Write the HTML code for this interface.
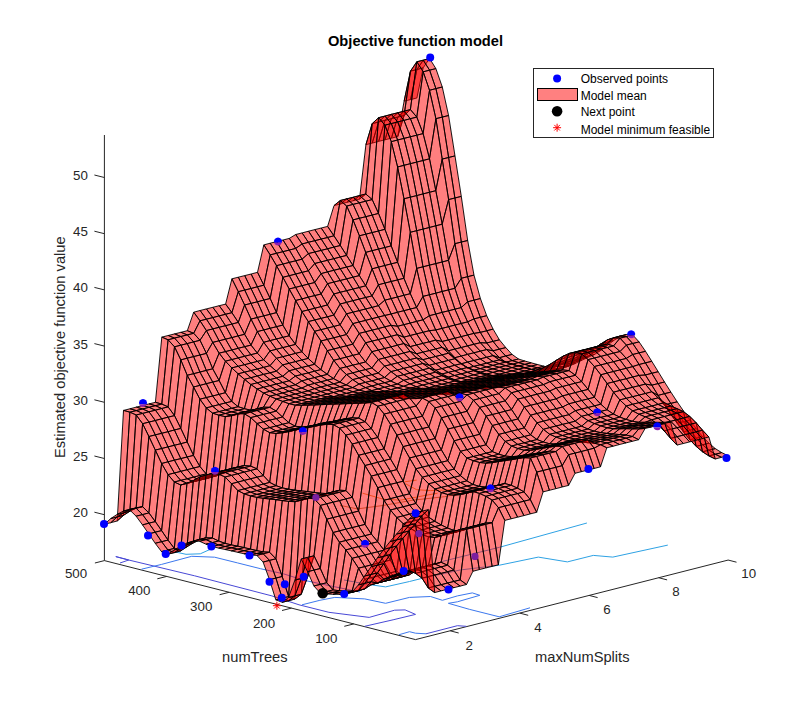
<!DOCTYPE html>
<html><head><meta charset="utf-8"><title>Objective function model</title>
<style>
html,body{margin:0;padding:0;background:#fff}
body{width:803px;height:720px;overflow:hidden}
svg{display:block;font-family:"Liberation Sans",sans-serif}
.tk text{font-size:13.33px;fill:#262626}
.lb text{font-size:14.67px;fill:#262626}
.lg text{font-size:12px;fill:#000}
</style></head><body>
<svg width="803" height="720" viewBox="0 0 803 720">
<rect width="803" height="720" fill="#fff"/>
<g id="axes"><path d="M104.4 135V560.6L415.5 639.6L728 560.1" fill="none" stroke="#262626" stroke-width="1"/><path d="M104.4 514.7l-10 -2.5M104.4 458.5l-10 -2.5M104.4 402.3l-10 -2.5M104.4 346.1l-10 -2.5M104.4 289.9l-10 -2.5M104.4 233.7l-10 -2.5M104.4 177.5l-10 -2.5M104.4 560.6l-9.5 2.4M166.8 576.4l-9.5 2.4M229.1 592.3l-9.5 2.4M291.5 608.1l-9.5 2.4M353.8 623.9l-9.5 2.4M450.2 630.8l8.5 2.2M519.7 613.1l8.5 2.2M589.1 595.4l8.5 2.2M658.6 577.7l8.5 2.2M728.0 560.0l8.5 2.2" fill="none" stroke="#262626" stroke-width="1"/></g>
<g id="floor" fill="none" stroke-width="1"><polyline points="120.0,563.0 128.7,560.0 115.8,556.6 128.7,560.0 194.6,575.8 271.9,595.9 299.0,604.8 328.9,612.3 369.2,617.4 394.6,610.2 405.1,609.9 415.5,614.4 393.1,619.8 364.7,626.3" stroke="#4848d6"/><polyline points="141.5,569.2 161.6,564.4 191.7,556.3 214.6,557.2 237.5,562.9 260.5,568.7 283.4,573.8 303.4,580.1 330.0,585.8 360.0,592.0" stroke="#3c78ee"/><polyline points="302.0,604.8 319.9,600.3 334.8,597.4 364.7,598.9 385.6,603.3 409.5,597.4 430.5,596.5 442.4,600.3 457.4,595.9 472.3,592.9 479.8,595.3 457.4,601.8 448.4,603.3 469.3,609.3 499.2,616.8 530.0,607.8" stroke="#3c78ee"/><polyline points="170.2,550.9 186.0,554.3 200.3,553.8 213.2,548.0" stroke="#2ea2e4"/><polyline points="344.0,580.0 364.7,583.9 385.6,586.9 409.5,581.5 421.5,578.5 460.0,570.0 499.4,565.2 538.3,557.1 567.4,561.9 593.3,555.4 612.8,557.1 667.8,545.1" stroke="#2ea2e4"/><polyline points="440.0,562.0 499.4,547.3 586.9,523.0" stroke="#2ea2e4"/><polyline points="399.1,634.7 409.5,631.7 415.5,633.2 426.0,633.8" stroke="#3c78ee"/><polyline points="426.0,633.8 457.4,625.7 466.3,626.3" stroke="#4848d6"/><polyline points="404.5,481.8 416.7,480.1" stroke="#e59a3c"/><polyline points="405.3,483.6 416.7,489.7 430.6,490.6 451.5,489.7" stroke="#e59a3c"/><polyline points="362.6,493.2 383.6,499.3 401.0,500.1 418.4,496.7 437.6,493.2" stroke="#e59a3c"/><polyline points="340.0,505.4 357.4,508.9 383.6,505.4 413.2,500.1 444.5,496.7 465.4,492.3" stroke="#b08a50"/></g>
<g id="surf" fill="#f00" fill-opacity=".5" stroke="#000" stroke-width=".9" stroke-linejoin="round" shape-rendering="crispEdges">
<path d="M416.9 69.5l-6.4 30.1l6.4 -1.6l6.3 -30.2z"/>
<path d="M410.5 71.1l-6.4 30.1l6.4 -1.6l6.4 -30.1z"/>
<path d="M404.1 115.5l-6.4 21.1l6.4 -35.4l6.4 -30.1z"/>
<path d="M397.7 117.1l-6.3 21.1l6.3 -1.6l6.4 -21.1z"/>
<path d="M391.3 118.7l-6.3 21.1l6.4 -1.6l6.3 -21.1z"/>
<path d="M385 120.3l-6.4 21.1l6.4 -1.6l6.3 -21.1z"/>
<path d="M378.6 122l-6.4 21.1l6.4 -1.7l6.4 -21.1z"/>
<path d="M372.2 123.6l-6.3 21.1l6.3 -1.6l6.4 -21.1z"/>
<path d="M365.8 194l-6.3 5.1l6.4 -54.4l6.3 -21.1z"/>
<path d="M359.5 195.6l-6.4 5.2l6.4 -1.7l6.3 -5.1z"/>
<path d="M353.1 197.3l-6.4 5.1l6.4 -1.6l6.4 -5.2z"/>
<path d="M346.7 198.9l-6.3 5.1l6.3 -1.6l6.4 -5.1z"/>
<path d="M340.3 200.5l-6.3 5.1l6.4 -1.6l6.3 -5.1z"/>
<path d="M333.9 235.8l-6.3 -9.4l6.4 -20.8l6.3 -5.1z"/>
<path d="M327.6 237.5l-6.4 -9.5l6.4 -1.6l6.3 9.4z"/>
<path d="M321.2 239.1l-6.4 -9.5l6.4 -1.6l6.4 9.5z"/>
<path d="M314.8 240.7l-6.3 -9.5l6.3 -1.6l6.4 9.5z"/>
<path d="M308.4 242.3l-6.3 -9.4l6.4 -1.7l6.3 9.5z"/>
<path d="M302.1 244l-6.4 -9.5l6.4 -1.6l6.3 9.4z"/>
<path d="M295.7 248.4l-6.4 -10l6.4 -3.9l6.4 9.5z"/>
<path d="M289.3 250.1l-6.3 -10.1l6.3 -1.6l6.4 10z"/>
<path d="M282.9 251.7l-6.3 -10.1l6.4 -1.6l6.3 10.1z"/>
<path d="M276.6 253.3l-6.4 -10.1l6.4 -1.6l6.3 10.1z"/>
<path d="M270.2 254.9l-6.4 -10l6.4 -1.7l6.4 10.1z"/>
<path d="M263.8 285.2l-6.3 -12.9l6.3 -27.4l6.4 10z"/>
<path d="M257.4 286.8l-6.3 -12.8l6.4 -1.7l6.3 12.9z"/>
<path d="M251 288.5l-6.3 -12.9l6.4 -1.6l6.3 12.8z"/>
<path d="M244.7 290.1l-6.4 -12.9l6.4 -1.6l6.3 12.9z"/>
<path d="M238.3 291.7l-6.4 -12.9l6.4 -1.6l6.4 12.9z"/>
<path d="M231.9 312.7l-6.3 -8.6l6.3 -25.3l6.4 12.9z"/>
<path d="M225.5 314.3l-6.3 -8.6l6.4 -1.6l6.3 8.6z"/>
<path d="M219.2 315.9l-6.4 -8.6l6.4 -1.6l6.3 8.6z"/>
<path d="M212.8 317.6l-6.4 -8.7l6.4 -1.6l6.4 8.6z"/>
<path d="M206.4 319.2l-6.3 -8.7l6.3 -1.6l6.4 8.7z"/>
<path d="M200 320.8l-6.3 -8.6l6.4 -1.7l6.3 8.7z"/>
<path d="M193.7 333.3l-6.4 -2.6l6.4 -18.5l6.3 8.6z"/>
<path d="M187.3 334.9l-6.4 -2.6l6.4 -1.6l6.4 2.6z"/>
<path d="M180.9 336.5l-6.4 -2.6l6.4 -1.6l6.4 2.6z"/>
<path d="M174.5 338.1l-6.3 -2.6l6.3 -1.6l6.4 2.6z"/>
<path d="M168.1 339.8l-6.3 -2.7l6.4 -1.6l6.3 2.6z"/>
<path d="M161.8 404.1l-6.4 -1.8l6.4 -65.2l6.3 2.7z"/>
<path d="M155.4 405.7l-6.4 -1.8l6.4 -1.6l6.4 1.8z"/>
<path d="M149 407.3l-6.3 -1.8l6.3 -1.6l6.4 1.8z"/>
<path d="M142.6 409l-6.3 -1.9l6.4 -1.6l6.3 1.8z"/>
<path d="M136.3 410.6l-6.4 -1.8l6.4 -1.7l6.3 1.9z"/>
<path d="M129.9 412.2l-6.4 -1.8l6.4 -1.6l6.4 1.8z"/>
<path d="M123.5 515.3l-6.3 5.7l6.3 -110.6l6.4 1.8z"/>
<path d="M117.1 516.9l-6.3 5.8l6.4 -1.7l6.3 -5.7z"/>
<path d="M110.7 518.6l-6.3 5.7l6.4 -1.6l6.3 -5.8z"/>
<path d="M423.2 60.2l-6.3 9.3l6.3 -1.7l6.4 -9.3z"/>
<path d="M416.8 61.8l-6.3 9.3l6.4 -1.6l6.3 -9.3z"/>
<path d="M410.4 109.6l-6.3 5.9l6.4 -44.4l6.3 -9.3z"/>
<path d="M404.1 111.2l-6.4 5.9l6.4 -1.6l6.3 -5.9z"/>
<path d="M397.7 112.8l-6.4 5.9l6.4 -1.6l6.4 -5.9z"/>
<path d="M391.3 114.4l-6.3 5.9l6.3 -1.6l6.4 -5.9z"/>
<path d="M384.9 116.1l-6.3 5.9l6.4 -1.7l6.3 -5.9z"/>
<path d="M378.6 117.7l-6.4 5.9l6.4 -1.6l6.3 -5.9z"/>
<path d="M372.2 199.6l-6.4 -5.6l6.4 -70.4l6.4 -5.9z"/>
<path d="M365.8 201.2l-6.3 -5.6l6.3 -1.6l6.4 5.6z"/>
<path d="M359.4 202.8l-6.3 -5.5l6.4 -1.7l6.3 5.6z"/>
<path d="M353.1 204.4l-6.4 -5.5l6.4 -1.6l6.3 5.5z"/>
<path d="M346.7 206.1l-6.4 -5.6l6.4 -1.6l6.4 5.5z"/>
<path d="M340.3 245.5l-6.4 -9.7l6.4 -35.3l6.4 5.6z"/>
<path d="M333.9 247.1l-6.3 -9.6l6.3 -1.7l6.4 9.7z"/>
<path d="M327.5 248.8l-6.3 -9.7l6.4 -1.6l6.3 9.6z"/>
<path d="M321.2 250.4l-6.4 -9.7l6.4 -1.6l6.3 9.7z"/>
<path d="M314.8 252l-6.4 -9.7l6.4 -1.6l6.4 9.7z"/>
<path d="M308.4 253.6l-6.3 -9.6l6.3 -1.7l6.4 9.7z"/>
<path d="M302 259.2l-6.3 -10.8l6.4 -4.4l6.3 9.6z"/>
<path d="M295.7 260.8l-6.4 -10.7l6.4 -1.7l6.3 10.8z"/>
<path d="M289.3 262.4l-6.4 -10.7l6.4 -1.6l6.4 10.7z"/>
<path d="M282.9 264.1l-6.3 -10.8l6.3 -1.6l6.4 10.7z"/>
<path d="M276.5 265.7l-6.3 -10.8l6.4 -1.6l6.3 10.8z"/>
<path d="M270.2 298.5l-6.4 -13.3l6.4 -30.3l6.3 10.8z"/>
<path d="M263.8 300.1l-6.4 -13.3l6.4 -1.6l6.4 13.3z"/>
<path d="M257.4 301.8l-6.4 -13.3l6.4 -1.7l6.4 13.3z"/>
<path d="M251 303.4l-6.3 -13.3l6.3 -1.6l6.4 13.3z"/>
<path d="M244.6 305l-6.3 -13.3l6.4 -1.6l6.3 13.3z"/>
<path d="M238.3 322.4l-6.4 -9.7l6.4 -21l6.3 13.3z"/>
<path d="M231.9 324.1l-6.4 -9.8l6.4 -1.6l6.4 9.7z"/>
<path d="M225.5 325.7l-6.3 -9.8l6.3 -1.6l6.4 9.8z"/>
<path d="M219.1 327.3l-6.3 -9.7l6.4 -1.7l6.3 9.8z"/>
<path d="M212.8 328.9l-6.4 -9.7l6.4 -1.6l6.3 9.7z"/>
<path d="M206.4 330.6l-6.4 -9.8l6.4 -1.6l6.4 9.7z"/>
<path d="M200 340.3l-6.3 -7l6.3 -12.5l6.4 9.8z"/>
<path d="M193.6 341.9l-6.3 -7l6.4 -1.6l6.3 7z"/>
<path d="M187.2 343.6l-6.3 -7.1l6.4 -1.6l6.3 7z"/>
<path d="M180.9 345.2l-6.4 -7.1l6.4 -1.6l6.3 7.1z"/>
<path d="M174.5 346.8l-6.4 -7l6.4 -1.7l6.4 7.1z"/>
<path d="M168.1 406.9l-6.3 -2.8l6.3 -64.3l6.4 7z"/>
<path d="M161.7 408.5l-6.3 -2.8l6.4 -1.6l6.3 2.8z"/>
<path d="M155.4 410.2l-6.4 -2.9l6.4 -1.6l6.3 2.8z"/>
<path d="M149 411.8l-6.4 -2.8l6.4 -1.7l6.4 2.9z"/>
<path d="M142.6 413.4l-6.3 -2.8l6.3 -1.6l6.4 2.8z"/>
<path d="M136.2 415l-6.3 -2.8l6.4 -1.6l6.3 2.8z"/>
<path d="M129.9 511.2l-6.4 4.1l6.4 -103.1l6.3 2.8z"/>
<path d="M123.5 512.8l-6.4 4.1l6.4 -1.6l6.4 -4.1z"/>
<path d="M117.1 514.4l-6.4 4.2l6.4 -1.7l6.4 -4.1z"/>
<path d="M429.6 70.2l-6.4 -10l6.4 -1.7l6.3 10.1z"/>
<path d="M423.2 71.8l-6.4 -10l6.4 -1.6l6.4 10z"/>
<path d="M416.8 117.1l-6.4 -7.5l6.4 -47.8l6.4 10z"/>
<path d="M410.4 118.7l-6.3 -7.5l6.3 -1.6l6.4 7.5z"/>
<path d="M404 120.4l-6.3 -7.6l6.4 -1.6l6.3 7.5z"/>
<path d="M397.7 122l-6.4 -7.6l6.4 -1.6l6.3 7.6z"/>
<path d="M391.3 123.6l-6.4 -7.5l6.4 -1.7l6.4 7.6z"/>
<path d="M384.9 125.2l-6.3 -7.5l6.3 -1.6l6.4 7.5z"/>
<path d="M378.5 213.4l-6.3 -13.8l6.4 -81.9l6.3 7.5z"/>
<path d="M372.2 215.1l-6.4 -13.9l6.4 -1.6l6.3 13.8z"/>
<path d="M365.8 216.7l-6.4 -13.9l6.4 -1.6l6.4 13.9z"/>
<path d="M359.4 218.3l-6.3 -13.9l6.3 -1.6l6.4 13.9z"/>
<path d="M353 219.9l-6.3 -13.8l6.4 -1.7l6.3 13.9z"/>
<path d="M346.6 255.4l-6.3 -9.9l6.4 -39.4l6.3 13.8z"/>
<path d="M340.3 257l-6.4 -9.9l6.4 -1.6l6.3 9.9z"/>
<path d="M333.9 258.7l-6.4 -9.9l6.4 -1.7l6.4 9.9z"/>
<path d="M327.5 260.3l-6.3 -9.9l6.3 -1.6l6.4 9.9z"/>
<path d="M321.1 261.9l-6.3 -9.9l6.4 -1.6l6.3 9.9z"/>
<path d="M314.8 263.5l-6.4 -9.9l6.4 -1.6l6.3 9.9z"/>
<path d="M308.4 270.8l-6.4 -11.6l6.4 -5.6l6.4 9.9z"/>
<path d="M302 272.4l-6.3 -11.6l6.3 -1.6l6.4 11.6z"/>
<path d="M295.6 274.1l-6.3 -11.7l6.4 -1.6l6.3 11.6z"/>
<path d="M289.3 275.7l-6.4 -11.6l6.4 -1.7l6.3 11.7z"/>
<path d="M282.9 277.3l-6.4 -11.6l6.4 -1.6l6.4 11.6z"/>
<path d="M276.5 312.6l-6.3 -14.1l6.3 -32.8l6.4 11.6z"/>
<path d="M270.1 314.3l-6.3 -14.2l6.4 -1.6l6.3 14.1z"/>
<path d="M263.7 315.9l-6.3 -14.1l6.4 -1.7l6.3 14.2z"/>
<path d="M257.4 317.5l-6.4 -14.1l6.4 -1.6l6.3 14.1z"/>
<path d="M251 319.1l-6.4 -14.1l6.4 -1.6l6.4 14.1z"/>
<path d="M244.6 334.3l-6.3 -11.9l6.3 -17.4l6.4 14.1z"/>
<path d="M238.2 335.9l-6.3 -11.8l6.4 -1.7l6.3 11.9z"/>
<path d="M231.9 337.6l-6.4 -11.9l6.4 -1.6l6.3 11.8z"/>
<path d="M225.5 339.2l-6.4 -11.9l6.4 -1.6l6.4 11.9z"/>
<path d="M219.1 340.8l-6.3 -11.9l6.3 -1.6l6.4 11.9z"/>
<path d="M212.7 342.4l-6.3 -11.8l6.4 -1.7l6.3 11.9z"/>
<path d="M206.4 353.4l-6.4 -13.1l6.4 -9.7l6.3 11.8z"/>
<path d="M200 355l-6.4 -13.1l6.4 -1.6l6.4 13.1z"/>
<path d="M193.6 356.6l-6.4 -13l6.4 -1.7l6.4 13.1z"/>
<path d="M187.2 358.2l-6.3 -13l6.3 -1.6l6.4 13z"/>
<path d="M180.8 359.9l-6.3 -13.1l6.4 -1.6l6.3 13z"/>
<path d="M174.5 415.6l-6.4 -8.7l6.4 -60.1l6.3 13.1z"/>
<path d="M168.1 417.2l-6.4 -8.7l6.4 -1.6l6.4 8.7z"/>
<path d="M161.7 418.8l-6.3 -8.6l6.3 -1.7l6.4 8.7z"/>
<path d="M155.3 420.5l-6.3 -8.7l6.4 -1.6l6.3 8.6z"/>
<path d="M149 422.1l-6.4 -8.7l6.4 -1.6l6.3 8.7z"/>
<path d="M142.6 423.7l-6.4 -8.7l6.4 -1.6l6.4 8.7z"/>
<path d="M136.2 507.8l-6.3 3.4l6.3 -96.2l6.4 8.7z"/>
<path d="M129.8 509.4l-6.3 3.4l6.4 -1.6l6.3 -3.4z"/>
<path d="M123.4 511l-6.3 3.4l6.4 -1.6l6.3 -3.4z"/>
<path d="M435.9 88.6l-6.3 -18.4l6.3 -1.6l6.4 18.4z"/>
<path d="M429.5 90.3l-6.3 -18.5l6.4 -1.6l6.3 18.4z"/>
<path d="M423.1 133.6l-6.3 -16.5l6.4 -45.3l6.3 18.5z"/>
<path d="M416.8 135.2l-6.4 -16.5l6.4 -1.6l6.3 16.5z"/>
<path d="M410.4 136.8l-6.4 -16.4l6.4 -1.7l6.4 16.5z"/>
<path d="M404 138.4l-6.3 -16.4l6.3 -1.6l6.4 16.4z"/>
<path d="M397.6 140l-6.3 -16.4l6.4 -1.6l6.3 16.4z"/>
<path d="M391.3 141.7l-6.4 -16.5l6.4 -1.6l6.3 16.4z"/>
<path d="M384.9 229.3l-6.4 -15.9l6.4 -88.2l6.4 16.5z"/>
<path d="M378.5 231l-6.3 -15.9l6.3 -1.7l6.4 15.9z"/>
<path d="M372.1 232.6l-6.3 -15.9l6.4 -1.6l6.3 15.9z"/>
<path d="M365.8 234.2l-6.4 -15.9l6.4 -1.6l6.3 15.9z"/>
<path d="M359.4 235.8l-6.4 -15.9l6.4 -1.6l6.4 15.9z"/>
<path d="M353 265.5l-6.4 -10.1l6.4 -35.5l6.4 15.9z"/>
<path d="M346.6 267.1l-6.3 -10.1l6.3 -1.6l6.4 10.1z"/>
<path d="M340.2 268.7l-6.3 -10l6.4 -1.7l6.3 10.1z"/>
<path d="M333.9 270.3l-6.4 -10l6.4 -1.6l6.3 10z"/>
<path d="M327.5 271.9l-6.4 -10l6.4 -1.6l6.4 10z"/>
<path d="M321.1 273.6l-6.3 -10.1l6.3 -1.6l6.4 10z"/>
<path d="M314.7 282.5l-6.3 -11.7l6.4 -7.3l6.3 10.1z"/>
<path d="M308.4 284.1l-6.4 -11.7l6.4 -1.6l6.3 11.7z"/>
<path d="M302 285.7l-6.4 -11.6l6.4 -1.7l6.4 11.7z"/>
<path d="M295.6 287.4l-6.3 -11.7l6.3 -1.6l6.4 11.6z"/>
<path d="M289.2 289l-6.3 -11.7l6.4 -1.6l6.3 11.7z"/>
<path d="M282.8 325.1l-6.3 -12.5l6.4 -35.3l6.3 11.7z"/>
<path d="M276.5 326.7l-6.4 -12.4l6.4 -1.7l6.3 12.5z"/>
<path d="M270.1 328.3l-6.4 -12.4l6.4 -1.6l6.4 12.4z"/>
<path d="M263.7 330l-6.3 -12.5l6.3 -1.6l6.4 12.4z"/>
<path d="M257.3 331.6l-6.3 -12.5l6.4 -1.6l6.3 12.5z"/>
<path d="M251 345.1l-6.4 -10.8l6.4 -15.2l6.3 12.5z"/>
<path d="M244.6 346.7l-6.4 -10.8l6.4 -1.6l6.4 10.8z"/>
<path d="M238.2 348.3l-6.3 -10.7l6.3 -1.7l6.4 10.8z"/>
<path d="M231.8 350l-6.3 -10.8l6.4 -1.6l6.3 10.7z"/>
<path d="M225.5 351.6l-6.4 -10.8l6.4 -1.6l6.3 10.8z"/>
<path d="M219.1 353.2l-6.4 -10.8l6.4 -1.6l6.4 10.8z"/>
<path d="M212.7 368.8l-6.3 -15.4l6.3 -11l6.4 10.8z"/>
<path d="M206.3 370.4l-6.3 -15.4l6.4 -1.6l6.3 15.4z"/>
<path d="M199.9 372.1l-6.3 -15.5l6.4 -1.6l6.3 15.4z"/>
<path d="M193.6 373.7l-6.4 -15.5l6.4 -1.6l6.3 15.5z"/>
<path d="M187.2 375.3l-6.4 -15.4l6.4 -1.7l6.4 15.5z"/>
<path d="M180.8 428.4l-6.3 -12.8l6.3 -55.7l6.4 15.4z"/>
<path d="M174.4 430l-6.3 -12.8l6.4 -1.6l6.3 12.8z"/>
<path d="M168.1 431.7l-6.4 -12.9l6.4 -1.6l6.3 12.8z"/>
<path d="M161.7 433.3l-6.4 -12.8l6.4 -1.7l6.4 12.9z"/>
<path d="M155.3 434.9l-6.3 -12.8l6.3 -1.6l6.4 12.8z"/>
<path d="M148.9 436.5l-6.3 -12.8l6.4 -1.6l6.3 12.8z"/>
<path d="M142.6 506.7l-6.4 1.1l6.4 -84.1l6.3 12.8z"/>
<path d="M136.2 508.3l-6.4 1.1l6.4 -1.6l6.4 -1.1z"/>
<path d="M129.8 510l-6.4 1l6.4 -1.6l6.4 -1.1z"/>
<path d="M442.3 117.1l-6.4 -28.5l6.4 -1.6l6.3 28.5z"/>
<path d="M435.9 118.7l-6.4 -28.4l6.4 -1.7l6.4 28.5z"/>
<path d="M429.5 158.8l-6.4 -25.2l6.4 -43.3l6.4 28.4z"/>
<path d="M423.1 160.5l-6.3 -25.3l6.3 -1.6l6.4 25.2z"/>
<path d="M416.7 162.1l-6.3 -25.3l6.4 -1.6l6.3 25.3z"/>
<path d="M410.4 163.7l-6.4 -25.3l6.4 -1.6l6.3 25.3z"/>
<path d="M404 165.3l-6.4 -25.3l6.4 -1.6l6.4 25.3z"/>
<path d="M397.6 167l-6.3 -25.3l6.3 -1.7l6.4 25.3z"/>
<path d="M391.2 245.9l-6.3 -16.6l6.4 -87.6l6.3 25.3z"/>
<path d="M384.9 247.5l-6.4 -16.5l6.4 -1.7l6.3 16.6z"/>
<path d="M378.5 249.1l-6.4 -16.5l6.4 -1.6l6.4 16.5z"/>
<path d="M372.1 250.7l-6.3 -16.5l6.3 -1.6l6.4 16.5z"/>
<path d="M365.7 252.4l-6.3 -16.6l6.4 -1.6l6.3 16.5z"/>
<path d="M359.3 275.6l-6.3 -10.1l6.4 -29.7l6.3 16.6z"/>
<path d="M353 277.2l-6.4 -10.1l6.4 -1.6l6.3 10.1z"/>
<path d="M346.6 278.9l-6.4 -10.2l6.4 -1.6l6.4 10.1z"/>
<path d="M340.2 280.5l-6.3 -10.2l6.3 -1.6l6.4 10.2z"/>
<path d="M333.8 282.1l-6.3 -10.2l6.4 -1.6l6.3 10.2z"/>
<path d="M327.5 283.7l-6.4 -10.1l6.4 -1.7l6.3 10.2z"/>
<path d="M321.1 294l-6.4 -11.5l6.4 -8.9l6.4 10.1z"/>
<path d="M314.7 295.6l-6.3 -11.5l6.3 -1.6l6.4 11.5z"/>
<path d="M308.3 297.2l-6.3 -11.5l6.4 -1.6l6.3 11.5z"/>
<path d="M302 298.9l-6.4 -11.5l6.4 -1.7l6.3 11.5z"/>
<path d="M295.6 300.5l-6.4 -11.5l6.4 -1.6l6.4 11.5z"/>
<path d="M289.2 335.8l-6.4 -10.7l6.4 -36.1l6.4 11.5z"/>
<path d="M282.8 337.4l-6.3 -10.7l6.3 -1.6l6.4 10.7z"/>
<path d="M276.4 339l-6.3 -10.7l6.4 -1.6l6.3 10.7z"/>
<path d="M270.1 340.6l-6.4 -10.6l6.4 -1.7l6.3 10.7z"/>
<path d="M263.7 342.3l-6.4 -10.7l6.4 -1.6l6.4 10.6z"/>
<path d="M257.3 353.1l-6.3 -8l6.3 -13.5l6.4 10.7z"/>
<path d="M250.9 354.7l-6.3 -8l6.4 -1.6l6.3 8z"/>
<path d="M244.6 356.3l-6.4 -8l6.4 -1.6l6.3 8z"/>
<path d="M238.2 357.9l-6.4 -7.9l6.4 -1.7l6.4 8z"/>
<path d="M231.8 359.6l-6.3 -8l6.3 -1.6l6.4 7.9z"/>
<path d="M225.4 361.2l-6.3 -8l6.4 -1.6l6.3 8z"/>
<path d="M219.1 380.5l-6.4 -11.7l6.4 -15.6l6.3 8z"/>
<path d="M212.7 382.1l-6.4 -11.7l6.4 -1.6l6.4 11.7z"/>
<path d="M206.3 383.7l-6.4 -11.6l6.4 -1.7l6.4 11.7z"/>
<path d="M199.9 385.4l-6.3 -11.7l6.3 -1.6l6.4 11.6z"/>
<path d="M193.5 387l-6.3 -11.7l6.4 -1.6l6.3 11.7z"/>
<path d="M187.2 442l-6.4 -13.6l6.4 -53.1l6.3 11.7z"/>
<path d="M180.8 443.7l-6.4 -13.7l6.4 -1.6l6.4 13.6z"/>
<path d="M174.4 445.3l-6.3 -13.6l6.3 -1.7l6.4 13.7z"/>
<path d="M168 446.9l-6.3 -13.6l6.4 -1.6l6.3 13.6z"/>
<path d="M161.7 448.5l-6.4 -13.6l6.4 -1.6l6.3 13.6z"/>
<path d="M155.3 450.1l-6.4 -13.6l6.4 -1.6l6.4 13.6z"/>
<path d="M148.9 512.9l-6.3 -6.2l6.3 -70.2l6.4 13.6z"/>
<path d="M142.5 514.6l-6.3 -6.3l6.4 -1.6l6.3 6.2z"/>
<path d="M136.1 516.2l-6.3 -6.2l6.4 -1.7l6.3 6.3z"/>
<path d="M448.6 157.5l-6.3 -40.4l6.3 -1.6l6.4 40.4z"/>
<path d="M442.2 159.1l-6.3 -40.4l6.4 -1.6l6.3 40.4z"/>
<path d="M435.8 190.7l-6.3 -31.9l6.4 -40.1l6.3 40.4z"/>
<path d="M429.5 192.3l-6.4 -31.8l6.4 -1.7l6.3 31.9z"/>
<path d="M423.1 193.9l-6.4 -31.8l6.4 -1.6l6.4 31.8z"/>
<path d="M416.7 195.6l-6.3 -31.9l6.3 -1.6l6.4 31.8z"/>
<path d="M410.3 197.2l-6.3 -31.9l6.4 -1.6l6.3 31.9z"/>
<path d="M404 198.8l-6.4 -31.8l6.4 -1.7l6.3 31.9z"/>
<path d="M397.6 262.3l-6.4 -16.4l6.4 -78.9l6.4 31.8z"/>
<path d="M391.2 263.9l-6.3 -16.4l6.3 -1.6l6.4 16.4z"/>
<path d="M384.8 265.5l-6.3 -16.4l6.4 -1.6l6.3 16.4z"/>
<path d="M378.5 267.2l-6.4 -16.5l6.4 -1.6l6.3 16.4z"/>
<path d="M372.1 268.8l-6.4 -16.4l6.4 -1.7l6.4 16.5z"/>
<path d="M365.7 285.8l-6.4 -10.2l6.4 -23.2l6.4 16.4z"/>
<path d="M359.3 287.5l-6.3 -10.3l6.3 -1.6l6.4 10.2z"/>
<path d="M352.9 289.1l-6.3 -10.2l6.4 -1.7l6.3 10.3z"/>
<path d="M346.6 290.7l-6.4 -10.2l6.4 -1.6l6.3 10.2z"/>
<path d="M340.2 292.3l-6.4 -10.2l6.4 -1.6l6.4 10.2z"/>
<path d="M333.8 294l-6.3 -10.3l6.3 -1.6l6.4 10.2z"/>
<path d="M327.4 305l-6.3 -11l6.4 -10.3l6.3 10.3z"/>
<path d="M321.1 306.6l-6.4 -11l6.4 -1.6l6.3 11z"/>
<path d="M314.7 308.3l-6.4 -11.1l6.4 -1.6l6.4 11z"/>
<path d="M308.3 309.9l-6.3 -11l6.3 -1.7l6.4 11.1z"/>
<path d="M301.9 311.5l-6.3 -11l6.4 -1.6l6.3 11z"/>
<path d="M295.5 344.4l-6.3 -8.6l6.4 -35.3l6.3 11z"/>
<path d="M289.2 346l-6.4 -8.6l6.4 -1.6l6.3 8.6z"/>
<path d="M282.8 347.6l-6.4 -8.6l6.4 -1.6l6.4 8.6z"/>
<path d="M276.4 349.3l-6.3 -8.7l6.3 -1.6l6.4 8.6z"/>
<path d="M270 350.9l-6.3 -8.6l6.4 -1.7l6.3 8.7z"/>
<path d="M263.7 359.8l-6.4 -6.7l6.4 -10.8l6.3 8.6z"/>
<path d="M257.3 361.4l-6.4 -6.7l6.4 -1.6l6.4 6.7z"/>
<path d="M250.9 363.1l-6.3 -6.8l6.3 -1.6l6.4 6.7z"/>
<path d="M244.5 364.7l-6.3 -6.8l6.4 -1.6l6.3 6.8z"/>
<path d="M238.2 366.3l-6.4 -6.7l6.4 -1.7l6.3 6.8z"/>
<path d="M231.8 367.9l-6.4 -6.7l6.4 -1.6l6.4 6.7z"/>
<path d="M225.4 392.7l-6.3 -12.2l6.3 -19.3l6.4 6.7z"/>
<path d="M219 394.4l-6.3 -12.3l6.4 -1.6l6.3 12.2z"/>
<path d="M212.6 396l-6.3 -12.3l6.4 -1.6l6.3 12.3z"/>
<path d="M206.3 397.6l-6.4 -12.2l6.4 -1.7l6.3 12.3z"/>
<path d="M199.9 399.2l-6.4 -12.2l6.4 -1.6l6.4 12.2z"/>
<path d="M193.5 455.4l-6.3 -13.4l6.3 -55l6.4 12.2z"/>
<path d="M187.1 457l-6.3 -13.3l6.4 -1.7l6.3 13.4z"/>
<path d="M180.8 458.6l-6.4 -13.3l6.4 -1.6l6.3 13.3z"/>
<path d="M174.4 460.2l-6.4 -13.3l6.4 -1.6l6.4 13.3z"/>
<path d="M168 461.8l-6.3 -13.3l6.3 -1.6l6.4 13.3z"/>
<path d="M161.6 463.5l-6.3 -13.4l6.4 -1.6l6.3 13.3z"/>
<path d="M155.3 521.6l-6.4 -8.7l6.4 -62.8l6.3 13.4z"/>
<path d="M148.9 523.2l-6.4 -8.6l6.4 -1.7l6.4 8.7z"/>
<path d="M142.5 524.9l-6.4 -8.7l6.4 -1.6l6.4 8.6z"/>
<path d="M454.9 198l-6.3 -40.5l6.4 -1.6l6.3 40.5z"/>
<path d="M448.6 199.6l-6.4 -40.5l6.4 -1.6l6.3 40.5z"/>
<path d="M442.2 224.2l-6.4 -33.5l6.4 -31.6l6.4 40.5z"/>
<path d="M435.8 225.8l-6.3 -33.5l6.3 -1.6l6.4 33.5z"/>
<path d="M429.4 227.5l-6.3 -33.6l6.4 -1.6l6.3 33.5z"/>
<path d="M423.1 229.1l-6.4 -33.5l6.4 -1.7l6.3 33.6z"/>
<path d="M416.7 230.7l-6.4 -33.5l6.4 -1.6l6.4 33.5z"/>
<path d="M410.3 232.3l-6.3 -33.5l6.3 -1.6l6.4 33.5z"/>
<path d="M403.9 278.3l-6.3 -16l6.4 -63.5l6.3 33.5z"/>
<path d="M397.6 279.9l-6.4 -16l6.4 -1.6l6.3 16z"/>
<path d="M391.2 281.5l-6.4 -16l6.4 -1.6l6.4 16z"/>
<path d="M384.8 283.1l-6.3 -15.9l6.3 -1.7l6.4 16z"/>
<path d="M378.4 284.8l-6.3 -16l6.4 -1.6l6.3 15.9z"/>
<path d="M372 295.9l-6.3 -10.1l6.4 -17l6.3 16z"/>
<path d="M365.7 297.5l-6.4 -10l6.4 -1.7l6.3 10.1z"/>
<path d="M359.3 299.1l-6.4 -10l6.4 -1.6l6.4 10z"/>
<path d="M352.9 300.7l-6.3 -10l6.3 -1.6l6.4 10z"/>
<path d="M346.5 302.4l-6.3 -10.1l6.4 -1.6l6.3 10z"/>
<path d="M340.2 304l-6.4 -10l6.4 -1.7l6.3 10.1z"/>
<path d="M333.8 315.1l-6.4 -10.1l6.4 -11l6.4 10z"/>
<path d="M327.4 316.8l-6.3 -10.2l6.3 -1.6l6.4 10.1z"/>
<path d="M321 318.4l-6.3 -10.1l6.4 -1.7l6.3 10.2z"/>
<path d="M314.7 320l-6.4 -10.1l6.4 -1.6l6.3 10.1z"/>
<path d="M308.3 321.6l-6.4 -10.1l6.4 -1.6l6.4 10.1z"/>
<path d="M301.9 351.8l-6.4 -7.4l6.4 -32.9l6.4 10.1z"/>
<path d="M295.5 353.4l-6.3 -7.4l6.3 -1.6l6.4 7.4z"/>
<path d="M289.1 355.1l-6.3 -7.5l6.4 -1.6l6.3 7.4z"/>
<path d="M282.8 356.7l-6.4 -7.4l6.4 -1.7l6.3 7.5z"/>
<path d="M276.4 358.3l-6.4 -7.4l6.4 -1.6l6.4 7.4z"/>
<path d="M270 365.7l-6.3 -5.9l6.3 -8.9l6.4 7.4z"/>
<path d="M263.6 367.4l-6.3 -6l6.4 -1.6l6.3 5.9z"/>
<path d="M257.3 369l-6.4 -5.9l6.4 -1.7l6.3 6z"/>
<path d="M250.9 370.6l-6.4 -5.9l6.4 -1.6l6.4 5.9z"/>
<path d="M244.5 372.2l-6.3 -5.9l6.3 -1.6l6.4 5.9z"/>
<path d="M238.1 373.8l-6.3 -5.9l6.4 -1.6l6.3 5.9z"/>
<path d="M231.7 401.4l-6.3 -8.7l6.4 -24.8l6.3 5.9z"/>
<path d="M225.4 403l-6.4 -8.6l6.4 -1.7l6.3 8.7z"/>
<path d="M219 404.6l-6.4 -8.6l6.4 -1.6l6.4 8.6z"/>
<path d="M212.6 406.3l-6.3 -8.7l6.3 -1.6l6.4 8.6z"/>
<path d="M206.2 407.9l-6.3 -8.7l6.4 -1.6l6.3 8.7z"/>
<path d="M199.9 466.5l-6.4 -11.1l6.4 -56.2l6.3 8.7z"/>
<path d="M193.5 468.1l-6.4 -11.1l6.4 -1.6l6.4 11.1z"/>
<path d="M187.1 469.7l-6.3 -11.1l6.3 -1.6l6.4 11.1z"/>
<path d="M180.7 471.4l-6.3 -11.2l6.4 -1.6l6.3 11.1z"/>
<path d="M174.4 473l-6.4 -11.2l6.4 -1.6l6.3 11.2z"/>
<path d="M168 474.6l-6.4 -11.1l6.4 -1.7l6.4 11.2z"/>
<path d="M161.6 530.6l-6.3 -9l6.3 -58.1l6.4 11.1z"/>
<path d="M155.2 532.2l-6.3 -9l6.4 -1.6l6.3 9z"/>
<path d="M148.8 533.9l-6.3 -9l6.4 -1.7l6.3 9z"/>
<path d="M461.3 242.1l-6.4 -44.1l6.4 -1.6l6.4 44.1z"/>
<path d="M454.9 243.7l-6.3 -44.1l6.3 -1.6l6.4 44.1z"/>
<path d="M448.5 260.3l-6.3 -36.1l6.4 -24.6l6.3 44.1z"/>
<path d="M442.2 262l-6.4 -36.2l6.4 -1.6l6.3 36.1z"/>
<path d="M435.8 263.6l-6.4 -36.1l6.4 -1.7l6.4 36.2z"/>
<path d="M429.4 265.2l-6.3 -36.1l6.3 -1.6l6.4 36.1z"/>
<path d="M423 266.8l-6.3 -36.1l6.4 -1.6l6.3 36.1z"/>
<path d="M416.7 268.4l-6.4 -36.1l6.4 -1.6l6.3 36.1z"/>
<path d="M410.3 293.7l-6.4 -15.4l6.4 -46l6.4 36.1z"/>
<path d="M403.9 295.3l-6.3 -15.4l6.3 -1.6l6.4 15.4z"/>
<path d="M397.5 297l-6.3 -15.5l6.4 -1.6l6.3 15.4z"/>
<path d="M391.2 298.6l-6.4 -15.5l6.4 -1.6l6.3 15.5z"/>
<path d="M384.8 300.2l-6.4 -15.4l6.4 -1.7l6.4 15.5z"/>
<path d="M378.4 305.7l-6.4 -9.8l6.4 -11.1l6.4 15.4z"/>
<path d="M372 307.4l-6.3 -9.9l6.3 -1.6l6.4 9.8z"/>
<path d="M365.6 309l-6.3 -9.9l6.4 -1.6l6.3 9.9z"/>
<path d="M359.3 310.6l-6.4 -9.9l6.4 -1.6l6.3 9.9z"/>
<path d="M352.9 312.2l-6.4 -9.8l6.4 -1.7l6.4 9.9z"/>
<path d="M346.5 313.9l-6.3 -9.9l6.3 -1.6l6.4 9.8z"/>
<path d="M340.1 324.8l-6.3 -9.7l6.4 -11.1l6.3 9.9z"/>
<path d="M333.8 326.5l-6.4 -9.7l6.4 -1.7l6.3 9.7z"/>
<path d="M327.4 328.1l-6.4 -9.7l6.4 -1.6l6.4 9.7z"/>
<path d="M321 329.7l-6.3 -9.7l6.3 -1.6l6.4 9.7z"/>
<path d="M314.6 331.3l-6.3 -9.7l6.4 -1.6l6.3 9.7z"/>
<path d="M308.2 358.4l-6.3 -6.6l6.4 -30.2l6.3 9.7z"/>
<path d="M301.9 360l-6.4 -6.6l6.4 -1.6l6.3 6.6z"/>
<path d="M295.5 361.6l-6.4 -6.5l6.4 -1.7l6.4 6.6z"/>
<path d="M289.1 363.3l-6.3 -6.6l6.3 -1.6l6.4 6.5z"/>
<path d="M282.7 364.9l-6.3 -6.6l6.4 -1.6l6.3 6.6z"/>
<path d="M276.4 371.2l-6.4 -5.5l6.4 -7.4l6.3 6.6z"/>
<path d="M270 372.8l-6.4 -5.4l6.4 -1.7l6.4 5.5z"/>
<path d="M263.6 374.4l-6.3 -5.4l6.3 -1.6l6.4 5.4z"/>
<path d="M257.2 376l-6.3 -5.4l6.4 -1.6l6.3 5.4z"/>
<path d="M250.9 377.7l-6.4 -5.5l6.4 -1.6l6.3 5.4z"/>
<path d="M244.5 379.3l-6.4 -5.5l6.4 -1.6l6.4 5.5z"/>
<path d="M238.1 406.7l-6.4 -5.3l6.4 -27.6l6.4 5.5z"/>
<path d="M231.7 408.3l-6.3 -5.3l6.3 -1.6l6.4 5.3z"/>
<path d="M225.3 410l-6.3 -5.4l6.4 -1.6l6.3 5.3z"/>
<path d="M219 411.6l-6.4 -5.3l6.4 -1.7l6.3 5.4z"/>
<path d="M212.6 413.2l-6.4 -5.3l6.4 -1.6l6.4 5.3z"/>
<path d="M206.2 473.9l-6.3 -7.4l6.3 -58.6l6.4 5.3z"/>
<path d="M199.8 475.5l-6.3 -7.4l6.4 -1.6l6.3 7.4z"/>
<path d="M193.5 477.2l-6.4 -7.5l6.4 -1.6l6.3 7.4z"/>
<path d="M187.1 478.8l-6.4 -7.4l6.4 -1.7l6.4 7.5z"/>
<path d="M180.7 480.4l-6.3 -7.4l6.3 -1.6l6.4 7.4z"/>
<path d="M174.3 482l-6.3 -7.4l6.4 -1.6l6.3 7.4z"/>
<path d="M168 540.1l-6.4 -9.5l6.4 -56l6.3 7.4z"/>
<path d="M161.6 541.7l-6.4 -9.5l6.4 -1.6l6.4 9.5z"/>
<path d="M155.2 543.3l-6.4 -9.4l6.4 -1.7l6.4 9.5z"/>
<path d="M467.6 276.7l-6.3 -34.6l6.4 -1.6l6.3 34.6z"/>
<path d="M461.3 278.3l-6.4 -34.6l6.4 -1.6l6.3 34.6z"/>
<path d="M454.9 288.3l-6.4 -28l6.4 -16.6l6.4 34.6z"/>
<path d="M448.5 289.9l-6.3 -27.9l6.3 -1.7l6.4 28z"/>
<path d="M442.1 291.5l-6.3 -27.9l6.4 -1.6l6.3 27.9z"/>
<path d="M435.8 293.2l-6.4 -28l6.4 -1.6l6.3 27.9z"/>
<path d="M429.4 294.8l-6.4 -28l6.4 -1.6l6.4 28z"/>
<path d="M423 296.4l-6.3 -28l6.3 -1.6l6.4 28z"/>
<path d="M416.6 307.5l-6.3 -13.8l6.4 -25.3l6.3 28z"/>
<path d="M410.3 309.1l-6.4 -13.8l6.4 -1.6l6.3 13.8z"/>
<path d="M403.9 310.7l-6.4 -13.7l6.4 -1.7l6.4 13.8z"/>
<path d="M397.5 312.3l-6.3 -13.7l6.3 -1.6l6.4 13.7z"/>
<path d="M391.1 314l-6.3 -13.8l6.4 -1.6l6.3 13.7z"/>
<path d="M384.7 315.5l-6.3 -9.8l6.4 -5.5l6.3 13.8z"/>
<path d="M378.4 317.1l-6.4 -9.7l6.4 -1.7l6.3 9.8z"/>
<path d="M372 318.7l-6.4 -9.7l6.4 -1.6l6.4 9.7z"/>
<path d="M365.6 320.4l-6.3 -9.8l6.3 -1.6l6.4 9.7z"/>
<path d="M359.2 322l-6.3 -9.8l6.4 -1.6l6.3 9.8z"/>
<path d="M352.9 323.6l-6.4 -9.7l6.4 -1.7l6.3 9.8z"/>
<path d="M346.5 334.5l-6.4 -9.7l6.4 -10.9l6.4 9.7z"/>
<path d="M340.1 336.2l-6.3 -9.7l6.3 -1.7l6.4 9.7z"/>
<path d="M333.7 337.8l-6.3 -9.7l6.4 -1.6l6.3 9.7z"/>
<path d="M327.4 339.4l-6.4 -9.7l6.4 -1.6l6.3 9.7z"/>
<path d="M321 341l-6.4 -9.7l6.4 -1.6l6.4 9.7z"/>
<path d="M314.6 364.3l-6.4 -5.9l6.4 -27.1l6.4 9.7z"/>
<path d="M308.2 365.9l-6.3 -5.9l6.3 -1.6l6.4 5.9z"/>
<path d="M301.8 367.5l-6.3 -5.9l6.4 -1.6l6.3 5.9z"/>
<path d="M295.5 369.1l-6.4 -5.8l6.4 -1.7l6.3 5.9z"/>
<path d="M289.1 370.8l-6.4 -5.9l6.4 -1.6l6.4 5.8z"/>
<path d="M282.7 376.3l-6.3 -5.1l6.3 -6.3l6.4 5.9z"/>
<path d="M276.3 378l-6.3 -5.2l6.4 -1.6l6.3 5.1z"/>
<path d="M270 379.6l-6.4 -5.2l6.4 -1.6l6.3 5.2z"/>
<path d="M263.6 381.2l-6.4 -5.2l6.4 -1.6l6.4 5.2z"/>
<path d="M257.2 382.8l-6.3 -5.1l6.3 -1.7l6.4 5.2z"/>
<path d="M250.8 384.5l-6.3 -5.2l6.4 -1.6l6.3 5.1z"/>
<path d="M244.4 408.7l-6.3 -2l6.4 -27.4l6.3 5.2z"/>
<path d="M238.1 410.3l-6.4 -2l6.4 -1.6l6.3 2z"/>
<path d="M231.7 411.9l-6.4 -1.9l6.4 -1.7l6.4 2z"/>
<path d="M225.3 413.5l-6.3 -1.9l6.3 -1.6l6.4 1.9z"/>
<path d="M218.9 415.2l-6.3 -2l6.4 -1.6l6.3 1.9z"/>
<path d="M212.6 476.8l-6.4 -2.9l6.4 -60.7l6.3 2z"/>
<path d="M206.2 478.5l-6.4 -3l6.4 -1.6l6.4 2.9z"/>
<path d="M199.8 480.1l-6.3 -2.9l6.3 -1.7l6.4 3z"/>
<path d="M193.4 481.7l-6.3 -2.9l6.4 -1.6l6.3 2.9z"/>
<path d="M187.1 483.3l-6.4 -2.9l6.4 -1.6l6.3 2.9z"/>
<path d="M180.7 485l-6.4 -3l6.4 -1.6l6.4 2.9z"/>
<path d="M174.3 548.4l-6.3 -8.3l6.3 -58.1l6.4 3z"/>
<path d="M167.9 550l-6.3 -8.3l6.4 -1.6l6.3 8.3z"/>
<path d="M161.5 551.6l-6.3 -8.3l6.4 -1.6l6.3 8.3z"/>
<path d="M474 300.2l-6.4 -23.5l6.4 -1.6l6.4 23.4z"/>
<path d="M467.6 301.8l-6.3 -23.5l6.3 -1.6l6.4 23.5z"/>
<path d="M461.2 307.6l-6.3 -19.3l6.4 -10l6.3 23.5z"/>
<path d="M454.9 309.2l-6.4 -19.3l6.4 -1.6l6.3 19.3z"/>
<path d="M448.5 310.8l-6.4 -19.3l6.4 -1.6l6.4 19.3z"/>
<path d="M442.1 312.4l-6.3 -19.2l6.3 -1.7l6.4 19.3z"/>
<path d="M435.7 314.1l-6.3 -19.3l6.4 -1.6l6.3 19.2z"/>
<path d="M429.4 315.7l-6.4 -19.3l6.4 -1.6l6.3 19.3z"/>
<path d="M423 319.8l-6.4 -12.3l6.4 -11.1l6.4 19.3z"/>
<path d="M416.6 321.4l-6.3 -12.3l6.3 -1.6l6.4 12.3z"/>
<path d="M410.2 323.1l-6.3 -12.4l6.4 -1.6l6.3 12.3z"/>
<path d="M403.8 324.7l-6.3 -12.4l6.4 -1.6l6.3 12.4z"/>
<path d="M397.5 326.3l-6.4 -12.3l6.4 -1.7l6.3 12.4z"/>
<path d="M391.1 325.3l-6.4 -9.8l6.4 -1.5l6.4 12.3z"/>
<path d="M384.7 326.9l-6.3 -9.8l6.3 -1.6l6.4 9.8z"/>
<path d="M378.3 328.6l-6.3 -9.9l6.4 -1.6l6.3 9.8z"/>
<path d="M372 330.2l-6.4 -9.8l6.4 -1.7l6.3 9.9z"/>
<path d="M365.6 331.8l-6.4 -9.8l6.4 -1.6l6.4 9.8z"/>
<path d="M359.2 333.4l-6.3 -9.8l6.3 -1.6l6.4 9.8z"/>
<path d="M352.8 344.2l-6.3 -9.7l6.4 -10.9l6.3 9.8z"/>
<path d="M346.5 345.8l-6.4 -9.6l6.4 -1.7l6.3 9.7z"/>
<path d="M340.1 347.4l-6.4 -9.6l6.4 -1.6l6.4 9.6z"/>
<path d="M333.7 349l-6.3 -9.6l6.3 -1.6l6.4 9.6z"/>
<path d="M327.3 350.7l-6.3 -9.7l6.4 -1.6l6.3 9.6z"/>
<path d="M320.9 369.6l-6.3 -5.3l6.4 -23.3l6.3 9.7z"/>
<path d="M314.6 371.2l-6.4 -5.3l6.4 -1.6l6.3 5.3z"/>
<path d="M308.2 372.9l-6.4 -5.4l6.4 -1.6l6.4 5.3z"/>
<path d="M301.8 374.5l-6.3 -5.4l6.3 -1.6l6.4 5.4z"/>
<path d="M295.4 376.1l-6.3 -5.3l6.4 -1.7l6.3 5.4z"/>
<path d="M289.1 380.8l-6.4 -4.5l6.4 -5.5l6.3 5.3z"/>
<path d="M282.7 382.5l-6.4 -4.5l6.4 -1.7l6.4 4.5z"/>
<path d="M276.3 384.1l-6.3 -4.5l6.3 -1.6l6.4 4.5z"/>
<path d="M269.9 385.7l-6.3 -4.5l6.4 -1.6l6.3 4.5z"/>
<path d="M263.6 387.3l-6.4 -4.5l6.4 -1.6l6.3 4.5z"/>
<path d="M257.2 389l-6.4 -4.5l6.4 -1.7l6.4 4.5z"/>
<path d="M250.8 410.2l-6.4 -1.5l6.4 -24.2l6.4 4.5z"/>
<path d="M244.4 411.8l-6.3 -1.5l6.3 -1.6l6.4 1.5z"/>
<path d="M238 413.5l-6.3 -1.6l6.4 -1.6l6.3 1.5z"/>
<path d="M231.7 415.1l-6.4 -1.6l6.4 -1.6l6.3 1.6z"/>
<path d="M225.3 416.7l-6.4 -1.5l6.4 -1.7l6.4 1.6z"/>
<path d="M218.9 475.1l-6.3 1.7l6.3 -61.6l6.4 1.5z"/>
<path d="M212.5 476.8l-6.3 1.7l6.4 -1.7l6.3 -1.7z"/>
<path d="M206.2 478.4l-6.4 1.7l6.4 -1.6l6.3 -1.7z"/>
<path d="M199.8 480l-6.4 1.7l6.4 -1.6l6.4 -1.7z"/>
<path d="M193.4 481.6l-6.3 1.7l6.3 -1.6l6.4 -1.7z"/>
<path d="M187 483.3l-6.3 1.7l6.4 -1.7l6.3 -1.7z"/>
<path d="M180.6 550.9l-6.3 -2.5l6.4 -63.4l6.3 -1.7z"/>
<path d="M174.3 552.6l-6.4 -2.6l6.4 -1.6l6.3 2.5z"/>
<path d="M167.9 554.2l-6.4 -2.6l6.4 -1.6l6.4 2.6z"/>
<path d="M480.3 317.3l-6.3 -17.1l6.4 -1.7l6.3 17.2z"/>
<path d="M474 318.9l-6.4 -17.1l6.4 -1.6l6.3 17.1z"/>
<path d="M467.6 321.9l-6.4 -14.3l6.4 -5.8l6.4 17.1z"/>
<path d="M461.2 323.5l-6.3 -14.3l6.3 -1.6l6.4 14.3z"/>
<path d="M454.8 325.1l-6.3 -14.3l6.4 -1.6l6.3 14.3z"/>
<path d="M448.5 326.7l-6.4 -14.3l6.4 -1.6l6.3 14.3z"/>
<path d="M442.1 328.4l-6.4 -14.3l6.4 -1.7l6.4 14.3z"/>
<path d="M435.7 330l-6.3 -14.3l6.3 -1.6l6.4 14.3z"/>
<path d="M429.3 330.7l-6.3 -10.9l6.4 -4.1l6.3 14.3z"/>
<path d="M423 332.3l-6.4 -10.9l6.4 -1.6l6.3 10.9z"/>
<path d="M416.6 333.9l-6.4 -10.8l6.4 -1.7l6.4 10.9z"/>
<path d="M410.2 335.5l-6.4 -10.8l6.4 -1.6l6.4 10.8z"/>
<path d="M403.8 337.2l-6.3 -10.9l6.3 -1.6l6.4 10.8z"/>
<path d="M397.4 334.7l-6.3 -9.4l6.4 1l6.3 10.9z"/>
<path d="M391.1 336.3l-6.4 -9.4l6.4 -1.6l6.3 9.4z"/>
<path d="M384.7 337.9l-6.4 -9.3l6.4 -1.7l6.4 9.4z"/>
<path d="M378.3 339.6l-6.3 -9.4l6.3 -1.6l6.4 9.3z"/>
<path d="M371.9 341.2l-6.3 -9.4l6.4 -1.6l6.3 9.4z"/>
<path d="M365.6 342.8l-6.4 -9.4l6.4 -1.6l6.3 9.4z"/>
<path d="M359.2 353.8l-6.4 -9.6l6.4 -10.8l6.4 9.4z"/>
<path d="M352.8 355.4l-6.3 -9.6l6.3 -1.6l6.4 9.6z"/>
<path d="M346.4 357.1l-6.3 -9.7l6.4 -1.6l6.3 9.6z"/>
<path d="M340.1 358.7l-6.4 -9.7l6.4 -1.6l6.3 9.7z"/>
<path d="M333.7 360.3l-6.4 -9.6l6.4 -1.7l6.4 9.7z"/>
<path d="M327.3 374.4l-6.4 -4.8l6.4 -18.9l6.4 9.6z"/>
<path d="M320.9 376l-6.3 -4.8l6.3 -1.6l6.4 4.8z"/>
<path d="M314.5 377.6l-6.3 -4.7l6.4 -1.7l6.3 4.8z"/>
<path d="M308.2 379.2l-6.4 -4.7l6.4 -1.6l6.3 4.7z"/>
<path d="M301.8 380.9l-6.4 -4.8l6.4 -1.6l6.4 4.7z"/>
<path d="M295.4 384.8l-6.3 -4l6.3 -4.7l6.4 4.8z"/>
<path d="M289 386.5l-6.3 -4l6.4 -1.7l6.3 4z"/>
<path d="M282.7 388.1l-6.4 -4l6.4 -1.6l6.3 4z"/>
<path d="M276.3 389.7l-6.4 -4l6.4 -1.6l6.4 4z"/>
<path d="M269.9 391.3l-6.3 -4l6.3 -1.6l6.4 4z"/>
<path d="M263.5 393l-6.3 -4l6.4 -1.7l6.3 4z"/>
<path d="M257.1 409.3l-6.3 .9l6.4 -21.2l6.3 4z"/>
<path d="M250.8 410.9l-6.4 .9l6.4 -1.6l6.3 -.9z"/>
<path d="M244.4 412.5l-6.4 1l6.4 -1.7l6.4 -.9z"/>
<path d="M238 414.2l-6.3 .9l6.3 -1.6l6.4 -1z"/>
<path d="M231.6 415.8l-6.3 .9l6.4 -1.6l6.3 -.9z"/>
<path d="M225.3 472.4l-6.4 2.7l6.4 -58.4l6.3 -.9z"/>
<path d="M218.9 474l-6.4 2.8l6.4 -1.7l6.4 -2.7z"/>
<path d="M212.5 475.6l-6.3 2.8l6.3 -1.6l6.4 -2.8z"/>
<path d="M206.1 477.3l-6.3 2.7l6.4 -1.6l6.3 -2.8z"/>
<path d="M199.8 478.9l-6.4 2.7l6.4 -1.6l6.3 -2.7z"/>
<path d="M193.4 480.5l-6.4 2.8l6.4 -1.7l6.4 -2.7z"/>
<path d="M187 546.7l-6.4 4.2l6.4 -67.6l6.4 -2.8z"/>
<path d="M180.6 548.3l-6.3 4.3l6.3 -1.7l6.4 -4.2z"/>
<path d="M174.2 549.9l-6.3 4.3l6.4 -1.6l6.3 -4.3z"/>
<path d="M486.7 330.8l-6.4 -13.5l6.4 -1.6l6.4 13.4z"/>
<path d="M480.3 332.4l-6.3 -13.5l6.3 -1.6l6.4 13.5z"/>
<path d="M473.9 333.4l-6.3 -11.5l6.4 -3l6.3 13.5z"/>
<path d="M467.6 335l-6.4 -11.5l6.4 -1.6l6.3 11.5z"/>
<path d="M461.2 336.6l-6.4 -11.5l6.4 -1.6l6.4 11.5z"/>
<path d="M454.8 338.3l-6.3 -11.6l6.3 -1.6l6.4 11.5z"/>
<path d="M448.4 339.9l-6.3 -11.5l6.4 -1.7l6.3 11.6z"/>
<path d="M442.1 341.5l-6.4 -11.5l6.4 -1.6l6.3 11.5z"/>
<path d="M435.7 340.1l-6.4 -9.4l6.4 -.7l6.4 11.5z"/>
<path d="M429.3 341.8l-6.3 -9.5l6.3 -1.6l6.4 9.4z"/>
<path d="M422.9 343.4l-6.3 -9.5l6.4 -1.6l6.3 9.5z"/>
<path d="M416.5 345l-6.3 -9.5l6.4 -1.6l6.3 9.5z"/>
<path d="M410.2 346.6l-6.4 -9.4l6.4 -1.7l6.3 9.5z"/>
<path d="M403.8 343.6l-6.4 -8.9l6.4 2.5l6.4 9.4z"/>
<path d="M397.4 345.2l-6.3 -8.9l6.3 -1.6l6.4 8.9z"/>
<path d="M391 346.9l-6.3 -9l6.4 -1.6l6.3 8.9z"/>
<path d="M384.7 348.5l-6.4 -8.9l6.4 -1.7l6.3 9z"/>
<path d="M378.3 350.1l-6.4 -8.9l6.4 -1.6l6.4 8.9z"/>
<path d="M371.9 351.7l-6.3 -8.9l6.3 -1.6l6.4 8.9z"/>
<path d="M365.5 362l-6.3 -8.2l6.4 -11l6.3 8.9z"/>
<path d="M359.2 363.6l-6.4 -8.2l6.4 -1.6l6.3 8.2z"/>
<path d="M352.8 365.2l-6.4 -8.1l6.4 -1.7l6.4 8.2z"/>
<path d="M346.4 366.8l-6.3 -8.1l6.3 -1.6l6.4 8.1z"/>
<path d="M340 368.4l-6.3 -8.1l6.4 -1.6l6.3 8.1z"/>
<path d="M333.6 378.6l-6.3 -4.2l6.4 -14.1l6.3 8.1z"/>
<path d="M327.3 380.2l-6.4 -4.2l6.4 -1.6l6.3 4.2z"/>
<path d="M320.9 381.8l-6.4 -4.2l6.4 -1.6l6.4 4.2z"/>
<path d="M314.5 383.4l-6.3 -4.2l6.3 -1.6l6.4 4.2z"/>
<path d="M308.1 385.1l-6.3 -4.2l6.4 -1.7l6.3 4.2z"/>
<path d="M301.8 388.1l-6.4 -3.3l6.4 -3.9l6.3 4.2z"/>
<path d="M295.4 389.7l-6.4 -3.2l6.4 -1.7l6.4 3.3z"/>
<path d="M289 391.3l-6.3 -3.2l6.3 -1.6l6.4 3.2z"/>
<path d="M282.6 393l-6.3 -3.3l6.4 -1.6l6.3 3.2z"/>
<path d="M276.3 394.6l-6.4 -3.3l6.4 -1.6l6.3 3.3z"/>
<path d="M269.9 396.2l-6.4 -3.2l6.4 -1.7l6.4 3.3z"/>
<path d="M263.5 407.2l-6.4 2.1l6.4 -16.3l6.4 3.2z"/>
<path d="M257.1 408.8l-6.3 2.1l6.3 -1.6l6.4 -2.1z"/>
<path d="M250.7 410.5l-6.3 2l6.4 -1.6l6.3 -2.1z"/>
<path d="M244.4 412.1l-6.4 2.1l6.4 -1.7l6.3 -2z"/>
<path d="M238 413.7l-6.4 2.1l6.4 -1.6l6.4 -2.1z"/>
<path d="M231.6 469l-6.3 3.4l6.3 -56.6l6.4 -2.1z"/>
<path d="M225.2 470.6l-6.3 3.4l6.4 -1.6l6.3 -3.4z"/>
<path d="M218.9 472.2l-6.4 3.4l6.4 -1.6l6.3 -3.4z"/>
<path d="M212.5 473.9l-6.4 3.4l6.4 -1.7l6.4 -3.4z"/>
<path d="M206.1 475.5l-6.3 3.4l6.3 -1.6l6.4 -3.4z"/>
<path d="M199.7 477.1l-6.3 3.4l6.4 -1.6l6.3 -3.4z"/>
<path d="M193.3 542.9l-6.3 3.8l6.4 -66.2l6.3 -3.4z"/>
<path d="M187 544.6l-6.4 3.7l6.4 -1.6l6.3 -3.8z"/>
<path d="M180.6 546.2l-6.4 3.7l6.4 -1.6l6.4 -3.7z"/>
<path d="M493 341.4l-6.3 -10.6l6.4 -1.7l6.3 10.7z"/>
<path d="M486.7 343l-6.4 -10.6l6.4 -1.6l6.3 10.6z"/>
<path d="M480.3 342.7l-6.4 -9.3l6.4 -1l6.4 10.6z"/>
<path d="M473.9 344.3l-6.3 -9.3l6.3 -1.6l6.4 9.3z"/>
<path d="M467.5 345.9l-6.3 -9.3l6.4 -1.6l6.3 9.3z"/>
<path d="M461.2 347.5l-6.4 -9.2l6.4 -1.7l6.3 9.3z"/>
<path d="M454.8 349.1l-6.4 -9.2l6.4 -1.6l6.4 9.2z"/>
<path d="M448.4 350.8l-6.3 -9.3l6.3 -1.6l6.4 9.2z"/>
<path d="M442 347.3l-6.3 -7.2l6.4 1.4l6.3 9.3z"/>
<path d="M435.7 349l-6.4 -7.2l6.4 -1.7l6.3 7.2z"/>
<path d="M429.3 350.6l-6.4 -7.2l6.4 -1.6l6.4 7.2z"/>
<path d="M422.9 352.2l-6.4 -7.2l6.4 -1.6l6.4 7.2z"/>
<path d="M416.5 353.8l-6.3 -7.2l6.3 -1.6l6.4 7.2z"/>
<path d="M410.1 351.4l-6.3 -7.8l6.4 3l6.3 7.2z"/>
<path d="M403.8 353l-6.4 -7.8l6.4 -1.6l6.3 7.8z"/>
<path d="M397.4 354.7l-6.4 -7.8l6.4 -1.7l6.4 7.8z"/>
<path d="M391 356.3l-6.3 -7.8l6.3 -1.6l6.4 7.8z"/>
<path d="M384.6 357.9l-6.3 -7.8l6.4 -1.6l6.3 7.8z"/>
<path d="M378.3 359.5l-6.4 -7.8l6.4 -1.6l6.3 7.8z"/>
<path d="M371.9 368l-6.4 -6l6.4 -10.3l6.4 7.8z"/>
<path d="M365.5 369.6l-6.3 -6l6.3 -1.6l6.4 6z"/>
<path d="M359.1 371.2l-6.3 -6l6.4 -1.6l6.3 6z"/>
<path d="M352.7 372.9l-6.3 -6.1l6.4 -1.6l6.3 6z"/>
<path d="M346.4 374.5l-6.4 -6.1l6.4 -1.6l6.3 6.1z"/>
<path d="M340 382.1l-6.4 -3.5l6.4 -10.2l6.4 6.1z"/>
<path d="M333.6 383.8l-6.3 -3.6l6.3 -1.6l6.4 3.5z"/>
<path d="M327.2 385.4l-6.3 -3.6l6.4 -1.6l6.3 3.6z"/>
<path d="M320.9 387l-6.4 -3.6l6.4 -1.6l6.3 3.6z"/>
<path d="M314.5 388.6l-6.4 -3.5l6.4 -1.7l6.4 3.6z"/>
<path d="M308.1 390.9l-6.3 -2.8l6.3 -3l6.4 3.5z"/>
<path d="M301.7 392.5l-6.3 -2.8l6.4 -1.6l6.3 2.8z"/>
<path d="M295.4 394.1l-6.4 -2.8l6.4 -1.6l6.3 2.8z"/>
<path d="M289 395.7l-6.4 -2.7l6.4 -1.7l6.4 2.8z"/>
<path d="M282.6 397.4l-6.3 -2.8l6.3 -1.6l6.4 2.7z"/>
<path d="M276.2 399l-6.3 -2.8l6.4 -1.6l6.3 2.8z"/>
<path d="M269.8 407.3l-6.3 -.1l6.4 -11l6.3 2.8z"/>
<path d="M263.5 408.9l-6.4 -.1l6.4 -1.6l6.3 .1z"/>
<path d="M257.1 410.5l-6.4 0l6.4 -1.7l6.4 .1z"/>
<path d="M250.7 412.2l-6.3 -.1l6.3 -1.6l6.4 0z"/>
<path d="M244.3 413.8l-6.3 -.1l6.4 -1.6l6.3 .1z"/>
<path d="M238 466.9l-6.4 2.1l6.4 -55.3l6.3 .1z"/>
<path d="M231.6 468.5l-6.4 2.1l6.4 -1.6l6.4 -2.1z"/>
<path d="M225.2 470.1l-6.3 2.1l6.3 -1.6l6.4 -2.1z"/>
<path d="M218.8 471.7l-6.3 2.2l6.4 -1.7l6.3 -2.1z"/>
<path d="M212.5 473.4l-6.4 2.1l6.4 -1.6l6.3 -2.2z"/>
<path d="M206.1 475l-6.4 2.1l6.4 -1.6l6.4 -2.1z"/>
<path d="M199.7 539.8l-6.4 3.1l6.4 -65.8l6.4 -2.1z"/>
<path d="M193.3 541.4l-6.3 3.2l6.3 -1.7l6.4 -3.1z"/>
<path d="M186.9 543.1l-6.3 3.1l6.4 -1.6l6.3 -3.2z"/>
<path d="M499.4 349.2l-6.4 -7.8l6.4 -1.6l6.4 7.8z"/>
<path d="M493 350.8l-6.3 -7.8l6.3 -1.6l6.4 7.8z"/>
<path d="M486.6 349.6l-6.3 -6.9l6.4 .3l6.3 7.8z"/>
<path d="M480.3 351.2l-6.4 -6.9l6.4 -1.6l6.3 6.9z"/>
<path d="M473.9 352.8l-6.4 -6.9l6.4 -1.6l6.4 6.9z"/>
<path d="M467.5 354.4l-6.3 -6.9l6.3 -1.6l6.4 6.9z"/>
<path d="M461.1 356.1l-6.3 -7l6.4 -1.6l6.3 6.9z"/>
<path d="M454.8 357.7l-6.4 -6.9l6.4 -1.7l6.3 7z"/>
<path d="M448.4 353.2l-6.4 -5.9l6.4 3.5l6.4 6.9z"/>
<path d="M442 354.9l-6.3 -5.9l6.3 -1.7l6.4 5.9z"/>
<path d="M435.6 356.5l-6.3 -5.9l6.4 -1.6l6.3 5.9z"/>
<path d="M429.2 358.1l-6.3 -5.9l6.4 -1.6l6.3 5.9z"/>
<path d="M422.9 359.7l-6.4 -5.9l6.4 -1.6l6.3 5.9z"/>
<path d="M416.5 358l-6.4 -6.6l6.4 2.4l6.4 5.9z"/>
<path d="M410.1 359.6l-6.3 -6.6l6.3 -1.6l6.4 6.6z"/>
<path d="M403.7 361.2l-6.3 -6.5l6.4 -1.7l6.3 6.6z"/>
<path d="M397.4 362.9l-6.4 -6.6l6.4 -1.6l6.3 6.5z"/>
<path d="M391 364.5l-6.4 -6.6l6.4 -1.6l6.4 6.6z"/>
<path d="M384.6 366.1l-6.3 -6.6l6.3 -1.6l6.4 6.6z"/>
<path d="M378.2 373.1l-6.3 -5.1l6.4 -8.5l6.3 6.6z"/>
<path d="M371.9 374.7l-6.4 -5.1l6.4 -1.6l6.3 5.1z"/>
<path d="M365.5 376.3l-6.4 -5.1l6.4 -1.6l6.4 5.1z"/>
<path d="M359.1 378l-6.4 -5.1l6.4 -1.7l6.4 5.1z"/>
<path d="M352.7 379.6l-6.3 -5.1l6.3 -1.6l6.4 5.1z"/>
<path d="M346.3 385l-6.3 -2.9l6.4 -7.6l6.3 5.1z"/>
<path d="M340 386.7l-6.4 -2.9l6.4 -1.7l6.3 2.9z"/>
<path d="M333.6 388.3l-6.4 -2.9l6.4 -1.6l6.4 2.9z"/>
<path d="M327.2 389.9l-6.3 -2.9l6.3 -1.6l6.4 2.9z"/>
<path d="M320.8 391.5l-6.3 -2.9l6.4 -1.6l6.3 2.9z"/>
<path d="M314.5 393.3l-6.4 -2.4l6.4 -2.3l6.3 2.9z"/>
<path d="M308.1 394.9l-6.4 -2.4l6.4 -1.6l6.4 2.4z"/>
<path d="M301.7 396.6l-6.3 -2.5l6.3 -1.6l6.4 2.4z"/>
<path d="M295.3 398.2l-6.3 -2.5l6.4 -1.6l6.3 2.5z"/>
<path d="M289 399.8l-6.4 -2.4l6.4 -1.7l6.3 2.5z"/>
<path d="M282.6 401.4l-6.4 -2.4l6.4 -1.6l6.4 2.4z"/>
<path d="M276.2 411.1l-6.4 -3.8l6.4 -8.3l6.4 2.4z"/>
<path d="M269.8 412.8l-6.3 -3.9l6.3 -1.6l6.4 3.8z"/>
<path d="M263.4 414.4l-6.3 -3.9l6.4 -1.6l6.3 3.9z"/>
<path d="M257.1 416l-6.4 -3.8l6.4 -1.7l6.3 3.9z"/>
<path d="M250.7 417.6l-6.4 -3.8l6.4 -1.6l6.4 3.8z"/>
<path d="M244.3 465.6l-6.3 1.3l6.3 -53.1l6.4 3.8z"/>
<path d="M237.9 467.2l-6.3 1.3l6.4 -1.6l6.3 -1.3z"/>
<path d="M231.6 468.9l-6.4 1.2l6.4 -1.6l6.3 -1.3z"/>
<path d="M225.2 470.5l-6.4 1.2l6.4 -1.6l6.4 -1.2z"/>
<path d="M218.8 472.1l-6.3 1.3l6.3 -1.7l6.4 -1.2z"/>
<path d="M212.4 473.7l-6.3 1.3l6.4 -1.6l6.3 -1.3z"/>
<path d="M206 537.8l-6.3 2l6.4 -64.8l6.3 -1.3z"/>
<path d="M199.7 539.4l-6.4 2l6.4 -1.6l6.3 -2z"/>
<path d="M193.3 541l-6.4 2.1l6.4 -1.7l6.4 -2z"/>
<path d="M505.7 356l-6.3 -6.8l6.4 -1.6l6.3 6.8z"/>
<path d="M499.4 357.7l-6.4 -6.9l6.4 -1.6l6.3 6.8z"/>
<path d="M493 355.6l-6.4 -6l6.4 1.2l6.4 6.9z"/>
<path d="M486.6 357.3l-6.3 -6.1l6.3 -1.6l6.4 6z"/>
<path d="M480.2 358.9l-6.3 -6.1l6.4 -1.6l6.3 6.1z"/>
<path d="M473.9 360.5l-6.4 -6.1l6.4 -1.6l6.3 6.1z"/>
<path d="M467.5 362.1l-6.4 -6l6.4 -1.7l6.4 6.1z"/>
<path d="M461.1 363.8l-6.3 -6.1l6.3 -1.6l6.4 6z"/>
<path d="M454.7 358.8l-6.3 -5.6l6.4 4.5l6.3 6.1z"/>
<path d="M448.4 360.4l-6.4 -5.5l6.4 -1.7l6.3 5.6z"/>
<path d="M442 362l-6.4 -5.5l6.4 -1.6l6.4 5.5z"/>
<path d="M435.6 363.6l-6.4 -5.5l6.4 -1.6l6.4 5.5z"/>
<path d="M429.2 365.3l-6.3 -5.6l6.3 -1.6l6.4 5.5z"/>
<path d="M422.8 363.5l-6.3 -5.5l6.4 1.7l6.3 5.6z"/>
<path d="M416.5 365.1l-6.4 -5.5l6.4 -1.6l6.3 5.5z"/>
<path d="M410.1 366.8l-6.4 -5.6l6.4 -1.6l6.4 5.5z"/>
<path d="M403.7 368.4l-6.3 -5.5l6.3 -1.7l6.4 5.6z"/>
<path d="M397.3 370l-6.3 -5.5l6.4 -1.6l6.3 5.5z"/>
<path d="M391 371.6l-6.4 -5.5l6.4 -1.6l6.3 5.5z"/>
<path d="M384.6 377.5l-6.4 -4.4l6.4 -7l6.4 5.5z"/>
<path d="M378.2 379.2l-6.3 -4.5l6.3 -1.6l6.4 4.4z"/>
<path d="M371.8 380.8l-6.3 -4.5l6.4 -1.6l6.3 4.5z"/>
<path d="M365.4 382.4l-6.3 -4.4l6.4 -1.7l6.3 4.5z"/>
<path d="M359.1 384l-6.4 -4.4l6.4 -1.6l6.3 4.4z"/>
<path d="M352.7 387.6l-6.4 -2.6l6.4 -5.4l6.4 4.4z"/>
<path d="M346.3 389.2l-6.3 -2.5l6.3 -1.7l6.4 2.6z"/>
<path d="M339.9 390.9l-6.3 -2.6l6.4 -1.6l6.3 2.5z"/>
<path d="M333.6 392.5l-6.4 -2.6l6.4 -1.6l6.3 2.6z"/>
<path d="M327.2 394.1l-6.4 -2.6l6.4 -1.6l6.4 2.6z"/>
<path d="M320.8 395.6l-6.3 -2.3l6.3 -1.8l6.4 2.6z"/>
<path d="M314.4 397.2l-6.3 -2.3l6.4 -1.6l6.3 2.3z"/>
<path d="M308.1 398.8l-6.4 -2.2l6.4 -1.7l6.3 2.3z"/>
<path d="M301.7 400.4l-6.4 -2.2l6.4 -1.6l6.4 2.2z"/>
<path d="M295.3 402.1l-6.3 -2.3l6.3 -1.6l6.4 2.2z"/>
<path d="M288.9 403.7l-6.3 -2.3l6.4 -1.6l6.3 2.3z"/>
<path d="M282.5 417l-6.3 -5.9l6.4 -9.7l6.3 2.3z"/>
<path d="M276.2 418.6l-6.4 -5.8l6.4 -1.7l6.3 5.9z"/>
<path d="M269.8 420.2l-6.4 -5.8l6.4 -1.6l6.4 5.8z"/>
<path d="M263.4 421.9l-6.3 -5.9l6.3 -1.6l6.4 5.8z"/>
<path d="M257 423.5l-6.3 -5.9l6.4 -1.6l6.3 5.9z"/>
<path d="M250.7 466.1l-6.4 -.5l6.4 -48l6.3 5.9z"/>
<path d="M244.3 467.7l-6.4 -.5l6.4 -1.6l6.4 .5z"/>
<path d="M237.9 469.3l-6.3 -.4l6.3 -1.7l6.4 .5z"/>
<path d="M231.5 470.9l-6.3 -.4l6.4 -1.6l6.3 .4z"/>
<path d="M225.2 472.5l-6.4 -.4l6.4 -1.6l6.3 .4z"/>
<path d="M218.8 474.2l-6.4 -.5l6.4 -1.6l6.4 .4z"/>
<path d="M212.4 538l-6.4 -.2l6.4 -64.1l6.4 .5z"/>
<path d="M206 539.6l-6.3 -.2l6.3 -1.6l6.4 .2z"/>
<path d="M199.6 541.3l-6.3 -.3l6.4 -1.6l6.3 .2z"/>
<path d="M512.1 360.6l-6.4 -4.6l6.4 -1.6l6.4 4.6z"/>
<path d="M505.7 362.2l-6.3 -4.5l6.3 -1.7l6.4 4.6z"/>
<path d="M499.3 359.9l-6.3 -4.3l6.4 2.1l6.3 4.5z"/>
<path d="M493 361.5l-6.4 -4.2l6.4 -1.7l6.3 4.3z"/>
<path d="M486.6 363.2l-6.4 -4.3l6.4 -1.6l6.4 4.2z"/>
<path d="M480.2 364.8l-6.3 -4.3l6.3 -1.6l6.4 4.3z"/>
<path d="M473.8 366.4l-6.3 -4.3l6.4 -1.6l6.3 4.3z"/>
<path d="M467.5 368l-6.4 -4.2l6.4 -1.7l6.3 4.3z"/>
<path d="M461.1 363.7l-6.4 -4.9l6.4 5l6.4 4.2z"/>
<path d="M454.7 365.3l-6.3 -4.9l6.3 -1.6l6.4 4.9z"/>
<path d="M448.3 367l-6.3 -5l6.4 -1.6l6.3 4.9z"/>
<path d="M441.9 368.6l-6.3 -5l6.4 -1.6l6.3 5z"/>
<path d="M435.6 370.2l-6.4 -4.9l6.4 -1.7l6.3 5z"/>
<path d="M429.2 368.2l-6.4 -4.7l6.4 1.8l6.4 4.9z"/>
<path d="M422.8 369.8l-6.3 -4.7l6.3 -1.6l6.4 4.7z"/>
<path d="M416.4 371.5l-6.3 -4.7l6.4 -1.7l6.3 4.7z"/>
<path d="M410.1 373.1l-6.4 -4.7l6.4 -1.6l6.3 4.7z"/>
<path d="M403.7 374.7l-6.4 -4.7l6.4 -1.6l6.4 4.7z"/>
<path d="M397.3 376.3l-6.3 -4.7l6.3 -1.6l6.4 4.7z"/>
<path d="M390.9 381.1l-6.3 -3.6l6.4 -5.9l6.3 4.7z"/>
<path d="M384.6 382.7l-6.4 -3.5l6.4 -1.7l6.3 3.6z"/>
<path d="M378.2 384.3l-6.4 -3.5l6.4 -1.6l6.4 3.5z"/>
<path d="M371.8 386l-6.4 -3.6l6.4 -1.6l6.4 3.5z"/>
<path d="M365.4 387.6l-6.3 -3.6l6.3 -1.6l6.4 3.6z"/>
<path d="M359 390.2l-6.3 -2.6l6.4 -3.6l6.3 3.6z"/>
<path d="M352.7 391.8l-6.4 -2.6l6.4 -1.6l6.3 2.6z"/>
<path d="M346.3 393.4l-6.4 -2.5l6.4 -1.7l6.4 2.6z"/>
<path d="M339.9 395l-6.3 -2.5l6.3 -1.6l6.4 2.5z"/>
<path d="M333.5 396.7l-6.3 -2.6l6.4 -1.6l6.3 2.5z"/>
<path d="M327.2 397l-6.4 -1.4l6.4 -1.5l6.3 2.6z"/>
<path d="M320.8 398.7l-6.4 -1.5l6.4 -1.6l6.4 1.4z"/>
<path d="M314.4 400.3l-6.3 -1.5l6.3 -1.6l6.4 1.5z"/>
<path d="M308 401.9l-6.3 -1.5l6.4 -1.6l6.3 1.5z"/>
<path d="M301.6 403.5l-6.3 -1.4l6.4 -1.7l6.3 1.5z"/>
<path d="M295.3 405.2l-6.4 -1.5l6.4 -1.6l6.3 1.4z"/>
<path d="M288.9 422.7l-6.4 -5.7l6.4 -13.3l6.4 1.5z"/>
<path d="M282.5 424.3l-6.3 -5.7l6.3 -1.6l6.4 5.7z"/>
<path d="M276.1 426l-6.3 -5.8l6.4 -1.6l6.3 5.7z"/>
<path d="M269.8 427.6l-6.4 -5.7l6.4 -1.7l6.3 5.8z"/>
<path d="M263.4 429.2l-6.4 -5.7l6.4 -1.6l6.4 5.7z"/>
<path d="M257 468.9l-6.3 -2.8l6.3 -42.6l6.4 5.7z"/>
<path d="M250.6 470.5l-6.3 -2.8l6.4 -1.6l6.3 2.8z"/>
<path d="M244.3 472.1l-6.4 -2.8l6.4 -1.6l6.3 2.8z"/>
<path d="M237.9 473.8l-6.4 -2.9l6.4 -1.6l6.4 2.8z"/>
<path d="M231.5 475.4l-6.3 -2.9l6.3 -1.6l6.4 2.9z"/>
<path d="M225.1 477l-6.3 -2.8l6.4 -1.7l6.3 2.9z"/>
<path d="M218.7 541l-6.3 -3l6.4 -63.8l6.3 2.8z"/>
<path d="M212.4 542.6l-6.4 -3l6.4 -1.6l6.3 3z"/>
<path d="M206 544.2l-6.4 -2.9l6.4 -1.7l6.4 3z"/>
<path d="M518.4 362.6l-6.3 -2l6.4 -1.6l6.3 2z"/>
<path d="M512.1 364.3l-6.4 -2.1l6.4 -1.6l6.3 2z"/>
<path d="M505.7 362.1l-6.4 -2.2l6.4 2.3l6.4 2.1z"/>
<path d="M499.3 363.7l-6.3 -2.2l6.3 -1.6l6.4 2.2z"/>
<path d="M492.9 365.4l-6.3 -2.2l6.4 -1.7l6.3 2.2z"/>
<path d="M486.6 367l-6.4 -2.2l6.4 -1.6l6.3 2.2z"/>
<path d="M480.2 368.6l-6.4 -2.2l6.4 -1.6l6.4 2.2z"/>
<path d="M473.8 370.2l-6.3 -2.2l6.3 -1.6l6.4 2.2z"/>
<path d="M467.4 367.5l-6.3 -3.8l6.4 4.3l6.3 2.2z"/>
<path d="M461.1 369.1l-6.4 -3.8l6.4 -1.6l6.3 3.8z"/>
<path d="M454.7 370.8l-6.4 -3.8l6.4 -1.7l6.4 3.8z"/>
<path d="M448.3 372.4l-6.4 -3.8l6.4 -1.6l6.4 3.8z"/>
<path d="M441.9 374l-6.3 -3.8l6.3 -1.6l6.4 3.8z"/>
<path d="M435.5 372.2l-6.3 -4l6.4 2l6.3 3.8z"/>
<path d="M429.2 373.8l-6.4 -4l6.4 -1.6l6.3 4z"/>
<path d="M422.8 375.5l-6.4 -4l6.4 -1.7l6.4 4z"/>
<path d="M416.4 377.1l-6.3 -4l6.3 -1.6l6.4 4z"/>
<path d="M410 378.7l-6.3 -4l6.4 -1.6l6.3 4z"/>
<path d="M403.7 380.3l-6.4 -4l6.4 -1.6l6.3 4z"/>
<path d="M397.3 384.1l-6.4 -3l6.4 -4.8l6.4 4z"/>
<path d="M390.9 385.7l-6.3 -3l6.3 -1.6l6.4 3z"/>
<path d="M384.5 387.3l-6.3 -3l6.4 -1.6l6.3 3z"/>
<path d="M378.1 389l-6.3 -3l6.4 -1.7l6.3 3z"/>
<path d="M371.8 390.6l-6.4 -3l6.4 -1.6l6.3 3z"/>
<path d="M365.4 391.6l-6.4 -1.4l6.4 -2.6l6.4 3z"/>
<path d="M359 393.2l-6.3 -1.4l6.3 -1.6l6.4 1.4z"/>
<path d="M352.6 394.8l-6.3 -1.4l6.4 -1.6l6.3 1.4z"/>
<path d="M346.3 396.4l-6.4 -1.4l6.4 -1.6l6.3 1.4z"/>
<path d="M339.9 398.1l-6.4 -1.4l6.4 -1.7l6.4 1.4z"/>
<path d="M333.5 397.2l-6.3 -.2l6.3 -.3l6.4 1.4z"/>
<path d="M327.1 398.8l-6.3 -.1l6.4 -1.7l6.3 .2z"/>
<path d="M320.8 400.4l-6.4 -.1l6.4 -1.6l6.3 .1z"/>
<path d="M314.4 402.1l-6.4 -.2l6.4 -1.6l6.4 .1z"/>
<path d="M308 403.7l-6.4 -.2l6.4 -1.6l6.4 .2z"/>
<path d="M301.6 405.3l-6.3 -.1l6.3 -1.7l6.4 .2z"/>
<path d="M295.2 426.2l-6.3 -3.5l6.4 -17.5l6.3 .1z"/>
<path d="M288.9 427.8l-6.4 -3.5l6.4 -1.6l6.3 3.5z"/>
<path d="M282.5 429.4l-6.4 -3.4l6.4 -1.7l6.4 3.5z"/>
<path d="M276.1 431l-6.3 -3.4l6.3 -1.6l6.4 3.4z"/>
<path d="M269.7 432.7l-6.3 -3.5l6.4 -1.6l6.3 3.4z"/>
<path d="M263.4 475.6l-6.4 -6.7l6.4 -39.7l6.3 3.5z"/>
<path d="M257 477.2l-6.4 -6.7l6.4 -1.6l6.4 6.7z"/>
<path d="M250.6 478.8l-6.3 -6.7l6.3 -1.6l6.4 6.7z"/>
<path d="M244.2 480.4l-6.3 -6.6l6.4 -1.7l6.3 6.7z"/>
<path d="M237.9 482.1l-6.4 -6.7l6.4 -1.6l6.3 6.6z"/>
<path d="M231.5 483.7l-6.4 -6.7l6.4 -1.6l6.4 6.7z"/>
<path d="M225.1 543.4l-6.4 -2.4l6.4 -64l6.4 6.7z"/>
<path d="M218.7 545l-6.3 -2.4l6.3 -1.6l6.4 2.4z"/>
<path d="M212.3 546.6l-6.3 -2.4l6.4 -1.6l6.3 2.4z"/>
<path d="M524.8 364.4l-6.4 -1.8l6.4 -1.6l6.4 1.8z"/>
<path d="M518.4 366.1l-6.3 -1.8l6.3 -1.7l6.4 1.8z"/>
<path d="M512 364.1l-6.3 -2l6.4 2.2l6.3 1.8z"/>
<path d="M505.7 365.7l-6.4 -2l6.4 -1.6l6.3 2z"/>
<path d="M499.3 367.3l-6.4 -1.9l6.4 -1.7l6.4 2z"/>
<path d="M492.9 368.9l-6.3 -1.9l6.3 -1.6l6.4 1.9z"/>
<path d="M486.5 370.6l-6.3 -2l6.4 -1.6l6.3 1.9z"/>
<path d="M480.2 372.2l-6.4 -2l6.4 -1.6l6.3 2z"/>
<path d="M473.8 370.7l-6.4 -3.2l6.4 2.7l6.4 2z"/>
<path d="M467.4 372.3l-6.3 -3.2l6.3 -1.6l6.4 3.2z"/>
<path d="M461 373.9l-6.3 -3.1l6.4 -1.7l6.3 3.2z"/>
<path d="M454.6 375.5l-6.3 -3.1l6.4 -1.6l6.3 3.1z"/>
<path d="M448.3 377.2l-6.4 -3.2l6.4 -1.6l6.3 3.1z"/>
<path d="M441.9 375.7l-6.4 -3.5l6.4 1.8l6.4 3.2z"/>
<path d="M435.5 377.4l-6.3 -3.6l6.3 -1.6l6.4 3.5z"/>
<path d="M429.1 379l-6.3 -3.5l6.4 -1.7l6.3 3.6z"/>
<path d="M422.8 380.6l-6.4 -3.5l6.4 -1.6l6.3 3.5z"/>
<path d="M416.4 382.2l-6.4 -3.5l6.4 -1.6l6.4 3.5z"/>
<path d="M410 383.9l-6.3 -3.6l6.3 -1.6l6.4 3.5z"/>
<path d="M403.6 386.3l-6.3 -2.2l6.4 -3.8l6.3 3.6z"/>
<path d="M397.3 387.9l-6.4 -2.2l6.4 -1.6l6.3 2.2z"/>
<path d="M390.9 389.6l-6.4 -2.3l6.4 -1.6l6.4 2.2z"/>
<path d="M384.5 391.2l-6.4 -2.2l6.4 -1.7l6.4 2.3z"/>
<path d="M378.1 392.8l-6.3 -2.2l6.3 -1.6l6.4 2.2z"/>
<path d="M371.7 391.6l-6.3 0l6.4 -1l6.3 2.2z"/>
<path d="M365.4 393.2l-6.4 0l6.4 -1.6l6.3 0z"/>
<path d="M359 394.9l-6.4 -.1l6.4 -1.6l6.4 0z"/>
<path d="M352.6 396.5l-6.3 -.1l6.3 -1.6l6.4 .1z"/>
<path d="M346.2 398.1l-6.3 0l6.4 -1.7l6.3 .1z"/>
<path d="M339.9 397l-6.4 .2l6.4 .9l6.3 0z"/>
<path d="M333.5 398.7l-6.4 .1l6.4 -1.6l6.4 -.2z"/>
<path d="M327.1 400.3l-6.3 .1l6.3 -1.6l6.4 -.1z"/>
<path d="M320.7 401.9l-6.3 .2l6.4 -1.7l6.3 -.1z"/>
<path d="M314.3 403.5l-6.3 .2l6.4 -1.6l6.3 -.2z"/>
<path d="M308 405.2l-6.4 .1l6.4 -1.6l6.3 -.2z"/>
<path d="M301.6 427l-6.4 -.8l6.4 -20.9l6.4 -.1z"/>
<path d="M295.2 428.6l-6.3 -.8l6.3 -1.6l6.4 .8z"/>
<path d="M288.8 430.2l-6.3 -.8l6.4 -1.6l6.3 .8z"/>
<path d="M282.5 431.8l-6.4 -.8l6.4 -1.6l6.3 .8z"/>
<path d="M276.1 433.5l-6.4 -.8l6.4 -1.7l6.4 .8z"/>
<path d="M269.7 482.4l-6.3 -6.8l6.3 -42.9l6.4 .8z"/>
<path d="M263.3 484.1l-6.3 -6.9l6.4 -1.6l6.3 6.8z"/>
<path d="M257 485.7l-6.4 -6.9l6.4 -1.6l6.3 6.9z"/>
<path d="M250.6 487.3l-6.4 -6.9l6.4 -1.6l6.4 6.9z"/>
<path d="M244.2 488.9l-6.3 -6.8l6.3 -1.7l6.4 6.9z"/>
<path d="M237.8 490.6l-6.3 -6.9l6.4 -1.6l6.3 6.8z"/>
<path d="M231.4 544.9l-6.3 -1.5l6.4 -59.7l6.3 6.9z"/>
<path d="M225.1 546.5l-6.4 -1.5l6.4 -1.6l6.3 1.5z"/>
<path d="M218.7 548.1l-6.4 -1.5l6.4 -1.6l6.4 1.5z"/>
<path d="M531.1 366.2l-6.3 -1.8l6.4 -1.6l6.3 1.7z"/>
<path d="M524.8 367.8l-6.4 -1.7l6.4 -1.7l6.3 1.8z"/>
<path d="M518.4 365.9l-6.4 -1.8l6.4 2l6.4 1.7z"/>
<path d="M512 367.6l-6.3 -1.9l6.3 -1.6l6.4 1.8z"/>
<path d="M505.6 369.2l-6.3 -1.9l6.4 -1.6l6.3 1.9z"/>
<path d="M499.3 370.8l-6.4 -1.9l6.4 -1.6l6.3 1.9z"/>
<path d="M492.9 372.4l-6.4 -1.8l6.4 -1.7l6.4 1.9z"/>
<path d="M486.5 374.1l-6.3 -1.9l6.3 -1.6l6.4 1.8z"/>
<path d="M480.1 373.3l-6.3 -2.6l6.4 1.5l6.3 1.9z"/>
<path d="M473.7 374.9l-6.3 -2.6l6.4 -1.6l6.3 2.6z"/>
<path d="M467.4 376.6l-6.4 -2.7l6.4 -1.6l6.3 2.6z"/>
<path d="M461 378.2l-6.4 -2.7l6.4 -1.6l6.4 2.7z"/>
<path d="M454.6 379.8l-6.3 -2.6l6.3 -1.7l6.4 2.7z"/>
<path d="M448.2 378.6l-6.3 -2.9l6.4 1.5l6.3 2.6z"/>
<path d="M441.9 380.3l-6.4 -2.9l6.4 -1.7l6.3 2.9z"/>
<path d="M435.5 381.9l-6.4 -2.9l6.4 -1.6l6.4 2.9z"/>
<path d="M429.1 383.5l-6.3 -2.9l6.3 -1.6l6.4 2.9z"/>
<path d="M422.7 385.1l-6.3 -2.9l6.4 -1.6l6.3 2.9z"/>
<path d="M416.4 386.8l-6.4 -2.9l6.4 -1.7l6.3 2.9z"/>
<path d="M410 388.1l-6.4 -1.8l6.4 -2.4l6.4 2.9z"/>
<path d="M403.6 389.7l-6.3 -1.8l6.3 -1.6l6.4 1.8z"/>
<path d="M397.2 391.3l-6.3 -1.7l6.4 -1.7l6.3 1.8z"/>
<path d="M390.8 393l-6.3 -1.8l6.4 -1.6l6.3 1.7z"/>
<path d="M384.5 394.6l-6.4 -1.8l6.4 -1.6l6.3 1.8z"/>
<path d="M378.1 391.5l-6.4 .1l6.4 1.2l6.4 1.8z"/>
<path d="M371.7 393.2l-6.3 0l6.3 -1.6l6.4 -.1z"/>
<path d="M365.3 394.8l-6.3 .1l6.4 -1.7l6.3 0z"/>
<path d="M359 396.4l-6.4 .1l6.4 -1.6l6.3 -.1z"/>
<path d="M352.6 398l-6.4 .1l6.4 -1.6l6.4 -.1z"/>
<path d="M346.2 396.9l-6.3 .1l6.3 1.1l6.4 -.1z"/>
<path d="M339.8 398.5l-6.3 .2l6.4 -1.7l6.3 -.1z"/>
<path d="M333.5 400.1l-6.4 .2l6.4 -1.6l6.3 -.2z"/>
<path d="M327.1 401.7l-6.4 .2l6.4 -1.6l6.4 -.2z"/>
<path d="M320.7 403.4l-6.4 .1l6.4 -1.6l6.4 -.2z"/>
<path d="M314.3 405l-6.3 .2l6.3 -1.7l6.4 -.1z"/>
<path d="M307.9 426.4l-6.3 .6l6.4 -21.8l6.3 -.2z"/>
<path d="M301.6 428.1l-6.4 .5l6.4 -1.6l6.3 -.6z"/>
<path d="M295.2 429.7l-6.4 .5l6.4 -1.6l6.4 -.5z"/>
<path d="M288.8 431.3l-6.3 .5l6.3 -1.6l6.4 -.5z"/>
<path d="M282.4 432.9l-6.3 .6l6.4 -1.7l6.3 -.5z"/>
<path d="M276.1 485.7l-6.4 -3.3l6.4 -48.9l6.3 -.6z"/>
<path d="M269.7 487.3l-6.4 -3.2l6.4 -1.7l6.4 3.3z"/>
<path d="M263.3 488.9l-6.3 -3.2l6.3 -1.6l6.4 3.2z"/>
<path d="M256.9 490.6l-6.3 -3.3l6.4 -1.6l6.3 3.2z"/>
<path d="M250.5 492.2l-6.3 -3.3l6.4 -1.6l6.3 3.3z"/>
<path d="M244.2 493.8l-6.4 -3.2l6.4 -1.7l6.3 3.3z"/>
<path d="M237.8 546.2l-6.4 -1.3l6.4 -54.3l6.4 3.2z"/>
<path d="M231.4 547.8l-6.3 -1.3l6.3 -1.6l6.4 1.3z"/>
<path d="M225 549.5l-6.3 -1.4l6.4 -1.6l6.3 1.3z"/>
<path d="M537.5 367.9l-6.4 -1.7l6.4 -1.7l6.4 1.7z"/>
<path d="M531.1 369.5l-6.3 -1.7l6.3 -1.6l6.4 1.7z"/>
<path d="M524.7 367.7l-6.3 -1.8l6.4 1.9l6.3 1.7z"/>
<path d="M518.4 369.3l-6.4 -1.7l6.4 -1.7l6.3 1.8z"/>
<path d="M512 370.9l-6.4 -1.7l6.4 -1.6l6.4 1.7z"/>
<path d="M505.6 372.6l-6.3 -1.8l6.3 -1.6l6.4 1.7z"/>
<path d="M499.2 374.2l-6.3 -1.8l6.4 -1.6l6.3 1.8z"/>
<path d="M492.9 375.8l-6.4 -1.7l6.4 -1.7l6.3 1.8z"/>
<path d="M486.5 375.2l-6.4 -1.9l6.4 .8l6.4 1.7z"/>
<path d="M480.1 376.8l-6.4 -1.9l6.4 -1.6l6.4 1.9z"/>
<path d="M473.7 378.4l-6.3 -1.8l6.3 -1.7l6.4 1.9z"/>
<path d="M467.3 380l-6.3 -1.8l6.4 -1.6l6.3 1.8z"/>
<path d="M461 381.7l-6.4 -1.9l6.4 -1.6l6.3 1.8z"/>
<path d="M454.6 381.1l-6.4 -2.5l6.4 1.2l6.4 1.9z"/>
<path d="M448.2 382.7l-6.3 -2.4l6.3 -1.7l6.4 2.5z"/>
<path d="M441.8 384.3l-6.3 -2.4l6.4 -1.6l6.3 2.4z"/>
<path d="M435.5 386l-6.4 -2.5l6.4 -1.6l6.3 2.4z"/>
<path d="M429.1 387.6l-6.4 -2.5l6.4 -1.6l6.4 2.5z"/>
<path d="M422.7 389.2l-6.3 -2.4l6.3 -1.7l6.4 2.5z"/>
<path d="M416.3 388.6l-6.3 -.5l6.4 -1.3l6.3 2.4z"/>
<path d="M410 390.2l-6.4 -.5l6.4 -1.6l6.3 .5z"/>
<path d="M403.6 391.8l-6.4 -.5l6.4 -1.6l6.4 .5z"/>
<path d="M397.2 393.5l-6.4 -.5l6.4 -1.7l6.4 .5z"/>
<path d="M390.8 395.1l-6.3 -.5l6.3 -1.6l6.4 .5z"/>
<path d="M384.4 391.6l-6.3 -.1l6.4 3.1l6.3 .5z"/>
<path d="M378.1 393.2l-6.4 0l6.4 -1.7l6.3 .1z"/>
<path d="M371.7 394.9l-6.4 -.1l6.4 -1.6l6.4 0z"/>
<path d="M365.3 396.5l-6.3 -.1l6.3 -1.6l6.4 .1z"/>
<path d="M358.9 398.1l-6.3 -.1l6.4 -1.6l6.3 .1z"/>
<path d="M352.6 396.6l-6.4 .3l6.4 1.1l6.3 .1z"/>
<path d="M346.2 398.2l-6.4 .3l6.4 -1.6l6.4 -.3z"/>
<path d="M339.8 399.8l-6.3 .3l6.3 -1.6l6.4 -.3z"/>
<path d="M333.4 401.4l-6.3 .3l6.4 -1.6l6.3 -.3z"/>
<path d="M327 403.1l-6.3 .3l6.4 -1.7l6.3 -.3z"/>
<path d="M320.7 404.7l-6.4 .3l6.4 -1.6l6.3 -.3z"/>
<path d="M314.3 425.1l-6.4 1.3l6.4 -21.4l6.4 -.3z"/>
<path d="M307.9 426.8l-6.3 1.3l6.3 -1.7l6.4 -1.3z"/>
<path d="M301.5 428.4l-6.3 1.3l6.4 -1.6l6.3 -1.3z"/>
<path d="M295.2 430l-6.4 1.3l6.4 -1.6l6.3 -1.3z"/>
<path d="M288.8 431.6l-6.4 1.3l6.4 -1.6l6.4 -1.3z"/>
<path d="M282.4 487.9l-6.3 -2.2l6.3 -52.8l6.4 -1.3z"/>
<path d="M276 489.5l-6.3 -2.2l6.4 -1.6l6.3 2.2z"/>
<path d="M269.7 491.2l-6.4 -2.3l6.4 -1.6l6.3 2.2z"/>
<path d="M263.3 492.8l-6.4 -2.2l6.4 -1.7l6.4 2.3z"/>
<path d="M256.9 494.4l-6.4 -2.2l6.4 -1.6l6.4 2.2z"/>
<path d="M250.5 496l-6.3 -2.2l6.3 -1.6l6.4 2.2z"/>
<path d="M244.1 547.6l-6.3 -1.4l6.4 -52.4l6.3 2.2z"/>
<path d="M237.8 549.2l-6.4 -1.4l6.4 -1.6l6.3 1.4z"/>
<path d="M231.4 550.9l-6.4 -1.4l6.4 -1.7l6.4 1.4z"/>
<path d="M543.8 369.5l-6.3 -1.6l6.4 -1.7l6.3 1.7z"/>
<path d="M537.5 371.1l-6.4 -1.6l6.4 -1.6l6.3 1.6z"/>
<path d="M531.1 369.4l-6.4 -1.7l6.4 1.8l6.4 1.6z"/>
<path d="M524.7 371l-6.3 -1.7l6.3 -1.6l6.4 1.7z"/>
<path d="M518.3 372.6l-6.3 -1.7l6.4 -1.6l6.3 1.7z"/>
<path d="M512 374.2l-6.4 -1.6l6.4 -1.7l6.3 1.7z"/>
<path d="M505.6 375.9l-6.4 -1.7l6.4 -1.6l6.4 1.6z"/>
<path d="M499.2 377.5l-6.3 -1.7l6.3 -1.6l6.4 1.7z"/>
<path d="M492.8 375.5l-6.3 -.3l6.4 .6l6.3 1.7z"/>
<path d="M486.4 377.2l-6.3 -.4l6.4 -1.6l6.3 .3z"/>
<path d="M480.1 378.8l-6.4 -.4l6.4 -1.6l6.3 .4z"/>
<path d="M473.7 380.4l-6.4 -.4l6.4 -1.6l6.4 .4z"/>
<path d="M467.3 382l-6.3 -.3l6.3 -1.7l6.4 .4z"/>
<path d="M460.9 382.2l-6.3 -1.1l6.4 .6l6.3 .3z"/>
<path d="M454.6 383.9l-6.4 -1.2l6.4 -1.6l6.3 1.1z"/>
<path d="M448.2 385.5l-6.4 -1.2l6.4 -1.6l6.4 1.2z"/>
<path d="M441.8 387.1l-6.3 -1.1l6.3 -1.7l6.4 1.2z"/>
<path d="M435.4 388.7l-6.3 -1.1l6.4 -1.6l6.3 1.1z"/>
<path d="M429.1 390.3l-6.4 -1.1l6.4 -1.6l6.3 1.1z"/>
<path d="M422.7 388.4l-6.4 .2l6.4 .6l6.4 1.1z"/>
<path d="M416.3 390l-6.3 .2l6.3 -1.6l6.4 -.2z"/>
<path d="M409.9 391.7l-6.3 .1l6.4 -1.6l6.3 -.2z"/>
<path d="M403.5 393.3l-6.3 .2l6.4 -1.7l6.3 -.1z"/>
<path d="M397.2 394.9l-6.4 .2l6.4 -1.6l6.3 -.2z"/>
<path d="M390.8 391.6l-6.4 0l6.4 3.5l6.4 -.2z"/>
<path d="M384.4 393.3l-6.3 -.1l6.3 -1.6l6.4 0z"/>
<path d="M378 394.9l-6.3 0l6.4 -1.7l6.3 .1z"/>
<path d="M371.7 396.5l-6.4 0l6.4 -1.6l6.3 0z"/>
<path d="M365.3 398.1l-6.4 0l6.4 -1.6l6.4 0z"/>
<path d="M358.9 396.3l-6.3 .3l6.3 1.5l6.4 0z"/>
<path d="M352.5 397.9l-6.3 .3l6.4 -1.6l6.3 -.3z"/>
<path d="M346.2 399.6l-6.4 .2l6.4 -1.6l6.3 -.3z"/>
<path d="M339.8 401.2l-6.4 .2l6.4 -1.6l6.4 -.2z"/>
<path d="M333.4 402.8l-6.4 .3l6.4 -1.7l6.4 -.2z"/>
<path d="M327 404.4l-6.3 .3l6.3 -1.6l6.4 -.3z"/>
<path d="M320.6 423.6l-6.3 1.5l6.4 -20.4l6.3 -.3z"/>
<path d="M314.3 425.2l-6.4 1.6l6.4 -1.7l6.3 -1.5z"/>
<path d="M307.9 426.8l-6.4 1.6l6.4 -1.6l6.4 -1.6z"/>
<path d="M301.5 428.4l-6.3 1.6l6.3 -1.6l6.4 -1.6z"/>
<path d="M295.1 430.1l-6.3 1.5l6.4 -1.6l6.3 -1.6z"/>
<path d="M288.8 489.2l-6.4 -1.3l6.4 -56.3l6.3 -1.5z"/>
<path d="M282.4 490.9l-6.4 -1.4l6.4 -1.6l6.4 1.3z"/>
<path d="M276 492.5l-6.3 -1.3l6.3 -1.7l6.4 1.4z"/>
<path d="M269.6 494.1l-6.3 -1.3l6.4 -1.6l6.3 1.3z"/>
<path d="M263.2 495.7l-6.3 -1.3l6.4 -1.6l6.3 1.3z"/>
<path d="M256.9 497.4l-6.4 -1.4l6.4 -1.6l6.3 1.3z"/>
<path d="M250.5 549.1l-6.4 -1.5l6.4 -51.6l6.4 1.4z"/>
<path d="M244.1 550.7l-6.3 -1.5l6.3 -1.6l6.4 1.5z"/>
<path d="M237.7 552.3l-6.3 -1.4l6.4 -1.7l6.3 1.5z"/>
<path d="M550.2 370.4l-6.4 -.9l6.4 -1.6l6.4 .8z"/>
<path d="M543.8 372l-6.3 -.9l6.3 -1.6l6.4 .9z"/>
<path d="M537.4 370.4l-6.3 -1l6.4 1.7l6.3 .9z"/>
<path d="M531.1 372l-6.4 -1l6.4 -1.6l6.3 1z"/>
<path d="M524.7 373.6l-6.4 -1l6.4 -1.6l6.4 1z"/>
<path d="M518.3 375.2l-6.3 -1l6.3 -1.6l6.4 1z"/>
<path d="M511.9 376.8l-6.3 -.9l6.4 -1.7l6.3 1z"/>
<path d="M505.6 378.5l-6.4 -1l6.4 -1.6l6.3 .9z"/>
<path d="M499.2 375.3l-6.4 .2l6.4 2l6.4 1z"/>
<path d="M492.8 377l-6.4 .2l6.4 -1.7l6.4 -.2z"/>
<path d="M486.4 378.6l-6.3 .2l6.3 -1.6l6.4 -.2z"/>
<path d="M480 380.2l-6.3 .2l6.4 -1.6l6.3 -.2z"/>
<path d="M473.7 381.8l-6.4 .2l6.4 -1.6l6.3 -.2z"/>
<path d="M467.3 382.2l-6.4 0l6.4 -.2l6.4 -.2z"/>
<path d="M460.9 383.8l-6.3 .1l6.3 -1.7l6.4 0z"/>
<path d="M454.5 385.5l-6.3 0l6.4 -1.6l6.3 -.1z"/>
<path d="M448.2 387.1l-6.4 0l6.4 -1.6l6.3 0z"/>
<path d="M441.8 388.7l-6.4 0l6.4 -1.6l6.4 0z"/>
<path d="M435.4 390.3l-6.3 0l6.3 -1.6l6.4 0z"/>
<path d="M429 388.4l-6.3 0l6.4 1.9l6.3 0z"/>
<path d="M422.6 390l-6.3 0l6.4 -1.6l6.3 0z"/>
<path d="M416.3 391.6l-6.4 .1l6.4 -1.7l6.3 0z"/>
<path d="M409.9 393.3l-6.4 0l6.4 -1.6l6.4 -.1z"/>
<path d="M403.5 394.9l-6.3 0l6.3 -1.6l6.4 0z"/>
<path d="M397.1 391.7l-6.3 -.1l6.4 3.3l6.3 0z"/>
<path d="M390.8 393.3l-6.4 0l6.4 -1.7l6.3 .1z"/>
<path d="M384.4 394.9l-6.4 0l6.4 -1.6l6.4 0z"/>
<path d="M378 396.6l-6.3 -.1l6.3 -1.6l6.4 0z"/>
<path d="M371.6 398.2l-6.3 -.1l6.4 -1.6l6.3 .1z"/>
<path d="M365.3 396.1l-6.4 .2l6.4 1.8l6.3 .1z"/>
<path d="M358.9 397.7l-6.4 .2l6.4 -1.6l6.4 -.2z"/>
<path d="M352.5 399.3l-6.3 .3l6.3 -1.7l6.4 -.2z"/>
<path d="M346.1 401l-6.3 .2l6.4 -1.6l6.3 -.3z"/>
<path d="M339.7 402.6l-6.3 .2l6.4 -1.6l6.3 -.2z"/>
<path d="M333.4 404.2l-6.4 .2l6.4 -1.6l6.3 -.2z"/>
<path d="M327 422.2l-6.4 1.4l6.4 -19.2l6.4 -.2z"/>
<path d="M320.6 423.8l-6.3 1.4l6.3 -1.6l6.4 -1.4z"/>
<path d="M314.2 425.4l-6.3 1.4l6.4 -1.6l6.3 -1.4z"/>
<path d="M307.9 427.1l-6.4 1.3l6.4 -1.6l6.3 -1.4z"/>
<path d="M301.5 428.7l-6.4 1.4l6.4 -1.7l6.4 -1.3z"/>
<path d="M295.1 490.2l-6.3 -1l6.3 -59.1l6.4 -1.4z"/>
<path d="M288.7 491.8l-6.3 -.9l6.4 -1.7l6.3 1z"/>
<path d="M282.4 493.4l-6.4 -.9l6.4 -1.6l6.3 .9z"/>
<path d="M276 495l-6.4 -.9l6.4 -1.6l6.4 .9z"/>
<path d="M269.6 496.7l-6.4 -1l6.4 -1.6l6.4 .9z"/>
<path d="M263.2 498.3l-6.3 -.9l6.3 -1.7l6.4 1z"/>
<path d="M256.8 550.6l-6.3 -1.5l6.4 -51.7l6.3 .9z"/>
<path d="M250.5 552.2l-6.4 -1.5l6.4 -1.6l6.3 1.5z"/>
<path d="M244.1 553.8l-6.4 -1.5l6.4 -1.6l6.4 1.5z"/>
<path d="M556.5 369.6l-6.3 .8l6.4 -1.7l6.3 -.7z"/>
<path d="M550.2 371.2l-6.4 .8l6.4 -1.6l6.3 -.8z"/>
<path d="M543.8 370l-6.4 .4l6.4 1.6l6.4 -.8z"/>
<path d="M537.4 371.6l-6.3 .4l6.3 -1.6l6.4 -.4z"/>
<path d="M531 373.2l-6.3 .4l6.4 -1.6l6.3 -.4z"/>
<path d="M524.7 374.8l-6.4 .4l6.4 -1.6l6.3 -.4z"/>
<path d="M518.3 376.4l-6.4 .4l6.4 -1.6l6.4 -.4z"/>
<path d="M511.9 378.1l-6.3 .4l6.3 -1.7l6.4 -.4z"/>
<path d="M505.5 375l-6.3 .3l6.4 3.2l6.3 -.4z"/>
<path d="M499.1 376.6l-6.3 .4l6.4 -1.7l6.3 -.3z"/>
<path d="M492.8 378.3l-6.4 .3l6.4 -1.6l6.3 -.4z"/>
<path d="M486.4 379.9l-6.4 .3l6.4 -1.6l6.4 -.3z"/>
<path d="M480 381.5l-6.3 .3l6.3 -1.6l6.4 -.3z"/>
<path d="M473.6 382.1l-6.3 .1l6.4 -.4l6.3 -.3z"/>
<path d="M467.3 383.7l-6.4 .1l6.4 -1.6l6.3 -.1z"/>
<path d="M460.9 385.3l-6.4 .2l6.4 -1.7l6.4 -.1z"/>
<path d="M454.5 386.9l-6.3 .2l6.3 -1.6l6.4 -.2z"/>
<path d="M448.1 388.6l-6.3 .1l6.4 -1.6l6.3 -.2z"/>
<path d="M441.8 390.2l-6.4 .1l6.4 -1.6l6.3 -.1z"/>
<path d="M435.4 388.2l-6.4 .2l6.4 1.9l6.4 -.1z"/>
<path d="M429 389.9l-6.4 .1l6.4 -1.6l6.4 -.2z"/>
<path d="M422.6 391.5l-6.3 .1l6.3 -1.6l6.4 -.1z"/>
<path d="M416.2 393.1l-6.3 .2l6.4 -1.7l6.3 -.1z"/>
<path d="M409.9 394.7l-6.4 .2l6.4 -1.6l6.3 -.2z"/>
<path d="M403.5 391.8l-6.4 -.1l6.4 3.2l6.4 -.2z"/>
<path d="M397.1 393.4l-6.3 -.1l6.3 -1.6l6.4 .1z"/>
<path d="M390.7 395l-6.3 -.1l6.4 -1.6l6.3 .1z"/>
<path d="M384.4 396.6l-6.4 0l6.4 -1.7l6.3 .1z"/>
<path d="M378 398.2l-6.4 0l6.4 -1.6l6.4 0z"/>
<path d="M371.6 395.9l-6.3 .2l6.3 2.1l6.4 0z"/>
<path d="M365.2 397.5l-6.3 .2l6.4 -1.6l6.3 -.2z"/>
<path d="M358.9 399.1l-6.4 .2l6.4 -1.6l6.3 -.2z"/>
<path d="M352.5 400.7l-6.4 .3l6.4 -1.7l6.4 -.2z"/>
<path d="M346.1 402.4l-6.4 .2l6.4 -1.6l6.4 -.3z"/>
<path d="M339.7 404l-6.3 .2l6.3 -1.6l6.4 -.2z"/>
<path d="M333.3 421.3l-6.3 .9l6.4 -18l6.3 -.2z"/>
<path d="M327 422.9l-6.4 .9l6.4 -1.6l6.3 -.9z"/>
<path d="M320.6 424.5l-6.4 .9l6.4 -1.6l6.4 -.9z"/>
<path d="M314.2 426.1l-6.3 1l6.3 -1.7l6.4 -.9z"/>
<path d="M307.8 427.7l-6.3 1l6.4 -1.6l6.3 -1z"/>
<path d="M301.5 490.9l-6.4 -.7l6.4 -61.5l6.3 -1z"/>
<path d="M295.1 492.5l-6.4 -.7l6.4 -1.6l6.4 .7z"/>
<path d="M288.7 494.1l-6.3 -.7l6.3 -1.6l6.4 .7z"/>
<path d="M282.3 495.8l-6.3 -.8l6.4 -1.6l6.3 .7z"/>
<path d="M275.9 497.4l-6.3 -.7l6.4 -1.7l6.3 .8z"/>
<path d="M269.6 499l-6.4 -.7l6.4 -1.6l6.3 .7z"/>
<path d="M263.2 551.9l-6.4 -1.3l6.4 -52.3l6.4 .7z"/>
<path d="M256.8 553.5l-6.3 -1.3l6.3 -1.6l6.4 1.3z"/>
<path d="M250.4 555.1l-6.3 -1.3l6.4 -1.6l6.3 1.3z"/>
<path d="M562.9 367.6l-6.4 2l6.4 -1.6l6.4 -2z"/>
<path d="M556.5 369.3l-6.3 1.9l6.3 -1.6l6.4 -2z"/>
<path d="M550.1 368.5l-6.3 1.5l6.4 1.2l6.3 -1.9z"/>
<path d="M543.8 370.2l-6.4 1.4l6.4 -1.6l6.3 -1.5z"/>
<path d="M537.4 371.8l-6.4 1.4l6.4 -1.6l6.4 -1.4z"/>
<path d="M531 373.4l-6.3 1.4l6.3 -1.6l6.4 -1.4z"/>
<path d="M524.6 375l-6.3 1.4l6.4 -1.6l6.3 -1.4z"/>
<path d="M518.3 376.6l-6.4 1.5l6.4 -1.7l6.3 -1.4z"/>
<path d="M511.9 374.4l-6.4 .6l6.4 3.1l6.4 -1.5z"/>
<path d="M505.5 376l-6.4 .6l6.4 -1.6l6.4 -.6z"/>
<path d="M499.1 377.6l-6.3 .7l6.3 -1.7l6.4 -.6z"/>
<path d="M492.7 379.2l-6.3 .7l6.4 -1.6l6.3 -.7z"/>
<path d="M486.4 380.9l-6.4 .6l6.4 -1.6l6.3 -.7z"/>
<path d="M480 381.8l-6.4 .3l6.4 -.6l6.4 -.6z"/>
<path d="M473.6 383.4l-6.3 .3l6.3 -1.6l6.4 -.3z"/>
<path d="M467.2 385l-6.3 .3l6.4 -1.6l6.3 -.3z"/>
<path d="M460.9 386.6l-6.4 .3l6.4 -1.6l6.3 -.3z"/>
<path d="M454.5 388.3l-6.4 .3l6.4 -1.7l6.4 -.3z"/>
<path d="M448.1 389.9l-6.3 .3l6.3 -1.6l6.4 -.3z"/>
<path d="M441.7 388.1l-6.3 .1l6.4 2l6.3 -.3z"/>
<path d="M435.3 389.7l-6.3 .2l6.4 -1.7l6.3 -.1z"/>
<path d="M429 391.3l-6.4 .2l6.4 -1.6l6.3 -.2z"/>
<path d="M422.6 393l-6.4 .1l6.4 -1.6l6.4 -.2z"/>
<path d="M416.2 394.6l-6.3 .1l6.3 -1.6l6.4 -.1z"/>
<path d="M409.8 391.8l-6.3 0l6.4 2.9l6.3 -.1z"/>
<path d="M403.5 393.4l-6.4 0l6.4 -1.6l6.3 0z"/>
<path d="M397.1 395.1l-6.4 -.1l6.4 -1.6l6.4 0z"/>
<path d="M390.7 396.7l-6.3 -.1l6.3 -1.6l6.4 .1z"/>
<path d="M384.3 398.3l-6.3 -.1l6.4 -1.6l6.3 .1z"/>
<path d="M378 395.6l-6.4 .3l6.4 2.3l6.3 .1z"/>
<path d="M371.6 397.2l-6.4 .3l6.4 -1.6l6.4 -.3z"/>
<path d="M365.2 398.9l-6.3 .2l6.3 -1.6l6.4 -.3z"/>
<path d="M358.8 400.5l-6.3 .2l6.4 -1.6l6.3 -.2z"/>
<path d="M352.4 402.1l-6.3 .3l6.4 -1.7l6.3 -.2z"/>
<path d="M346.1 403.7l-6.4 .3l6.4 -1.6l6.3 -.3z"/>
<path d="M339.7 419.9l-6.4 1.4l6.4 -17.3l6.4 -.3z"/>
<path d="M333.3 421.5l-6.3 1.4l6.3 -1.6l6.4 -1.4z"/>
<path d="M326.9 423.2l-6.3 1.3l6.4 -1.6l6.3 -1.4z"/>
<path d="M320.6 424.8l-6.4 1.3l6.4 -1.6l6.3 -1.3z"/>
<path d="M314.2 426.4l-6.4 1.3l6.4 -1.6l6.4 -1.3z"/>
<path d="M307.8 491.6l-6.3 -.7l6.3 -63.2l6.4 -1.3z"/>
<path d="M301.4 493.2l-6.3 -.7l6.4 -1.6l6.3 .7z"/>
<path d="M295.1 494.9l-6.4 -.8l6.4 -1.6l6.3 .7z"/>
<path d="M288.7 496.5l-6.4 -.7l6.4 -1.7l6.4 .8z"/>
<path d="M282.3 498.1l-6.4 -.7l6.4 -1.6l6.4 .7z"/>
<path d="M275.9 499.7l-6.3 -.7l6.3 -1.6l6.4 .7z"/>
<path d="M269.5 552.2l-6.3 -.3l6.4 -52.9l6.3 .7z"/>
<path d="M263.2 553.8l-6.4 -.3l6.4 -1.6l6.3 .3z"/>
<path d="M256.8 555.4l-6.4 -.3l6.4 -1.6l6.4 .3z"/>
<path d="M569.2 364.9l-6.3 2.7l6.4 -1.6l6.3 -2.7z"/>
<path d="M562.9 366.5l-6.4 2.8l6.4 -1.7l6.3 -2.7z"/>
<path d="M556.5 366.4l-6.4 2.1l6.4 .8l6.4 -2.8z"/>
<path d="M550.1 368.1l-6.3 2.1l6.3 -1.7l6.4 -2.1z"/>
<path d="M543.7 369.7l-6.3 2.1l6.4 -1.6l6.3 -2.1z"/>
<path d="M537.4 371.3l-6.4 2.1l6.4 -1.6l6.3 -2.1z"/>
<path d="M531 372.9l-6.4 2.1l6.4 -1.6l6.4 -2.1z"/>
<path d="M524.6 374.6l-6.3 2l6.3 -1.6l6.4 -2.1z"/>
<path d="M518.2 373.8l-6.3 .6l6.4 2.2l6.3 -2z"/>
<path d="M511.8 375.4l-6.3 .6l6.4 -1.6l6.3 -.6z"/>
<path d="M505.5 377l-6.4 .6l6.4 -1.6l6.3 -.6z"/>
<path d="M499.1 378.7l-6.4 .5l6.4 -1.6l6.4 -.6z"/>
<path d="M492.7 380.3l-6.3 .6l6.3 -1.7l6.4 -.5z"/>
<path d="M486.3 381.4l-6.3 .4l6.4 -.9l6.3 -.6z"/>
<path d="M480 383l-6.4 .4l6.4 -1.6l6.3 -.4z"/>
<path d="M473.6 384.7l-6.4 .3l6.4 -1.6l6.4 -.4z"/>
<path d="M467.2 386.3l-6.3 .3l6.3 -1.6l6.4 -.3z"/>
<path d="M460.8 387.9l-6.3 .4l6.4 -1.7l6.3 -.3z"/>
<path d="M454.5 389.5l-6.4 .4l6.4 -1.6l6.3 -.4z"/>
<path d="M448.1 388l-6.4 .1l6.4 1.8l6.4 -.4z"/>
<path d="M441.7 389.6l-6.4 .1l6.4 -1.6l6.4 -.1z"/>
<path d="M435.3 391.2l-6.3 .1l6.3 -1.6l6.4 -.1z"/>
<path d="M428.9 392.9l-6.3 .1l6.4 -1.7l6.3 -.1z"/>
<path d="M422.6 394.5l-6.4 .1l6.4 -1.6l6.3 -.1z"/>
<path d="M416.2 391.9l-6.4 -.1l6.4 2.8l6.4 -.1z"/>
<path d="M409.8 393.5l-6.3 -.1l6.3 -1.6l6.4 .1z"/>
<path d="M403.4 395.1l-6.3 0l6.4 -1.7l6.3 .1z"/>
<path d="M397.1 396.7l-6.4 0l6.4 -1.6l6.3 0z"/>
<path d="M390.7 398.4l-6.4 -.1l6.4 -1.6l6.4 0z"/>
<path d="M384.3 395.4l-6.3 .2l6.3 2.7l6.4 .1z"/>
<path d="M377.9 397l-6.3 .2l6.4 -1.6l6.3 -.2z"/>
<path d="M371.5 398.6l-6.3 .3l6.4 -1.7l6.3 -.2z"/>
<path d="M365.2 400.3l-6.4 .2l6.4 -1.6l6.3 -.3z"/>
<path d="M358.8 401.9l-6.4 .2l6.4 -1.6l6.4 -.2z"/>
<path d="M352.4 403.5l-6.3 .2l6.3 -1.6l6.4 -.2z"/>
<path d="M346 418.6l-6.3 1.3l6.4 -16.2l6.3 -.2z"/>
<path d="M339.7 420.2l-6.4 1.3l6.4 -1.6l6.3 -1.3z"/>
<path d="M333.3 421.8l-6.4 1.4l6.4 -1.7l6.4 -1.3z"/>
<path d="M326.9 423.4l-6.3 1.4l6.3 -1.6l6.4 -1.4z"/>
<path d="M320.5 425.1l-6.3 1.3l6.4 -1.6l6.3 -1.4z"/>
<path d="M314.2 492.5l-6.4 -.9l6.4 -65.2l6.3 -1.3z"/>
<path d="M307.8 494.1l-6.4 -.9l6.4 -1.6l6.4 .9z"/>
<path d="M301.4 495.7l-6.3 -.8l6.3 -1.7l6.4 .9z"/>
<path d="M295 497.3l-6.3 -.8l6.4 -1.6l6.3 .8z"/>
<path d="M288.6 499l-6.3 -.9l6.4 -1.6l6.3 .8z"/>
<path d="M282.3 500.6l-6.4 -.9l6.4 -1.6l6.3 .9z"/>
<path d="M275.9 558.8l-6.4 -6.6l6.4 -52.5l6.4 .9z"/>
<path d="M269.5 560.4l-6.3 -6.6l6.3 -1.6l6.4 6.6z"/>
<path d="M263.1 562.1l-6.3 -6.7l6.4 -1.6l6.3 6.6z"/>
<path d="M575.6 361.8l-6.4 3.1l6.4 -1.6l6.4 -3.1z"/>
<path d="M569.2 363.4l-6.3 3.1l6.3 -1.6l6.4 -3.1z"/>
<path d="M562.8 364.1l-6.3 2.3l6.4 .1l6.3 -3.1z"/>
<path d="M556.5 365.7l-6.4 2.4l6.4 -1.7l6.3 -2.3z"/>
<path d="M550.1 367.3l-6.4 2.4l6.4 -1.6l6.4 -2.4z"/>
<path d="M543.7 368.9l-6.3 2.4l6.3 -1.6l6.4 -2.4z"/>
<path d="M537.3 370.6l-6.3 2.3l6.4 -1.6l6.3 -2.4z"/>
<path d="M531 372.2l-6.4 2.4l6.4 -1.7l6.3 -2.3z"/>
<path d="M524.6 373.3l-6.4 .5l6.4 .8l6.4 -2.4z"/>
<path d="M518.2 374.9l-6.4 .5l6.4 -1.6l6.4 -.5z"/>
<path d="M511.8 376.5l-6.3 .5l6.3 -1.6l6.4 -.5z"/>
<path d="M505.4 378.1l-6.3 .6l6.4 -1.7l6.3 -.5z"/>
<path d="M499.1 379.8l-6.4 .5l6.4 -1.6l6.3 -.6z"/>
<path d="M492.7 381.1l-6.4 .3l6.4 -1.1l6.4 -.5z"/>
<path d="M486.3 382.7l-6.3 .3l6.3 -1.6l6.4 -.3z"/>
<path d="M479.9 384.4l-6.3 .3l6.4 -1.7l6.3 -.3z"/>
<path d="M473.6 386l-6.4 .3l6.4 -1.6l6.3 -.3z"/>
<path d="M467.2 387.6l-6.4 .3l6.4 -1.6l6.4 -.3z"/>
<path d="M460.8 389.2l-6.3 .3l6.3 -1.6l6.4 -.3z"/>
<path d="M454.4 387.9l-6.3 .1l6.4 1.5l6.3 -.3z"/>
<path d="M448 389.5l-6.3 .1l6.4 -1.6l6.3 -.1z"/>
<path d="M441.7 391.1l-6.4 .1l6.4 -1.6l6.3 -.1z"/>
<path d="M435.3 392.7l-6.4 .2l6.4 -1.7l6.4 -.1z"/>
<path d="M428.9 394.4l-6.3 .1l6.3 -1.6l6.4 -.2z"/>
<path d="M422.5 391.9l-6.3 0l6.4 2.6l6.3 -.1z"/>
<path d="M416.2 393.5l-6.4 0l6.4 -1.6l6.3 0z"/>
<path d="M409.8 395.2l-6.4 -.1l6.4 -1.6l6.4 0z"/>
<path d="M403.4 396.8l-6.3 -.1l6.3 -1.6l6.4 .1z"/>
<path d="M397 398.4l-6.3 0l6.4 -1.7l6.3 .1z"/>
<path d="M390.7 395.2l-6.4 .2l6.4 3l6.3 0z"/>
<path d="M384.3 396.8l-6.4 .2l6.4 -1.6l6.4 -.2z"/>
<path d="M377.9 398.4l-6.4 .2l6.4 -1.6l6.4 -.2z"/>
<path d="M371.5 400l-6.3 .3l6.3 -1.7l6.4 -.2z"/>
<path d="M365.1 401.7l-6.3 .2l6.4 -1.6l6.3 -.3z"/>
<path d="M358.8 403.3l-6.4 .2l6.4 -1.6l6.3 -.2z"/>
<path d="M352.4 417.8l-6.4 .8l6.4 -15.1l6.4 -.2z"/>
<path d="M346 419.4l-6.3 .8l6.3 -1.6l6.4 -.8z"/>
<path d="M339.6 421l-6.3 .8l6.4 -1.6l6.3 -.8z"/>
<path d="M333.3 422.6l-6.4 .8l6.4 -1.6l6.3 -.8z"/>
<path d="M326.9 424.3l-6.4 .8l6.4 -1.7l6.4 -.8z"/>
<path d="M320.5 493.2l-6.3 -.7l6.3 -67.4l6.4 -.8z"/>
<path d="M314.1 494.9l-6.3 -.8l6.4 -1.6l6.3 .7z"/>
<path d="M307.8 496.5l-6.4 -.8l6.4 -1.6l6.3 .8z"/>
<path d="M301.4 498.1l-6.4 -.8l6.4 -1.6l6.4 .8z"/>
<path d="M295 499.7l-6.4 -.7l6.4 -1.7l6.4 .8z"/>
<path d="M288.6 501.4l-6.3 -.8l6.3 -1.6l6.4 .7z"/>
<path d="M282.2 576.5l-6.3 -17.7l6.4 -58.2l6.3 .8z"/>
<path d="M275.9 578.1l-6.4 -17.7l6.4 -1.6l6.3 17.7z"/>
<path d="M269.5 579.7l-6.4 -17.6l6.4 -1.7l6.4 17.7z"/>
<path d="M581.9 358.8l-6.3 3l6.4 -1.6l6.3 -3z"/>
<path d="M575.6 360.4l-6.4 3l6.4 -1.6l6.3 -3z"/>
<path d="M569.2 361.7l-6.4 2.4l6.4 -.7l6.4 -3z"/>
<path d="M562.8 363.4l-6.3 2.3l6.3 -1.6l6.4 -2.4z"/>
<path d="M556.4 365l-6.3 2.3l6.4 -1.6l6.3 -2.3z"/>
<path d="M550.1 366.6l-6.4 2.3l6.4 -1.6l6.3 -2.3z"/>
<path d="M543.7 368.2l-6.4 2.4l6.4 -1.7l6.4 -2.3z"/>
<path d="M537.3 369.9l-6.3 2.3l6.3 -1.6l6.4 -2.4z"/>
<path d="M530.9 372.7l-6.3 .6l6.4 -1.1l6.3 -2.3z"/>
<path d="M524.5 374.3l-6.3 .6l6.4 -1.6l6.3 -.6z"/>
<path d="M518.2 376l-6.4 .5l6.4 -1.6l6.3 -.6z"/>
<path d="M511.8 377.6l-6.4 .5l6.4 -1.6l6.4 -.5z"/>
<path d="M505.4 379.2l-6.3 .6l6.3 -1.7l6.4 -.5z"/>
<path d="M499 380.8l-6.3 .3l6.4 -1.3l6.3 -.6z"/>
<path d="M492.7 382.4l-6.4 .3l6.4 -1.6l6.3 -.3z"/>
<path d="M486.3 384.1l-6.4 .3l6.4 -1.7l6.4 -.3z"/>
<path d="M479.9 385.7l-6.3 .3l6.3 -1.6l6.4 -.3z"/>
<path d="M473.5 387.3l-6.3 .3l6.4 -1.6l6.3 -.3z"/>
<path d="M467.2 388.9l-6.4 .3l6.4 -1.6l6.3 -.3z"/>
<path d="M460.8 387.8l-6.4 .1l6.4 1.3l6.4 -.3z"/>
<path d="M454.4 389.4l-6.4 .1l6.4 -1.6l6.4 -.1z"/>
<path d="M448 391l-6.3 .1l6.3 -1.6l6.4 -.1z"/>
<path d="M441.6 392.6l-6.3 .1l6.4 -1.6l6.3 -.1z"/>
<path d="M435.3 394.3l-6.4 .1l6.4 -1.7l6.3 -.1z"/>
<path d="M428.9 392l-6.4 -.1l6.4 2.5l6.4 -.1z"/>
<path d="M422.5 393.6l-6.3 -.1l6.3 -1.6l6.4 .1z"/>
<path d="M416.1 395.2l-6.3 0l6.4 -1.7l6.3 .1z"/>
<path d="M409.8 396.9l-6.4 -.1l6.4 -1.6l6.3 0z"/>
<path d="M403.4 398.5l-6.4 -.1l6.4 -1.6l6.4 .1z"/>
<path d="M397 394.9l-6.3 .3l6.3 3.2l6.4 .1z"/>
<path d="M390.6 396.5l-6.3 .3l6.4 -1.6l6.3 -.3z"/>
<path d="M384.2 398.2l-6.3 .2l6.4 -1.6l6.3 -.3z"/>
<path d="M377.9 399.8l-6.4 .2l6.4 -1.6l6.3 -.2z"/>
<path d="M371.5 401.4l-6.4 .3l6.4 -1.7l6.4 -.2z"/>
<path d="M365.1 403l-6.3 .3l6.3 -1.6l6.4 -.3z"/>
<path d="M358.7 418.1l-6.3 -.3l6.4 -14.5l6.3 -.3z"/>
<path d="M352.4 419.7l-6.4 -.3l6.4 -1.6l6.3 .3z"/>
<path d="M346 421.3l-6.4 -.3l6.4 -1.6l6.4 .3z"/>
<path d="M339.6 423l-6.3 -.4l6.3 -1.6l6.4 .3z"/>
<path d="M333.2 424.6l-6.3 -.3l6.4 -1.7l6.3 .4z"/>
<path d="M326.9 493.6l-6.4 -.4l6.4 -68.9l6.3 .3z"/>
<path d="M320.5 495.2l-6.4 -.3l6.4 -1.7l6.4 .4z"/>
<path d="M314.1 496.9l-6.3 -.4l6.3 -1.6l6.4 .3z"/>
<path d="M307.7 498.5l-6.3 -.4l6.4 -1.6l6.3 .4z"/>
<path d="M301.3 500.1l-6.3 -.4l6.4 -1.6l6.3 .4z"/>
<path d="M295 501.7l-6.4 -.3l6.4 -1.7l6.3 .4z"/>
<path d="M288.6 596.6l-6.4 -20.1l6.4 -75.1l6.4 .3z"/>
<path d="M282.2 598.2l-6.3 -20.1l6.3 -1.6l6.4 20.1z"/>
<path d="M275.8 599.8l-6.3 -20.1l6.4 -1.6l6.3 20.1z"/>
<path d="M588.3 356l-6.4 2.8l6.4 -1.6l6.4 -2.8z"/>
<path d="M581.9 357.6l-6.3 2.8l6.3 -1.6l6.4 -2.8z"/>
<path d="M575.5 359.6l-6.3 2.1l6.4 -1.3l6.3 -2.8z"/>
<path d="M569.2 361.2l-6.4 2.2l6.4 -1.7l6.3 -2.1z"/>
<path d="M562.8 362.8l-6.4 2.2l6.4 -1.6l6.4 -2.2z"/>
<path d="M556.4 364.4l-6.3 2.2l6.3 -1.6l6.4 -2.2z"/>
<path d="M550 366l-6.3 2.2l6.4 -1.6l6.3 -2.2z"/>
<path d="M543.6 367.7l-6.3 2.2l6.4 -1.7l6.3 -2.2z"/>
<path d="M537.3 372.2l-6.4 .5l6.4 -2.8l6.3 -2.2z"/>
<path d="M530.9 373.8l-6.4 .5l6.4 -1.6l6.4 -.5z"/>
<path d="M524.5 375.4l-6.3 .6l6.3 -1.7l6.4 -.5z"/>
<path d="M518.1 377.1l-6.3 .5l6.4 -1.6l6.3 -.6z"/>
<path d="M511.8 378.7l-6.4 .5l6.4 -1.6l6.3 -.5z"/>
<path d="M505.4 380.5l-6.4 .3l6.4 -1.6l6.4 -.5z"/>
<path d="M499 382.1l-6.3 .3l6.3 -1.6l6.4 -.3z"/>
<path d="M492.6 383.8l-6.3 .3l6.4 -1.7l6.3 -.3z"/>
<path d="M486.3 385.4l-6.4 .3l6.4 -1.6l6.3 -.3z"/>
<path d="M479.9 387l-6.4 .3l6.4 -1.6l6.4 -.3z"/>
<path d="M473.5 388.6l-6.3 .3l6.3 -1.6l6.4 -.3z"/>
<path d="M467.1 387.7l-6.3 .1l6.4 1.1l6.3 -.3z"/>
<path d="M460.7 389.3l-6.3 .1l6.4 -1.6l6.3 -.1z"/>
<path d="M454.4 390.9l-6.4 .1l6.4 -1.6l6.3 -.1z"/>
<path d="M448 392.5l-6.4 .1l6.4 -1.6l6.4 -.1z"/>
<path d="M441.6 394.1l-6.3 .2l6.3 -1.7l6.4 -.1z"/>
<path d="M435.2 392.1l-6.3 -.1l6.4 2.3l6.3 -.2z"/>
<path d="M428.9 393.7l-6.4 -.1l6.4 -1.6l6.3 .1z"/>
<path d="M422.5 395.3l-6.4 -.1l6.4 -1.6l6.4 .1z"/>
<path d="M416.1 397l-6.3 -.1l6.3 -1.7l6.4 .1z"/>
<path d="M409.7 398.6l-6.3 -.1l6.4 -1.6l6.3 .1z"/>
<path d="M403.4 394.3l-6.4 .6l6.4 3.6l6.3 .1z"/>
<path d="M397 396l-6.4 .5l6.4 -1.6l6.4 -.6z"/>
<path d="M390.6 397.6l-6.4 .6l6.4 -1.7l6.4 -.5z"/>
<path d="M384.2 399.2l-6.3 .6l6.3 -1.6l6.4 -.6z"/>
<path d="M377.8 400.8l-6.3 .6l6.4 -1.6l6.3 -.6z"/>
<path d="M371.5 402.5l-6.4 .5l6.4 -1.6l6.3 -.6z"/>
<path d="M365.1 421.7l-6.4 -3.6l6.4 -15.1l6.4 -.5z"/>
<path d="M358.7 423.3l-6.3 -3.6l6.3 -1.6l6.4 3.6z"/>
<path d="M352.3 424.9l-6.3 -3.6l6.4 -1.6l6.3 3.6z"/>
<path d="M346 426.5l-6.4 -3.5l6.4 -1.7l6.3 3.6z"/>
<path d="M339.6 428.1l-6.4 -3.5l6.4 -1.6l6.4 3.5z"/>
<path d="M333.2 492.1l-6.3 1.5l6.3 -69l6.4 3.5z"/>
<path d="M326.8 493.7l-6.3 1.5l6.4 -1.6l6.3 -1.5z"/>
<path d="M320.4 495.3l-6.3 1.6l6.4 -1.7l6.3 -1.5z"/>
<path d="M314.1 496.9l-6.4 1.6l6.4 -1.6l6.3 -1.6z"/>
<path d="M307.7 498.5l-6.4 1.6l6.4 -1.6l6.4 -1.6z"/>
<path d="M301.3 500.2l-6.3 1.5l6.3 -1.6l6.4 -1.6z"/>
<path d="M294.9 599l-6.3 -2.4l6.4 -94.9l6.3 -1.5z"/>
<path d="M288.6 600.7l-6.4 -2.5l6.4 -1.6l6.3 2.4z"/>
<path d="M282.2 602.3l-6.4 -2.5l6.4 -1.6l6.4 2.5z"/>
<path d="M594.6 351.9l-6.3 4.1l6.4 -1.6l6.3 -4.1z"/>
<path d="M588.3 353.5l-6.4 4.1l6.4 -1.6l6.3 -4.1z"/>
<path d="M581.9 356.2l-6.4 3.4l6.4 -2l6.4 -4.1z"/>
<path d="M575.5 357.8l-6.3 3.4l6.3 -1.6l6.4 -3.4z"/>
<path d="M569.1 359.5l-6.3 3.3l6.4 -1.6l6.3 -3.4z"/>
<path d="M562.8 361.1l-6.4 3.3l6.4 -1.6l6.3 -3.3z"/>
<path d="M556.4 362.7l-6.4 3.3l6.4 -1.6l6.4 -3.3z"/>
<path d="M550 364.3l-6.4 3.4l6.4 -1.7l6.4 -3.3z"/>
<path d="M543.6 371.7l-6.3 .5l6.3 -4.5l6.4 -3.4z"/>
<path d="M537.2 373.3l-6.3 .5l6.4 -1.6l6.3 -.5z"/>
<path d="M530.9 374.9l-6.4 .5l6.4 -1.6l6.3 -.5z"/>
<path d="M524.5 376.5l-6.4 .6l6.4 -1.7l6.4 -.5z"/>
<path d="M518.1 378.1l-6.3 .6l6.3 -1.6l6.4 -.6z"/>
<path d="M511.7 380.2l-6.3 .3l6.4 -1.8l6.3 -.6z"/>
<path d="M505.4 381.9l-6.4 .2l6.4 -1.6l6.3 -.3z"/>
<path d="M499 383.5l-6.4 .3l6.4 -1.7l6.4 -.2z"/>
<path d="M492.6 385.1l-6.3 .3l6.3 -1.6l6.4 -.3z"/>
<path d="M486.2 386.7l-6.3 .3l6.4 -1.6l6.3 -.3z"/>
<path d="M479.9 388.3l-6.4 .3l6.4 -1.6l6.3 -.3z"/>
<path d="M473.5 387.6l-6.4 .1l6.4 .9l6.4 -.3z"/>
<path d="M467.1 389.2l-6.4 .1l6.4 -1.6l6.4 -.1z"/>
<path d="M460.7 390.8l-6.3 .1l6.3 -1.6l6.4 -.1z"/>
<path d="M454.3 392.4l-6.3 .1l6.4 -1.6l6.3 -.1z"/>
<path d="M448 394.1l-6.4 0l6.4 -1.6l6.3 -.1z"/>
<path d="M441.6 392.1l-6.4 0l6.4 2l6.4 0z"/>
<path d="M435.2 393.7l-6.3 0l6.3 -1.6l6.4 0z"/>
<path d="M428.8 395.3l-6.3 0l6.4 -1.6l6.3 0z"/>
<path d="M422.5 397l-6.4 0l6.4 -1.7l6.3 0z"/>
<path d="M416.1 398.6l-6.4 0l6.4 -1.6l6.4 0z"/>
<path d="M409.7 398.1l-6.3 -3.8l6.3 4.3l6.4 0z"/>
<path d="M403.3 399.7l-6.3 -3.7l6.4 -1.7l6.3 3.8z"/>
<path d="M396.9 401.4l-6.3 -3.8l6.4 -1.6l6.3 3.7z"/>
<path d="M390.6 403l-6.4 -3.8l6.4 -1.6l6.3 3.8z"/>
<path d="M384.2 404.6l-6.4 -3.8l6.4 -1.6l6.4 3.8z"/>
<path d="M377.8 406.2l-6.3 -3.7l6.3 -1.7l6.4 3.8z"/>
<path d="M371.4 428.6l-6.3 -6.9l6.4 -19.2l6.3 3.7z"/>
<path d="M365.1 430.2l-6.4 -6.9l6.4 -1.6l6.3 6.9z"/>
<path d="M358.7 431.8l-6.4 -6.9l6.4 -1.6l6.4 6.9z"/>
<path d="M352.3 433.5l-6.3 -7l6.3 -1.6l6.4 6.9z"/>
<path d="M345.9 435.1l-6.3 -7l6.4 -1.6l6.3 7z"/>
<path d="M339.6 490.2l-6.4 1.9l6.4 -64l6.3 7z"/>
<path d="M333.2 491.8l-6.4 1.9l6.4 -1.6l6.4 -1.9z"/>
<path d="M326.8 493.5l-6.4 1.8l6.4 -1.6l6.4 -1.9z"/>
<path d="M320.4 495.1l-6.3 1.8l6.3 -1.6l6.4 -1.8z"/>
<path d="M314 496.7l-6.3 1.8l6.4 -1.6l6.3 -1.8z"/>
<path d="M307.7 498.3l-6.4 1.9l6.4 -1.7l6.3 -1.8z"/>
<path d="M301.3 594.2l-6.4 4.8l6.4 -98.8l6.4 -1.9z"/>
<path d="M294.9 595.8l-6.3 4.9l6.3 -1.7l6.4 -4.8z"/>
<path d="M288.5 597.5l-6.3 4.8l6.4 -1.6l6.3 -4.9z"/>
<path d="M601 347l-6.4 4.9l6.4 -1.6l6.4 -4.9z"/>
<path d="M594.6 348.6l-6.3 4.9l6.3 -1.6l6.4 -4.9z"/>
<path d="M588.2 352.2l-6.3 4l6.4 -2.7l6.3 -4.9z"/>
<path d="M581.9 353.8l-6.4 4l6.4 -1.6l6.3 -4z"/>
<path d="M575.5 355.4l-6.4 4.1l6.4 -1.7l6.4 -4z"/>
<path d="M569.1 357.1l-6.3 4l6.3 -1.6l6.4 -4.1z"/>
<path d="M562.7 358.7l-6.3 4l6.4 -1.6l6.3 -4z"/>
<path d="M556.3 360.3l-6.3 4l6.4 -1.6l6.3 -4z"/>
<path d="M550 371.1l-6.4 .6l6.4 -7.4l6.3 -4z"/>
<path d="M543.6 372.7l-6.4 .6l6.4 -1.6l6.4 -.6z"/>
<path d="M537.2 374.3l-6.3 .6l6.3 -1.6l6.4 -.6z"/>
<path d="M530.8 376l-6.3 .5l6.4 -1.6l6.3 -.6z"/>
<path d="M524.5 377.6l-6.4 .5l6.4 -1.6l6.3 -.5z"/>
<path d="M518.1 379.9l-6.4 .3l6.4 -2.1l6.4 -.5z"/>
<path d="M511.7 381.6l-6.3 .3l6.3 -1.7l6.4 -.3z"/>
<path d="M505.3 383.2l-6.3 .3l6.4 -1.6l6.3 -.3z"/>
<path d="M499 384.8l-6.4 .3l6.4 -1.6l6.3 -.3z"/>
<path d="M492.6 386.4l-6.4 .3l6.4 -1.6l6.4 -.3z"/>
<path d="M486.2 388.1l-6.3 .2l6.3 -1.6l6.4 -.3z"/>
<path d="M479.8 387.5l-6.3 .1l6.4 .7l6.3 -.2z"/>
<path d="M473.4 389.1l-6.3 .1l6.4 -1.6l6.3 -.1z"/>
<path d="M467.1 390.7l-6.4 .1l6.4 -1.6l6.3 -.1z"/>
<path d="M460.7 392.3l-6.4 .1l6.4 -1.6l6.4 -.1z"/>
<path d="M454.3 394l-6.3 .1l6.3 -1.7l6.4 -.1z"/>
<path d="M447.9 391.6l-6.3 .5l6.4 2l6.3 -.1z"/>
<path d="M441.6 393.2l-6.4 .5l6.4 -1.6l6.3 -.5z"/>
<path d="M435.2 394.8l-6.4 .5l6.4 -1.6l6.4 -.5z"/>
<path d="M428.8 396.4l-6.3 .6l6.3 -1.7l6.4 -.5z"/>
<path d="M422.4 398.1l-6.3 .5l6.4 -1.6l6.3 -.6z"/>
<path d="M416.1 406l-6.4 -7.9l6.4 .5l6.3 -.5z"/>
<path d="M409.7 407.6l-6.4 -7.9l6.4 -1.6l6.4 7.9z"/>
<path d="M403.3 409.3l-6.4 -7.9l6.4 -1.7l6.4 7.9z"/>
<path d="M396.9 410.9l-6.3 -7.9l6.3 -1.6l6.4 7.9z"/>
<path d="M390.5 412.5l-6.3 -7.9l6.4 -1.6l6.3 7.9z"/>
<path d="M384.2 414.1l-6.4 -7.9l6.4 -1.6l6.3 7.9z"/>
<path d="M377.8 437.5l-6.4 -8.9l6.4 -22.4l6.4 7.9z"/>
<path d="M371.4 439.1l-6.3 -8.9l6.3 -1.6l6.4 8.9z"/>
<path d="M365 440.7l-6.3 -8.9l6.4 -1.6l6.3 8.9z"/>
<path d="M358.7 442.4l-6.4 -8.9l6.4 -1.7l6.3 8.9z"/>
<path d="M352.3 444l-6.4 -8.9l6.4 -1.6l6.4 8.9z"/>
<path d="M345.9 490.6l-6.3 -.4l6.3 -55.1l6.4 8.9z"/>
<path d="M339.5 492.3l-6.3 -.5l6.4 -1.6l6.3 .4z"/>
<path d="M333.1 493.9l-6.3 -.4l6.4 -1.7l6.3 .5z"/>
<path d="M326.8 495.5l-6.4 -.4l6.4 -1.6l6.3 .4z"/>
<path d="M320.4 497.1l-6.4 -.4l6.4 -1.6l6.4 .4z"/>
<path d="M314 498.7l-6.3 -.4l6.3 -1.6l6.4 .4z"/>
<path d="M307.6 576.9l-6.3 17.3l6.4 -95.9l6.3 .4z"/>
<path d="M301.3 578.5l-6.4 17.3l6.4 -1.6l6.3 -17.3z"/>
<path d="M294.9 580.1l-6.4 17.4l6.4 -1.7l6.4 -17.3z"/>
<path d="M607.3 342.2l-6.3 4.8l6.4 -1.6l6.3 -4.9z"/>
<path d="M601 343.8l-6.4 4.8l6.4 -1.6l6.3 -4.8z"/>
<path d="M594.6 348.3l-6.4 3.9l6.4 -3.6l6.4 -4.8z"/>
<path d="M588.2 350l-6.3 3.8l6.3 -1.6l6.4 -3.9z"/>
<path d="M581.8 351.6l-6.3 3.8l6.4 -1.6l6.3 -3.8z"/>
<path d="M575.5 353.2l-6.4 3.9l6.4 -1.7l6.3 -3.8z"/>
<path d="M569.1 354.8l-6.4 3.9l6.4 -1.6l6.4 -3.9z"/>
<path d="M562.7 356.4l-6.4 3.9l6.4 -1.6l6.4 -3.9z"/>
<path d="M556.3 370.5l-6.3 .6l6.3 -10.8l6.4 -3.9z"/>
<path d="M549.9 372.2l-6.3 .5l6.4 -1.6l6.3 -.6z"/>
<path d="M543.6 373.8l-6.4 .5l6.4 -1.6l6.3 -.5z"/>
<path d="M537.2 375.4l-6.4 .6l6.4 -1.7l6.4 -.5z"/>
<path d="M530.8 377l-6.3 .6l6.3 -1.6l6.4 -.6z"/>
<path d="M524.4 379.6l-6.3 .3l6.4 -2.3l6.3 -.6z"/>
<path d="M518.1 381.3l-6.4 .3l6.4 -1.7l6.3 -.3z"/>
<path d="M511.7 382.9l-6.4 .3l6.4 -1.6l6.4 -.3z"/>
<path d="M505.3 384.5l-6.3 .3l6.3 -1.6l6.4 -.3z"/>
<path d="M498.9 386.1l-6.3 .3l6.4 -1.6l6.3 -.3z"/>
<path d="M492.5 387.8l-6.3 .3l6.4 -1.7l6.3 -.3z"/>
<path d="M486.2 386.9l-6.4 .6l6.4 .6l6.3 -.3z"/>
<path d="M479.8 388.6l-6.4 .5l6.4 -1.6l6.4 -.6z"/>
<path d="M473.4 390.2l-6.3 .5l6.3 -1.6l6.4 -.5z"/>
<path d="M467 391.8l-6.3 .5l6.4 -1.6l6.3 -.5z"/>
<path d="M460.7 393.4l-6.4 .6l6.4 -1.7l6.3 -.5z"/>
<path d="M454.3 395l-6.4 -3.4l6.4 2.4l6.4 -.6z"/>
<path d="M447.9 396.6l-6.3 -3.4l6.3 -1.6l6.4 3.4z"/>
<path d="M441.5 398.2l-6.3 -3.4l6.4 -1.6l6.3 3.4z"/>
<path d="M435.2 399.9l-6.4 -3.5l6.4 -1.6l6.3 3.4z"/>
<path d="M428.8 401.5l-6.4 -3.4l6.4 -1.7l6.4 3.5z"/>
<path d="M422.4 416.2l-6.3 -10.2l6.3 -7.9l6.4 3.4z"/>
<path d="M416 417.8l-6.3 -10.2l6.4 -1.6l6.3 10.2z"/>
<path d="M409.6 419.4l-6.3 -10.1l6.4 -1.7l6.3 10.2z"/>
<path d="M403.3 421l-6.4 -10.1l6.4 -1.6l6.3 10.1z"/>
<path d="M396.9 422.6l-6.4 -10.1l6.4 -1.6l6.4 10.1z"/>
<path d="M390.5 424.3l-6.3 -10.2l6.3 -1.6l6.4 10.1z"/>
<path d="M384.1 448.8l-6.3 -11.3l6.4 -23.4l6.3 10.2z"/>
<path d="M377.8 450.5l-6.4 -11.4l6.4 -1.6l6.3 11.3z"/>
<path d="M371.4 452.1l-6.4 -11.4l6.4 -1.6l6.4 11.4z"/>
<path d="M365 453.7l-6.3 -11.3l6.3 -1.7l6.4 11.4z"/>
<path d="M358.6 455.3l-6.3 -11.3l6.4 -1.6l6.3 11.3z"/>
<path d="M352.3 497.3l-6.4 -6.7l6.4 -46.6l6.3 11.3z"/>
<path d="M345.9 498.9l-6.4 -6.6l6.4 -1.7l6.4 6.7z"/>
<path d="M339.5 500.6l-6.4 -6.7l6.4 -1.6l6.4 6.6z"/>
<path d="M333.1 502.2l-6.3 -6.7l6.3 -1.6l6.4 6.7z"/>
<path d="M326.7 503.8l-6.3 -6.7l6.4 -1.6l6.3 6.7z"/>
<path d="M320.4 505.4l-6.4 -6.7l6.4 -1.6l6.3 6.7z"/>
<path d="M314 555.8l-6.4 21.1l6.4 -78.2l6.4 6.7z"/>
<path d="M307.6 557.4l-6.3 21.1l6.3 -1.6l6.4 -21.1z"/>
<path d="M301.2 559l-6.3 21.1l6.4 -1.6l6.3 -21.1z"/>
<path d="M613.7 338.2l-6.4 4l6.4 -1.7l6.4 -3.9z"/>
<path d="M607.3 339.9l-6.3 3.9l6.3 -1.6l6.4 -4z"/>
<path d="M600.9 345.4l-6.3 2.9l6.4 -4.5l6.3 -3.9z"/>
<path d="M594.6 347l-6.4 3l6.4 -1.7l6.3 -2.9z"/>
<path d="M588.2 348.7l-6.4 2.9l6.4 -1.6l6.4 -3z"/>
<path d="M581.8 350.3l-6.3 2.9l6.3 -1.6l6.4 -2.9z"/>
<path d="M575.4 351.9l-6.3 2.9l6.4 -1.6l6.3 -2.9z"/>
<path d="M569 353.5l-6.3 2.9l6.4 -1.6l6.3 -2.9z"/>
<path d="M562.7 369.9l-6.4 .6l6.4 -14.1l6.3 -2.9z"/>
<path d="M556.3 371.6l-6.4 .6l6.4 -1.7l6.4 -.6z"/>
<path d="M549.9 373.2l-6.3 .6l6.3 -1.6l6.4 -.6z"/>
<path d="M543.5 374.8l-6.3 .6l6.4 -1.6l6.3 -.6z"/>
<path d="M537.2 376.4l-6.4 .6l6.4 -1.6l6.3 -.6z"/>
<path d="M530.8 379.1l-6.4 .5l6.4 -2.6l6.4 -.6z"/>
<path d="M524.4 380.8l-6.3 .5l6.3 -1.7l6.4 -.5z"/>
<path d="M518 382.4l-6.3 .5l6.4 -1.6l6.3 -.5z"/>
<path d="M511.7 384l-6.4 .5l6.4 -1.6l6.3 -.5z"/>
<path d="M505.3 385.6l-6.4 .5l6.4 -1.6l6.4 -.5z"/>
<path d="M498.9 387.2l-6.4 .6l6.4 -1.7l6.4 -.5z"/>
<path d="M492.5 388.3l-6.3 -1.4l6.3 .9l6.4 -.6z"/>
<path d="M486.1 389.9l-6.3 -1.3l6.4 -1.7l6.3 1.4z"/>
<path d="M479.8 391.5l-6.4 -1.3l6.4 -1.6l6.3 1.3z"/>
<path d="M473.4 393.2l-6.4 -1.4l6.4 -1.6l6.4 1.3z"/>
<path d="M467 394.8l-6.3 -1.4l6.3 -1.6l6.4 1.4z"/>
<path d="M460.6 401.4l-6.3 -6.4l6.4 -1.6l6.3 1.4z"/>
<path d="M454.3 403l-6.4 -6.4l6.4 -1.6l6.3 6.4z"/>
<path d="M447.9 404.6l-6.4 -6.4l6.4 -1.6l6.4 6.4z"/>
<path d="M441.5 406.2l-6.3 -6.3l6.3 -1.7l6.4 6.4z"/>
<path d="M435.1 407.9l-6.3 -6.4l6.4 -1.6l6.3 6.3z"/>
<path d="M428.8 427l-6.4 -10.8l6.4 -14.7l6.3 6.4z"/>
<path d="M422.4 428.6l-6.4 -10.8l6.4 -1.6l6.4 10.8z"/>
<path d="M416 430.2l-6.4 -10.8l6.4 -1.6l6.4 10.8z"/>
<path d="M409.6 431.9l-6.3 -10.9l6.3 -1.6l6.4 10.8z"/>
<path d="M403.2 433.5l-6.3 -10.9l6.4 -1.6l6.3 10.9z"/>
<path d="M396.9 435.1l-6.4 -10.8l6.4 -1.7l6.3 10.9z"/>
<path d="M390.5 459l-6.4 -10.2l6.4 -24.5l6.4 10.8z"/>
<path d="M384.1 460.6l-6.3 -10.1l6.3 -1.7l6.4 10.2z"/>
<path d="M377.7 462.3l-6.3 -10.2l6.4 -1.6l6.3 10.1z"/>
<path d="M371.4 463.9l-6.4 -10.2l6.4 -1.6l6.3 10.2z"/>
<path d="M365 465.5l-6.4 -10.2l6.4 -1.6l6.4 10.2z"/>
<path d="M358.6 511.1l-6.3 -13.8l6.3 -42l6.4 10.2z"/>
<path d="M352.2 512.7l-6.3 -13.8l6.4 -1.6l6.3 13.8z"/>
<path d="M345.8 514.4l-6.3 -13.8l6.4 -1.7l6.3 13.8z"/>
<path d="M339.5 516l-6.4 -13.8l6.4 -1.6l6.3 13.8z"/>
<path d="M333.1 517.6l-6.4 -13.8l6.4 -1.6l6.4 13.8z"/>
<path d="M326.7 519.2l-6.3 -13.8l6.3 -1.6l6.4 13.8z"/>
<path d="M320.3 568.5l-6.3 -12.7l6.4 -50.4l6.3 13.8z"/>
<path d="M314 570.1l-6.4 -12.7l6.4 -1.6l6.3 12.7z"/>
<path d="M307.6 571.7l-6.4 -12.7l6.4 -1.6l6.4 12.7z"/>
<path d="M620 336.1l-6.3 2.1l6.4 -1.6l6.3 -2.1z"/>
<path d="M613.7 337.7l-6.4 2.2l6.4 -1.7l6.3 -2.1z"/>
<path d="M607.3 344.2l-6.4 1.2l6.4 -5.5l6.4 -2.2z"/>
<path d="M600.9 345.9l-6.3 1.1l6.3 -1.6l6.4 -1.2z"/>
<path d="M594.5 347.5l-6.3 1.2l6.4 -1.7l6.3 -1.1z"/>
<path d="M588.2 349.1l-6.4 1.2l6.4 -1.6l6.3 -1.2z"/>
<path d="M581.8 350.7l-6.4 1.2l6.4 -1.6l6.4 -1.2z"/>
<path d="M575.4 352.4l-6.4 1.1l6.4 -1.6l6.4 -1.2z"/>
<path d="M569 370.6l-6.3 -.7l6.3 -16.4l6.4 -1.1z"/>
<path d="M562.6 372.2l-6.3 -.6l6.4 -1.7l6.3 .7z"/>
<path d="M556.3 373.8l-6.4 -.6l6.4 -1.6l6.3 .6z"/>
<path d="M549.9 375.4l-6.4 -.6l6.4 -1.6l6.4 .6z"/>
<path d="M543.5 377l-6.3 -.6l6.3 -1.6l6.4 .6z"/>
<path d="M537.1 379.8l-6.3 -.7l6.4 -2.7l6.3 .6z"/>
<path d="M530.8 381.5l-6.4 -.7l6.4 -1.7l6.3 .7z"/>
<path d="M524.4 383.1l-6.4 -.7l6.4 -1.6l6.4 .7z"/>
<path d="M518 384.7l-6.3 -.7l6.3 -1.6l6.4 .7z"/>
<path d="M511.6 386.3l-6.3 -.7l6.4 -1.6l6.3 .7z"/>
<path d="M505.2 388l-6.3 -.8l6.4 -1.6l6.3 .7z"/>
<path d="M498.9 393.7l-6.4 -5.4l6.4 -1.1l6.3 .8z"/>
<path d="M492.5 395.3l-6.4 -5.4l6.4 -1.6l6.4 5.4z"/>
<path d="M486.1 396.9l-6.3 -5.4l6.3 -1.6l6.4 5.4z"/>
<path d="M479.7 398.5l-6.3 -5.3l6.4 -1.7l6.3 5.4z"/>
<path d="M473.4 400.2l-6.4 -5.4l6.4 -1.6l6.3 5.3z"/>
<path d="M467 411.3l-6.4 -9.9l6.4 -6.6l6.4 5.4z"/>
<path d="M460.6 412.9l-6.3 -9.9l6.3 -1.6l6.4 9.9z"/>
<path d="M454.2 414.5l-6.3 -9.9l6.4 -1.6l6.3 9.9z"/>
<path d="M447.9 416.1l-6.4 -9.9l6.4 -1.6l6.3 9.9z"/>
<path d="M441.5 417.8l-6.4 -9.9l6.4 -1.7l6.4 9.9z"/>
<path d="M435.1 438.5l-6.3 -11.5l6.3 -19.1l6.4 9.9z"/>
<path d="M428.7 440.1l-6.3 -11.5l6.4 -1.6l6.3 11.5z"/>
<path d="M422.3 441.7l-6.3 -11.5l6.4 -1.6l6.3 11.5z"/>
<path d="M416 443.3l-6.4 -11.4l6.4 -1.7l6.3 11.5z"/>
<path d="M409.6 445l-6.4 -11.5l6.4 -1.6l6.4 11.4z"/>
<path d="M403.2 446.6l-6.3 -11.5l6.3 -1.6l6.4 11.5z"/>
<path d="M396.8 469.6l-6.3 -10.6l6.4 -23.9l6.3 11.5z"/>
<path d="M390.5 471.3l-6.4 -10.7l6.4 -1.6l6.3 10.6z"/>
<path d="M384.1 472.9l-6.4 -10.6l6.4 -1.7l6.4 10.7z"/>
<path d="M377.7 474.5l-6.3 -10.6l6.3 -1.6l6.4 10.6z"/>
<path d="M371.3 476.1l-6.3 -10.6l6.4 -1.6l6.3 10.6z"/>
<path d="M365 524.4l-6.4 -13.3l6.4 -45.6l6.3 10.6z"/>
<path d="M358.6 526l-6.4 -13.3l6.4 -1.6l6.4 13.3z"/>
<path d="M352.2 527.6l-6.4 -13.2l6.4 -1.7l6.4 13.3z"/>
<path d="M345.8 529.2l-6.3 -13.2l6.3 -1.6l6.4 13.2z"/>
<path d="M339.4 530.9l-6.3 -13.3l6.4 -1.6l6.3 13.2z"/>
<path d="M333.1 532.5l-6.4 -13.3l6.4 -1.6l6.3 13.3z"/>
<path d="M326.7 582.7l-6.4 -14.2l6.4 -49.3l6.4 13.3z"/>
<path d="M320.3 584.4l-6.3 -14.3l6.3 -1.6l6.4 14.2z"/>
<path d="M313.9 586l-6.3 -14.3l6.4 -1.6l6.3 14.3z"/>
<path d="M626.4 336.6l-6.4 -.5l6.4 -1.6l6.4 .5z"/>
<path d="M620 338.2l-6.3 -.5l6.3 -1.6l6.4 .5z"/>
<path d="M613.6 345.9l-6.3 -1.7l6.4 -6.5l6.3 .5z"/>
<path d="M607.3 347.5l-6.4 -1.6l6.4 -1.7l6.3 1.7z"/>
<path d="M600.9 349.1l-6.4 -1.6l6.4 -1.6l6.4 1.6z"/>
<path d="M594.5 350.7l-6.3 -1.6l6.3 -1.6l6.4 1.6z"/>
<path d="M588.1 352.4l-6.3 -1.7l6.4 -1.6l6.3 1.6z"/>
<path d="M581.7 354l-6.3 -1.6l6.4 -1.7l6.3 1.7z"/>
<path d="M575.4 375.3l-6.4 -4.7l6.4 -18.2l6.3 1.6z"/>
<path d="M569 376.9l-6.4 -4.7l6.4 -1.6l6.4 4.7z"/>
<path d="M562.6 378.5l-6.3 -4.7l6.3 -1.6l6.4 4.7z"/>
<path d="M556.2 380.1l-6.3 -4.7l6.4 -1.6l6.3 4.7z"/>
<path d="M549.9 381.7l-6.4 -4.7l6.4 -1.6l6.3 4.7z"/>
<path d="M543.5 384.6l-6.4 -4.8l6.4 -2.8l6.4 4.7z"/>
<path d="M537.1 386.2l-6.3 -4.7l6.3 -1.7l6.4 4.8z"/>
<path d="M530.7 387.9l-6.3 -4.8l6.4 -1.6l6.3 4.7z"/>
<path d="M524.4 389.5l-6.4 -4.8l6.4 -1.6l6.3 4.8z"/>
<path d="M518 391.1l-6.4 -4.8l6.4 -1.6l6.4 4.8z"/>
<path d="M511.6 392.7l-6.4 -4.7l6.4 -1.7l6.4 4.8z"/>
<path d="M505.2 400.9l-6.3 -7.2l6.3 -5.7l6.4 4.7z"/>
<path d="M498.8 402.5l-6.3 -7.2l6.4 -1.6l6.3 7.2z"/>
<path d="M492.5 404.2l-6.4 -7.3l6.4 -1.6l6.3 7.2z"/>
<path d="M486.1 405.8l-6.4 -7.3l6.4 -1.6l6.4 7.3z"/>
<path d="M479.7 407.4l-6.3 -7.2l6.3 -1.7l6.4 7.3z"/>
<path d="M473.3 422.6l-6.3 -11.3l6.4 -11.1l6.3 7.2z"/>
<path d="M467 424.2l-6.4 -11.3l6.4 -1.6l6.3 11.3z"/>
<path d="M460.6 425.9l-6.4 -11.4l6.4 -1.6l6.4 11.3z"/>
<path d="M454.2 427.5l-6.3 -11.4l6.3 -1.6l6.4 11.4z"/>
<path d="M447.8 429.1l-6.3 -11.3l6.4 -1.7l6.3 11.4z"/>
<path d="M441.4 449.9l-6.3 -11.4l6.4 -20.7l6.3 11.3z"/>
<path d="M435.1 451.5l-6.4 -11.4l6.4 -1.6l6.3 11.4z"/>
<path d="M428.7 453.2l-6.4 -11.5l6.4 -1.6l6.4 11.4z"/>
<path d="M422.3 454.8l-6.3 -11.5l6.3 -1.6l6.4 11.5z"/>
<path d="M415.9 456.4l-6.3 -11.4l6.4 -1.7l6.3 11.5z"/>
<path d="M409.6 458l-6.4 -11.4l6.4 -1.6l6.3 11.4z"/>
<path d="M403.2 481.2l-6.4 -11.6l6.4 -23l6.4 11.4z"/>
<path d="M396.8 482.8l-6.3 -11.5l6.3 -1.7l6.4 11.6z"/>
<path d="M390.4 484.4l-6.3 -11.5l6.4 -1.6l6.3 11.5z"/>
<path d="M384.1 486l-6.4 -11.5l6.4 -1.6l6.3 11.5z"/>
<path d="M377.7 487.7l-6.4 -11.6l6.4 -1.6l6.4 11.5z"/>
<path d="M371.3 534l-6.3 -9.6l6.3 -48.3l6.4 11.6z"/>
<path d="M364.9 535.7l-6.3 -9.7l6.4 -1.6l6.3 9.6z"/>
<path d="M358.5 537.3l-6.3 -9.7l6.4 -1.6l6.3 9.7z"/>
<path d="M352.2 538.9l-6.4 -9.7l6.4 -1.6l6.3 9.7z"/>
<path d="M345.8 540.5l-6.4 -9.6l6.4 -1.7l6.4 9.7z"/>
<path d="M339.4 542.2l-6.3 -9.7l6.3 -1.6l6.4 9.6z"/>
<path d="M333 589.9l-6.3 -7.2l6.4 -50.2l6.3 9.7z"/>
<path d="M326.7 591.5l-6.4 -7.1l6.4 -1.7l6.3 7.2z"/>
<path d="M320.3 593.1l-6.4 -7.1l6.4 -1.6l6.4 7.1z"/>
<path d="M632.7 343.5l-6.3 -6.9l6.4 -1.6l6.3 6.9z"/>
<path d="M626.4 345.1l-6.4 -6.9l6.4 -1.6l6.3 6.9z"/>
<path d="M620 351.5l-6.4 -5.6l6.4 -7.7l6.4 6.9z"/>
<path d="M613.6 353.1l-6.3 -5.6l6.3 -1.6l6.4 5.6z"/>
<path d="M607.2 354.7l-6.3 -5.6l6.4 -1.6l6.3 5.6z"/>
<path d="M600.9 356.4l-6.4 -5.7l6.4 -1.6l6.3 5.6z"/>
<path d="M594.5 358l-6.4 -5.6l6.4 -1.7l6.4 5.7z"/>
<path d="M588.1 359.6l-6.4 -5.6l6.4 -1.6l6.4 5.6z"/>
<path d="M581.7 381.6l-6.3 -6.3l6.3 -21.3l6.4 5.6z"/>
<path d="M575.3 383.2l-6.3 -6.3l6.4 -1.6l6.3 6.3z"/>
<path d="M569 384.8l-6.4 -6.3l6.4 -1.6l6.3 6.3z"/>
<path d="M562.6 386.5l-6.4 -6.4l6.4 -1.6l6.4 6.3z"/>
<path d="M556.2 388.1l-6.3 -6.4l6.3 -1.6l6.4 6.4z"/>
<path d="M549.8 391l-6.3 -6.4l6.4 -2.9l6.3 6.4z"/>
<path d="M543.5 392.6l-6.4 -6.4l6.4 -1.6l6.3 6.4z"/>
<path d="M537.1 394.2l-6.4 -6.3l6.4 -1.7l6.4 6.4z"/>
<path d="M530.7 395.8l-6.3 -6.3l6.3 -1.6l6.4 6.3z"/>
<path d="M524.3 397.5l-6.3 -6.4l6.4 -1.6l6.3 6.3z"/>
<path d="M517.9 399.1l-6.3 -6.4l6.4 -1.6l6.3 6.4z"/>
<path d="M511.6 409.6l-6.4 -8.7l6.4 -8.2l6.3 6.4z"/>
<path d="M505.2 411.2l-6.4 -8.7l6.4 -1.6l6.4 8.7z"/>
<path d="M498.8 412.9l-6.3 -8.7l6.3 -1.7l6.4 8.7z"/>
<path d="M492.4 414.5l-6.3 -8.7l6.4 -1.6l6.3 8.7z"/>
<path d="M486.1 416.1l-6.4 -8.7l6.4 -1.6l6.3 8.7z"/>
<path d="M479.7 434.3l-6.4 -11.7l6.4 -15.2l6.4 8.7z"/>
<path d="M473.3 435.9l-6.3 -11.7l6.3 -1.6l6.4 11.7z"/>
<path d="M466.9 437.5l-6.3 -11.6l6.4 -1.7l6.3 11.7z"/>
<path d="M460.6 439.1l-6.4 -11.6l6.4 -1.6l6.3 11.6z"/>
<path d="M454.2 440.8l-6.4 -11.7l6.4 -1.6l6.4 11.6z"/>
<path d="M447.8 460.7l-6.4 -10.8l6.4 -20.8l6.4 11.7z"/>
<path d="M441.4 462.3l-6.3 -10.8l6.3 -1.6l6.4 10.8z"/>
<path d="M435 463.9l-6.3 -10.7l6.4 -1.7l6.3 10.8z"/>
<path d="M428.7 465.6l-6.4 -10.8l6.4 -1.6l6.3 10.7z"/>
<path d="M422.3 467.2l-6.4 -10.8l6.4 -1.6l6.4 10.8z"/>
<path d="M415.9 468.8l-6.3 -10.8l6.3 -1.6l6.4 10.8z"/>
<path d="M409.5 493.8l-6.3 -12.6l6.4 -23.2l6.3 10.8z"/>
<path d="M403.2 495.4l-6.4 -12.6l6.4 -1.6l6.3 12.6z"/>
<path d="M396.8 497l-6.4 -12.6l6.4 -1.6l6.4 12.6z"/>
<path d="M390.4 498.7l-6.3 -12.7l6.3 -1.6l6.4 12.6z"/>
<path d="M384 500.3l-6.3 -12.6l6.4 -1.7l6.3 12.7z"/>
<path d="M377.7 541.8l-6.4 -7.8l6.4 -46.3l6.3 12.6z"/>
<path d="M371.3 543.4l-6.4 -7.7l6.4 -1.7l6.4 7.8z"/>
<path d="M364.9 545l-6.4 -7.7l6.4 -1.6l6.4 7.7z"/>
<path d="M358.5 546.6l-6.3 -7.7l6.3 -1.6l6.4 7.7z"/>
<path d="M352.1 548.3l-6.3 -7.8l6.4 -1.6l6.3 7.7z"/>
<path d="M345.8 549.9l-6.4 -7.7l6.4 -1.7l6.3 7.8z"/>
<path d="M339.4 590.8l-6.4 -.9l6.4 -47.7l6.4 7.7z"/>
<path d="M333 592.4l-6.3 -.9l6.3 -1.6l6.4 .9z"/>
<path d="M326.6 594l-6.3 -.9l6.4 -1.6l6.3 .9z"/>
<path d="M639.1 352.9l-6.4 -9.4l6.4 -1.6l6.4 9.4z"/>
<path d="M632.7 354.5l-6.3 -9.4l6.3 -1.6l6.4 9.4z"/>
<path d="M626.3 358.4l-6.3 -6.9l6.4 -6.4l6.3 9.4z"/>
<path d="M620 360l-6.4 -6.9l6.4 -1.6l6.3 6.9z"/>
<path d="M613.6 361.7l-6.4 -7l6.4 -1.6l6.4 6.9z"/>
<path d="M607.2 363.3l-6.3 -6.9l6.3 -1.7l6.4 7z"/>
<path d="M600.8 364.9l-6.3 -6.9l6.4 -1.6l6.3 6.9z"/>
<path d="M594.4 366.5l-6.3 -6.9l6.4 -1.6l6.3 6.9z"/>
<path d="M588.1 389.4l-6.4 -7.8l6.4 -22l6.3 6.9z"/>
<path d="M581.7 391l-6.4 -7.8l6.4 -1.6l6.4 7.8z"/>
<path d="M575.3 392.6l-6.3 -7.8l6.3 -1.6l6.4 7.8z"/>
<path d="M568.9 394.3l-6.3 -7.8l6.4 -1.7l6.3 7.8z"/>
<path d="M562.6 395.9l-6.4 -7.8l6.4 -1.6l6.3 7.8z"/>
<path d="M556.2 398.8l-6.4 -7.8l6.4 -2.9l6.4 7.8z"/>
<path d="M549.8 400.5l-6.3 -7.9l6.3 -1.6l6.4 7.8z"/>
<path d="M543.4 402.1l-6.3 -7.9l6.4 -1.6l6.3 7.9z"/>
<path d="M537.1 403.7l-6.4 -7.9l6.4 -1.6l6.3 7.9z"/>
<path d="M530.7 405.3l-6.4 -7.8l6.4 -1.7l6.4 7.9z"/>
<path d="M524.3 407l-6.4 -7.9l6.4 -1.6l6.4 7.8z"/>
<path d="M517.9 419l-6.3 -9.4l6.3 -10.5l6.4 7.9z"/>
<path d="M511.5 420.6l-6.3 -9.4l6.4 -1.6l6.3 9.4z"/>
<path d="M505.2 422.2l-6.4 -9.3l6.4 -1.7l6.3 9.4z"/>
<path d="M498.8 423.9l-6.4 -9.4l6.4 -1.6l6.4 9.3z"/>
<path d="M492.4 425.5l-6.3 -9.4l6.3 -1.6l6.4 9.4z"/>
<path d="M486 444.8l-6.3 -10.5l6.4 -18.2l6.3 9.4z"/>
<path d="M479.7 446.4l-6.4 -10.5l6.4 -1.6l6.3 10.5z"/>
<path d="M473.3 448l-6.4 -10.5l6.4 -1.6l6.4 10.5z"/>
<path d="M466.9 449.7l-6.3 -10.6l6.3 -1.6l6.4 10.5z"/>
<path d="M460.5 451.3l-6.3 -10.5l6.4 -1.7l6.3 10.6z"/>
<path d="M454.1 469.1l-6.3 -8.4l6.4 -19.9l6.3 10.5z"/>
<path d="M447.8 470.7l-6.4 -8.4l6.4 -1.6l6.3 8.4z"/>
<path d="M441.4 472.3l-6.4 -8.4l6.4 -1.6l6.4 8.4z"/>
<path d="M435 473.9l-6.3 -8.3l6.3 -1.7l6.4 8.4z"/>
<path d="M428.6 475.6l-6.3 -8.4l6.4 -1.6l6.3 8.3z"/>
<path d="M422.3 477.2l-6.4 -8.4l6.4 -1.6l6.3 8.4z"/>
<path d="M415.9 503.5l-6.4 -9.7l6.4 -25l6.4 8.4z"/>
<path d="M409.5 505.2l-6.3 -9.8l6.3 -1.6l6.4 9.7z"/>
<path d="M403.1 506.8l-6.3 -9.8l6.4 -1.6l6.3 9.8z"/>
<path d="M396.8 508.4l-6.4 -9.7l6.4 -1.7l6.3 9.8z"/>
<path d="M390.4 510l-6.4 -9.7l6.4 -1.6l6.4 9.7z"/>
<path d="M384 550.2l-6.3 -8.4l6.3 -41.5l6.4 9.7z"/>
<path d="M377.6 551.8l-6.3 -8.4l6.4 -1.6l6.3 8.4z"/>
<path d="M371.2 553.4l-6.3 -8.4l6.4 -1.6l6.3 8.4z"/>
<path d="M364.9 555l-6.4 -8.4l6.4 -1.6l6.3 8.4z"/>
<path d="M358.5 556.7l-6.4 -8.4l6.4 -1.7l6.4 8.4z"/>
<path d="M352.1 558.3l-6.3 -8.4l6.3 -1.6l6.4 8.4z"/>
<path d="M345.7 591.1l-6.3 -.3l6.4 -40.9l6.3 8.4z"/>
<path d="M339.4 592.7l-6.4 -.3l6.4 -1.6l6.3 .3z"/>
<path d="M333 594.3l-6.4 -.3l6.4 -1.6l6.4 .3z"/>
<path d="M645.4 362.9l-6.3 -10l6.4 -1.6l6.3 10z"/>
<path d="M639.1 364.5l-6.4 -10l6.4 -1.6l6.3 10z"/>
<path d="M632.7 366.6l-6.4 -8.2l6.4 -3.9l6.4 10z"/>
<path d="M626.3 368.3l-6.3 -8.3l6.3 -1.6l6.4 8.2z"/>
<path d="M619.9 369.9l-6.3 -8.2l6.4 -1.7l6.3 8.3z"/>
<path d="M613.5 371.5l-6.3 -8.2l6.4 -1.6l6.3 8.2z"/>
<path d="M607.2 373.1l-6.4 -8.2l6.4 -1.6l6.3 8.2z"/>
<path d="M600.8 374.8l-6.4 -8.3l6.4 -1.6l6.4 8.2z"/>
<path d="M594.4 397.3l-6.3 -7.9l6.3 -22.9l6.4 8.3z"/>
<path d="M588 398.9l-6.3 -7.9l6.4 -1.6l6.3 7.9z"/>
<path d="M581.7 400.5l-6.4 -7.9l6.4 -1.6l6.3 7.9z"/>
<path d="M575.3 402.2l-6.4 -7.9l6.4 -1.7l6.4 7.9z"/>
<path d="M568.9 403.8l-6.3 -7.9l6.3 -1.6l6.4 7.9z"/>
<path d="M562.5 407l-6.3 -8.2l6.4 -2.9l6.3 7.9z"/>
<path d="M556.2 408.7l-6.4 -8.2l6.4 -1.7l6.3 8.2z"/>
<path d="M549.8 410.3l-6.4 -8.2l6.4 -1.6l6.4 8.2z"/>
<path d="M543.4 411.9l-6.3 -8.2l6.3 -1.6l6.4 8.2z"/>
<path d="M537 413.5l-6.3 -8.2l6.4 -1.6l6.3 8.2z"/>
<path d="M530.6 415.2l-6.3 -8.2l6.4 -1.7l6.3 8.2z"/>
<path d="M524.3 427.9l-6.4 -8.9l6.4 -12l6.3 8.2z"/>
<path d="M517.9 429.6l-6.4 -9l6.4 -1.6l6.4 8.9z"/>
<path d="M511.5 431.2l-6.3 -9l6.3 -1.6l6.4 9z"/>
<path d="M505.1 432.8l-6.3 -8.9l6.4 -1.7l6.3 9z"/>
<path d="M498.8 434.4l-6.4 -8.9l6.4 -1.6l6.3 8.9z"/>
<path d="M492.4 451.6l-6.4 -6.8l6.4 -19.3l6.4 8.9z"/>
<path d="M486 453.2l-6.3 -6.8l6.3 -1.6l6.4 6.8z"/>
<path d="M479.6 454.9l-6.3 -6.9l6.4 -1.6l6.3 6.8z"/>
<path d="M473.3 456.5l-6.4 -6.8l6.4 -1.7l6.3 6.9z"/>
<path d="M466.9 458.1l-6.4 -6.8l6.4 -1.6l6.4 6.8z"/>
<path d="M460.5 475.7l-6.4 -6.6l6.4 -17.8l6.4 6.8z"/>
<path d="M454.1 477.3l-6.3 -6.6l6.3 -1.6l6.4 6.6z"/>
<path d="M447.7 478.9l-6.3 -6.6l6.4 -1.6l6.3 6.6z"/>
<path d="M441.4 480.6l-6.4 -6.7l6.4 -1.6l6.3 6.6z"/>
<path d="M435 482.2l-6.4 -6.6l6.4 -1.7l6.4 6.7z"/>
<path d="M428.6 483.8l-6.3 -6.6l6.3 -1.6l6.4 6.6z"/>
<path d="M422.2 511l-6.3 -7.5l6.4 -26.3l6.3 6.6z"/>
<path d="M415.9 512.6l-6.4 -7.4l6.4 -1.7l6.3 7.5z"/>
<path d="M409.5 514.2l-6.4 -7.4l6.4 -1.6l6.4 7.4z"/>
<path d="M403.1 515.8l-6.3 -7.4l6.3 -1.6l6.4 7.4z"/>
<path d="M396.7 517.5l-6.3 -7.5l6.4 -1.6l6.3 7.4z"/>
<path d="M390.3 560.1l-6.3 -9.9l6.4 -40.2l6.3 7.5z"/>
<path d="M384 561.7l-6.4 -9.9l6.4 -1.6l6.3 9.9z"/>
<path d="M377.6 563.3l-6.4 -9.9l6.4 -1.6l6.4 9.9z"/>
<path d="M371.2 564.9l-6.3 -9.9l6.3 -1.6l6.4 9.9z"/>
<path d="M364.8 566.6l-6.3 -9.9l6.4 -1.7l6.3 9.9z"/>
<path d="M358.5 568.2l-6.4 -9.9l6.4 -1.6l6.3 9.9z"/>
<path d="M352.1 591.1l-6.4 0l6.4 -32.8l6.4 9.9z"/>
<path d="M345.7 592.7l-6.3 0l6.3 -1.6l6.4 0z"/>
<path d="M339.3 594.4l-6.3 -.1l6.4 -1.6l6.3 0z"/>
<path d="M651.8 373.3l-6.4 -10.4l6.4 -1.6l6.4 10.4z"/>
<path d="M645.4 375l-6.3 -10.5l6.3 -1.6l6.4 10.4z"/>
<path d="M639 375.4l-6.3 -8.8l6.4 -2.1l6.3 10.5z"/>
<path d="M632.7 377l-6.4 -8.7l6.4 -1.7l6.3 8.8z"/>
<path d="M626.3 378.7l-6.4 -8.8l6.4 -1.6l6.4 8.7z"/>
<path d="M619.9 380.3l-6.4 -8.8l6.4 -1.6l6.4 8.8z"/>
<path d="M613.5 381.9l-6.3 -8.8l6.3 -1.6l6.4 8.8z"/>
<path d="M607.1 383.5l-6.3 -8.7l6.4 -1.7l6.3 8.8z"/>
<path d="M600.8 404.2l-6.4 -6.9l6.4 -22.5l6.3 8.7z"/>
<path d="M594.4 405.9l-6.4 -7l6.4 -1.6l6.4 6.9z"/>
<path d="M588 407.5l-6.3 -7l6.3 -1.6l6.4 7z"/>
<path d="M581.6 409.1l-6.3 -6.9l6.4 -1.7l6.3 7z"/>
<path d="M575.3 410.7l-6.4 -6.9l6.4 -1.6l6.3 6.9z"/>
<path d="M568.9 414.7l-6.4 -7.7l6.4 -3.2l6.4 6.9z"/>
<path d="M562.5 416.3l-6.3 -7.6l6.3 -1.7l6.4 7.7z"/>
<path d="M556.1 417.9l-6.3 -7.6l6.4 -1.6l6.3 7.6z"/>
<path d="M549.8 419.5l-6.4 -7.6l6.4 -1.6l6.3 7.6z"/>
<path d="M543.4 421.2l-6.4 -7.7l6.4 -1.6l6.4 7.6z"/>
<path d="M537 422.8l-6.4 -7.6l6.4 -1.7l6.4 7.7z"/>
<path d="M530.6 434.9l-6.3 -7l6.3 -12.7l6.4 7.6z"/>
<path d="M524.2 436.5l-6.3 -6.9l6.4 -1.7l6.3 7z"/>
<path d="M517.9 438.1l-6.4 -6.9l6.4 -1.6l6.3 6.9z"/>
<path d="M511.5 439.8l-6.4 -7l6.4 -1.6l6.4 6.9z"/>
<path d="M505.1 441.4l-6.3 -7l6.3 -1.6l6.4 7z"/>
<path d="M498.7 454.2l-6.3 -2.6l6.4 -17.2l6.3 7z"/>
<path d="M492.4 455.9l-6.4 -2.7l6.4 -1.6l6.3 2.6z"/>
<path d="M486 457.5l-6.4 -2.6l6.4 -1.7l6.4 2.7z"/>
<path d="M479.6 459.1l-6.3 -2.6l6.3 -1.6l6.4 2.6z"/>
<path d="M473.2 460.7l-6.3 -2.6l6.4 -1.6l6.3 2.6z"/>
<path d="M466.8 480.9l-6.3 -5.2l6.4 -17.6l6.3 2.6z"/>
<path d="M460.5 482.5l-6.4 -5.2l6.4 -1.6l6.3 5.2z"/>
<path d="M454.1 484.2l-6.4 -5.3l6.4 -1.6l6.4 5.2z"/>
<path d="M447.7 485.8l-6.3 -5.2l6.3 -1.7l6.4 5.3z"/>
<path d="M441.3 487.4l-6.3 -5.2l6.4 -1.6l6.3 5.2z"/>
<path d="M435 489l-6.4 -5.2l6.4 -1.6l6.3 5.2z"/>
<path d="M428.6 517.1l-6.4 -6.1l6.4 -27.2l6.4 5.2z"/>
<path d="M422.2 518.8l-6.3 -6.2l6.3 -1.6l6.4 6.1z"/>
<path d="M415.8 520.4l-6.3 -6.2l6.4 -1.6l6.3 6.2z"/>
<path d="M409.5 522l-6.4 -6.2l6.4 -1.6l6.3 6.2z"/>
<path d="M403.1 523.6l-6.4 -6.1l6.4 -1.7l6.4 6.2z"/>
<path d="M396.7 571.2l-6.4 -11.1l6.4 -42.6l6.4 6.1z"/>
<path d="M390.3 572.9l-6.3 -11.2l6.3 -1.6l6.4 11.1z"/>
<path d="M383.9 574.5l-6.3 -11.2l6.4 -1.6l6.3 11.2z"/>
<path d="M377.6 576.1l-6.4 -11.2l6.4 -1.6l6.3 11.2z"/>
<path d="M371.2 577.7l-6.4 -11.1l6.4 -1.7l6.4 11.2z"/>
<path d="M364.8 579.3l-6.3 -11.1l6.3 -1.6l6.4 11.1z"/>
<path d="M358.4 590.7l-6.3 .4l6.4 -22.9l6.3 11.1z"/>
<path d="M352.1 592.3l-6.4 .4l6.4 -1.6l6.3 -.4z"/>
<path d="M345.7 593.9l-6.4 .5l6.4 -1.7l6.4 -.4z"/>
<path d="M658.1 383.6l-6.3 -10.3l6.4 -1.6l6.3 10.3z"/>
<path d="M651.8 385.2l-6.4 -10.2l6.4 -1.7l6.3 10.3z"/>
<path d="M645.4 384.1l-6.4 -8.7l6.4 -.4l6.4 10.2z"/>
<path d="M639 385.7l-6.3 -8.7l6.3 -1.6l6.4 8.7z"/>
<path d="M632.6 387.3l-6.3 -8.6l6.4 -1.7l6.3 8.7z"/>
<path d="M626.2 388.9l-6.3 -8.6l6.4 -1.6l6.3 8.6z"/>
<path d="M619.9 390.5l-6.4 -8.6l6.4 -1.6l6.3 8.6z"/>
<path d="M613.5 392.2l-6.4 -8.7l6.4 -1.6l6.4 8.6z"/>
<path d="M607.1 409.8l-6.3 -5.6l6.3 -20.7l6.4 8.7z"/>
<path d="M600.7 411.4l-6.3 -5.5l6.4 -1.7l6.3 5.6z"/>
<path d="M594.4 413l-6.4 -5.5l6.4 -1.6l6.3 5.5z"/>
<path d="M588 414.7l-6.4 -5.6l6.4 -1.6l6.4 5.5z"/>
<path d="M581.6 416.3l-6.3 -5.6l6.3 -1.6l6.4 5.6z"/>
<path d="M575.2 421.2l-6.3 -6.5l6.4 -4l6.3 5.6z"/>
<path d="M568.9 422.8l-6.4 -6.5l6.4 -1.6l6.3 6.5z"/>
<path d="M562.5 424.4l-6.4 -6.5l6.4 -1.6l6.4 6.5z"/>
<path d="M556.1 426l-6.3 -6.5l6.3 -1.6l6.4 6.5z"/>
<path d="M549.7 427.6l-6.3 -6.4l6.4 -1.7l6.3 6.5z"/>
<path d="M543.3 429.3l-6.3 -6.5l6.4 -1.6l6.3 6.4z"/>
<path d="M537 439.5l-6.4 -4.6l6.4 -12.1l6.3 6.5z"/>
<path d="M530.6 441.2l-6.4 -4.7l6.4 -1.6l6.4 4.6z"/>
<path d="M524.2 442.8l-6.3 -4.7l6.3 -1.6l6.4 4.7z"/>
<path d="M517.8 444.4l-6.3 -4.6l6.4 -1.7l6.3 4.7z"/>
<path d="M511.5 446l-6.4 -4.6l6.4 -1.6l6.3 4.6z"/>
<path d="M505.1 456l-6.4 -1.8l6.4 -12.8l6.4 4.6z"/>
<path d="M498.7 457.6l-6.3 -1.7l6.3 -1.7l6.4 1.8z"/>
<path d="M492.3 459.3l-6.3 -1.8l6.4 -1.6l6.3 1.7z"/>
<path d="M486 460.9l-6.4 -1.8l6.4 -1.6l6.3 1.8z"/>
<path d="M479.6 462.5l-6.4 -1.8l6.4 -1.6l6.4 1.8z"/>
<path d="M473.2 484.5l-6.4 -3.6l6.4 -20.2l6.4 1.8z"/>
<path d="M466.8 486.1l-6.3 -3.6l6.3 -1.6l6.4 3.6z"/>
<path d="M460.4 487.8l-6.3 -3.6l6.4 -1.7l6.3 3.6z"/>
<path d="M454.1 489.4l-6.4 -3.6l6.4 -1.6l6.3 3.6z"/>
<path d="M447.7 491l-6.4 -3.6l6.4 -1.6l6.4 3.6z"/>
<path d="M441.3 492.6l-6.3 -3.6l6.3 -1.6l6.4 3.6z"/>
<path d="M434.9 521.4l-6.3 -4.3l6.4 -28.1l6.3 3.6z"/>
<path d="M428.6 523l-6.4 -4.2l6.4 -1.7l6.3 4.3z"/>
<path d="M422.2 524.7l-6.4 -4.3l6.4 -1.6l6.4 4.2z"/>
<path d="M415.8 526.3l-6.3 -4.3l6.3 -1.6l6.4 4.3z"/>
<path d="M409.4 527.9l-6.3 -4.3l6.4 -1.6l6.3 4.3z"/>
<path d="M403 576.5l-6.3 -5.3l6.4 -47.6l6.3 4.3z"/>
<path d="M396.7 578.2l-6.4 -5.3l6.4 -1.7l6.3 5.3z"/>
<path d="M390.3 579.8l-6.4 -5.3l6.4 -1.6l6.4 5.3z"/>
<path d="M383.9 581.4l-6.3 -5.3l6.3 -1.6l6.4 5.3z"/>
<path d="M377.5 583l-6.3 -5.3l6.4 -1.6l6.3 5.3z"/>
<path d="M371.2 584.7l-6.4 -5.4l6.4 -1.6l6.3 5.3z"/>
<path d="M364.8 588.9l-6.4 1.8l6.4 -11.4l6.4 5.4z"/>
<path d="M358.4 590.5l-6.3 1.8l6.3 -1.6l6.4 -1.8z"/>
<path d="M352 592.1l-6.3 1.8l6.4 -1.6l6.3 -1.8z"/>
<path d="M664.5 393.7l-6.4 -10.1l6.4 -1.6l6.4 10.1z"/>
<path d="M658.1 395.4l-6.3 -10.2l6.3 -1.6l6.4 10.1z"/>
<path d="M651.7 391.8l-6.3 -7.7l6.4 1.1l6.3 10.2z"/>
<path d="M645.4 393.5l-6.4 -7.8l6.4 -1.6l6.3 7.7z"/>
<path d="M639 395.1l-6.4 -7.8l6.4 -1.6l6.4 7.8z"/>
<path d="M632.6 396.7l-6.4 -7.8l6.4 -1.6l6.4 7.8z"/>
<path d="M626.2 398.3l-6.3 -7.8l6.3 -1.6l6.4 7.8z"/>
<path d="M619.8 399.9l-6.3 -7.7l6.4 -1.7l6.3 7.8z"/>
<path d="M613.5 414.1l-6.4 -4.3l6.4 -17.6l6.3 7.7z"/>
<path d="M607.1 415.8l-6.4 -4.4l6.4 -1.6l6.4 4.3z"/>
<path d="M600.7 417.4l-6.3 -4.4l6.3 -1.6l6.4 4.4z"/>
<path d="M594.3 419l-6.3 -4.3l6.4 -1.7l6.3 4.4z"/>
<path d="M588 420.6l-6.4 -4.3l6.4 -1.6l6.3 4.3z"/>
<path d="M581.6 426.2l-6.4 -5l6.4 -4.9l6.4 4.3z"/>
<path d="M575.2 427.8l-6.3 -5l6.3 -1.6l6.4 5z"/>
<path d="M568.8 429.5l-6.3 -5.1l6.4 -1.6l6.3 5z"/>
<path d="M562.4 431.1l-6.3 -5.1l6.4 -1.6l6.3 5.1z"/>
<path d="M556.1 432.7l-6.4 -5.1l6.4 -1.6l6.3 5.1z"/>
<path d="M549.7 434.3l-6.4 -5l6.4 -1.7l6.4 5.1z"/>
<path d="M543.3 442l-6.3 -2.5l6.3 -10.2l6.4 5z"/>
<path d="M536.9 443.6l-6.3 -2.4l6.4 -1.7l6.3 2.5z"/>
<path d="M530.6 445.2l-6.4 -2.4l6.4 -1.6l6.3 2.4z"/>
<path d="M524.2 446.8l-6.4 -2.4l6.4 -1.6l6.4 2.4z"/>
<path d="M517.8 448.5l-6.3 -2.5l6.3 -1.6l6.4 2.4z"/>
<path d="M511.4 456.7l-6.3 -.7l6.4 -10l6.3 2.5z"/>
<path d="M505.1 458.3l-6.4 -.7l6.4 -1.6l6.3 .7z"/>
<path d="M498.7 459.9l-6.4 -.6l6.4 -1.7l6.4 .7z"/>
<path d="M492.3 461.5l-6.3 -.6l6.3 -1.6l6.4 .6z"/>
<path d="M485.9 463.2l-6.3 -.7l6.4 -1.6l6.3 .6z"/>
<path d="M479.5 486.4l-6.3 -1.9l6.4 -22l6.3 .7z"/>
<path d="M473.2 488l-6.4 -1.9l6.4 -1.6l6.3 1.9z"/>
<path d="M466.8 489.7l-6.4 -1.9l6.4 -1.7l6.4 1.9z"/>
<path d="M460.4 491.3l-6.3 -1.9l6.3 -1.6l6.4 1.9z"/>
<path d="M454 492.9l-6.3 -1.9l6.4 -1.6l6.3 1.9z"/>
<path d="M447.7 494.5l-6.4 -1.9l6.4 -1.6l6.3 1.9z"/>
<path d="M441.3 525l-6.4 -3.6l6.4 -28.8l6.4 1.9z"/>
<path d="M434.9 526.6l-6.3 -3.6l6.3 -1.6l6.4 3.6z"/>
<path d="M428.5 528.2l-6.3 -3.5l6.4 -1.7l6.3 3.6z"/>
<path d="M422.2 529.9l-6.4 -3.6l6.4 -1.6l6.3 3.5z"/>
<path d="M415.8 531.5l-6.4 -3.6l6.4 -1.6l6.4 3.6z"/>
<path d="M409.4 574.8l-6.4 1.7l6.4 -48.6l6.4 3.6z"/>
<path d="M403 576.5l-6.3 1.7l6.3 -1.7l6.4 -1.7z"/>
<path d="M396.6 578.1l-6.3 1.7l6.4 -1.6l6.3 -1.7z"/>
<path d="M390.3 579.7l-6.4 1.7l6.4 -1.6l6.3 -1.7z"/>
<path d="M383.9 581.3l-6.4 1.7l6.4 -1.6l6.4 -1.7z"/>
<path d="M377.5 583l-6.3 1.7l6.3 -1.7l6.4 -1.7z"/>
<path d="M371.1 581.7l-6.3 7.2l6.4 -4.2l6.3 -1.7z"/>
<path d="M364.8 583.3l-6.4 7.2l6.4 -1.6l6.3 -7.2z"/>
<path d="M358.4 584.9l-6.4 7.2l6.4 -1.6l6.4 -7.2z"/>
<path d="M670.8 403.4l-6.3 -9.7l6.4 -1.6l6.3 9.7z"/>
<path d="M664.5 405l-6.4 -9.6l6.4 -1.7l6.3 9.7z"/>
<path d="M658.1 397.8l-6.4 -6l6.4 3.6l6.4 9.6z"/>
<path d="M651.7 399.5l-6.3 -6l6.3 -1.7l6.4 6z"/>
<path d="M645.3 401.1l-6.3 -6l6.4 -1.6l6.3 6z"/>
<path d="M638.9 402.7l-6.3 -6l6.4 -1.6l6.3 6z"/>
<path d="M632.6 404.3l-6.4 -6l6.4 -1.6l6.3 6z"/>
<path d="M626.2 406l-6.4 -6.1l6.4 -1.6l6.4 6z"/>
<path d="M619.8 417.1l-6.3 -3l6.3 -14.2l6.4 6.1z"/>
<path d="M613.4 418.8l-6.3 -3l6.4 -1.7l6.3 3z"/>
<path d="M607.1 420.4l-6.4 -3l6.4 -1.6l6.3 3z"/>
<path d="M600.7 422l-6.4 -3l6.4 -1.6l6.4 3z"/>
<path d="M594.3 423.6l-6.3 -3l6.3 -1.6l6.4 3z"/>
<path d="M587.9 429l-6.3 -2.8l6.4 -5.6l6.3 3z"/>
<path d="M581.6 430.7l-6.4 -2.9l6.4 -1.6l6.3 2.8z"/>
<path d="M575.2 432.3l-6.4 -2.8l6.4 -1.7l6.4 2.9z"/>
<path d="M568.8 433.9l-6.4 -2.8l6.4 -1.6l6.4 2.8z"/>
<path d="M562.4 435.5l-6.3 -2.8l6.3 -1.6l6.4 2.8z"/>
<path d="M556 437.1l-6.3 -2.8l6.4 -1.6l6.3 2.8z"/>
<path d="M549.7 443.8l-6.4 -1.8l6.4 -7.7l6.3 2.8z"/>
<path d="M543.3 445.4l-6.4 -1.8l6.4 -1.6l6.4 1.8z"/>
<path d="M536.9 447.1l-6.3 -1.9l6.3 -1.6l6.4 1.8z"/>
<path d="M530.5 448.7l-6.3 -1.9l6.4 -1.6l6.3 1.9z"/>
<path d="M524.2 450.3l-6.4 -1.8l6.4 -1.7l6.3 1.9z"/>
<path d="M517.8 456.2l-6.4 .5l6.4 -8.2l6.4 1.8z"/>
<path d="M511.4 457.8l-6.3 .5l6.3 -1.6l6.4 -.5z"/>
<path d="M505 459.4l-6.3 .5l6.4 -1.6l6.3 -.5z"/>
<path d="M498.7 461.1l-6.4 .4l6.4 -1.6l6.3 -.5z"/>
<path d="M492.3 462.7l-6.4 .5l6.4 -1.7l6.4 -.4z"/>
<path d="M485.9 487.1l-6.4 -.7l6.4 -23.2l6.4 -.5z"/>
<path d="M479.5 488.7l-6.3 -.7l6.3 -1.6l6.4 .7z"/>
<path d="M473.1 490.3l-6.3 -.6l6.4 -1.7l6.3 .7z"/>
<path d="M466.8 491.9l-6.4 -.6l6.4 -1.6l6.3 .6z"/>
<path d="M460.4 493.6l-6.4 -.7l6.4 -1.6l6.4 .6z"/>
<path d="M454 495.2l-6.3 -.7l6.3 -1.6l6.4 .7z"/>
<path d="M447.6 528.1l-6.3 -3.1l6.4 -30.5l6.3 .7z"/>
<path d="M441.3 529.7l-6.4 -3.1l6.4 -1.6l6.3 3.1z"/>
<path d="M434.9 531.3l-6.4 -3.1l6.4 -1.6l6.4 3.1z"/>
<path d="M428.5 532.9l-6.3 -3l6.3 -1.7l6.4 3.1z"/>
<path d="M422.1 534.6l-6.3 -3.1l6.4 -1.6l6.3 3z"/>
<path d="M415.7 571l-6.3 3.8l6.4 -43.3l6.3 3.1z"/>
<path d="M409.4 572.6l-6.4 3.9l6.4 -1.7l6.3 -3.8z"/>
<path d="M403 574.3l-6.4 3.8l6.4 -1.6l6.4 -3.9z"/>
<path d="M396.6 575.9l-6.3 3.8l6.3 -1.6l6.4 -3.8z"/>
<path d="M390.2 577.5l-6.3 3.8l6.4 -1.6l6.3 -3.8z"/>
<path d="M383.9 579.1l-6.4 3.9l6.4 -1.7l6.3 -3.8z"/>
<path d="M377.5 572.8l-6.4 8.9l6.4 1.3l6.4 -3.9z"/>
<path d="M371.1 574.4l-6.3 8.9l6.3 -1.6l6.4 -8.9z"/>
<path d="M364.7 576l-6.3 8.9l6.4 -1.6l6.3 -8.9z"/>
<path d="M677.2 412.7l-6.4 -9.3l6.4 -1.6l6.4 9.3z"/>
<path d="M670.8 414.3l-6.3 -9.3l6.3 -1.6l6.4 9.3z"/>
<path d="M664.4 402.7l-6.3 -4.9l6.4 7.2l6.3 9.3z"/>
<path d="M658.1 404.4l-6.4 -4.9l6.4 -1.7l6.3 4.9z"/>
<path d="M651.7 406l-6.4 -4.9l6.4 -1.6l6.4 4.9z"/>
<path d="M645.3 407.6l-6.4 -4.9l6.4 -1.6l6.4 4.9z"/>
<path d="M638.9 409.2l-6.3 -4.9l6.3 -1.6l6.4 4.9z"/>
<path d="M632.5 410.8l-6.3 -4.8l6.4 -1.7l6.3 4.9z"/>
<path d="M626.2 419.4l-6.4 -2.3l6.4 -11.1l6.3 4.8z"/>
<path d="M619.8 421l-6.4 -2.2l6.4 -1.7l6.4 2.3z"/>
<path d="M613.4 422.7l-6.3 -2.3l6.3 -1.6l6.4 2.2z"/>
<path d="M607 424.3l-6.3 -2.3l6.4 -1.6l6.3 2.3z"/>
<path d="M600.7 425.9l-6.4 -2.3l6.4 -1.6l6.3 2.3z"/>
<path d="M594.3 431.2l-6.4 -2.2l6.4 -5.4l6.4 2.3z"/>
<path d="M587.9 432.8l-6.3 -2.1l6.3 -1.7l6.4 2.2z"/>
<path d="M581.5 434.4l-6.3 -2.1l6.4 -1.6l6.3 2.1z"/>
<path d="M575.1 436l-6.3 -2.1l6.4 -1.6l6.3 2.1z"/>
<path d="M568.8 437.7l-6.4 -2.2l6.4 -1.6l6.3 2.1z"/>
<path d="M562.4 439.3l-6.4 -2.2l6.4 -1.6l6.4 2.2z"/>
<path d="M556 443.9l-6.3 -.1l6.3 -6.7l6.4 2.2z"/>
<path d="M549.6 445.6l-6.3 -.2l6.4 -1.6l6.3 .1z"/>
<path d="M543.3 447.2l-6.4 -.1l6.4 -1.7l6.3 .2z"/>
<path d="M536.9 448.8l-6.4 -.1l6.4 -1.6l6.4 .1z"/>
<path d="M530.5 450.4l-6.3 -.1l6.3 -1.6l6.4 .1z"/>
<path d="M524.1 455.1l-6.3 1.1l6.4 -5.9l6.3 .1z"/>
<path d="M517.8 456.8l-6.4 1l6.4 -1.6l6.3 -1.1z"/>
<path d="M511.4 458.4l-6.4 1l6.4 -1.6l6.4 -1z"/>
<path d="M505 460l-6.3 1.1l6.3 -1.7l6.4 -1z"/>
<path d="M498.6 461.6l-6.3 1.1l6.4 -1.6l6.3 -1.1z"/>
<path d="M492.2 486.5l-6.3 .6l6.4 -24.4l6.3 -1.1z"/>
<path d="M485.9 488.1l-6.4 .6l6.4 -1.6l6.3 -.6z"/>
<path d="M479.5 489.7l-6.4 .6l6.4 -1.6l6.4 -.6z"/>
<path d="M473.1 491.3l-6.3 .6l6.3 -1.6l6.4 -.6z"/>
<path d="M466.7 493l-6.3 .6l6.4 -1.7l6.3 -.6z"/>
<path d="M460.4 494.6l-6.4 .6l6.4 -1.6l6.3 -.6z"/>
<path d="M454 530.4l-6.4 -2.3l6.4 -32.9l6.4 -.6z"/>
<path d="M447.6 532l-6.3 -2.3l6.3 -1.6l6.4 2.3z"/>
<path d="M441.2 533.6l-6.3 -2.3l6.4 -1.6l6.3 2.3z"/>
<path d="M434.9 535.3l-6.4 -2.4l6.4 -1.6l6.3 2.3z"/>
<path d="M428.5 536.9l-6.4 -2.3l6.4 -1.7l6.4 2.4z"/>
<path d="M422.1 568.2l-6.4 2.8l6.4 -36.4l6.4 2.3z"/>
<path d="M415.7 569.8l-6.3 2.8l6.3 -1.6l6.4 -2.8z"/>
<path d="M409.3 571.4l-6.3 2.9l6.4 -1.7l6.3 -2.8z"/>
<path d="M403 573l-6.4 2.9l6.4 -1.6l6.3 -2.9z"/>
<path d="M396.6 574.7l-6.4 2.8l6.4 -1.6l6.4 -2.9z"/>
<path d="M390.2 576.3l-6.3 2.8l6.3 -1.6l6.4 -2.8z"/>
<path d="M383.8 563.5l-6.3 9.3l6.4 6.3l6.3 -2.8z"/>
<path d="M377.5 565.1l-6.4 9.3l6.4 -1.6l6.3 -9.3z"/>
<path d="M371.1 566.7l-6.4 9.3l6.4 -1.6l6.4 -9.3z"/>
<path d="M683.5 421.7l-6.3 -9l6.4 -1.6l6.3 9z"/>
<path d="M677.2 423.3l-6.4 -9l6.4 -1.6l6.3 9z"/>
<path d="M670.8 406l-6.4 -3.3l6.4 11.6l6.4 9z"/>
<path d="M664.4 407.7l-6.3 -3.3l6.3 -1.7l6.4 3.3z"/>
<path d="M658 409.3l-6.3 -3.3l6.4 -1.6l6.3 3.3z"/>
<path d="M651.6 410.9l-6.3 -3.3l6.4 -1.6l6.3 3.3z"/>
<path d="M645.3 412.5l-6.4 -3.3l6.4 -1.6l6.3 3.3z"/>
<path d="M638.9 414.2l-6.4 -3.4l6.4 -1.6l6.4 3.3z"/>
<path d="M632.5 421.3l-6.3 -1.9l6.3 -8.6l6.4 3.4z"/>
<path d="M626.1 422.9l-6.3 -1.9l6.4 -1.6l6.3 1.9z"/>
<path d="M619.8 424.6l-6.4 -1.9l6.4 -1.7l6.3 1.9z"/>
<path d="M613.4 426.2l-6.4 -1.9l6.4 -1.6l6.4 1.9z"/>
<path d="M607 427.8l-6.3 -1.9l6.3 -1.6l6.4 1.9z"/>
<path d="M600.6 432.6l-6.3 -1.4l6.4 -5.3l6.3 1.9z"/>
<path d="M594.3 434.2l-6.4 -1.4l6.4 -1.6l6.3 1.4z"/>
<path d="M587.9 435.9l-6.4 -1.5l6.4 -1.6l6.4 1.4z"/>
<path d="M581.5 437.5l-6.4 -1.5l6.4 -1.6l6.4 1.5z"/>
<path d="M575.1 439.1l-6.3 -1.4l6.3 -1.7l6.4 1.5z"/>
<path d="M568.7 440.7l-6.3 -1.4l6.4 -1.6l6.3 1.4z"/>
<path d="M562.4 442.7l-6.4 1.2l6.4 -4.6l6.3 1.4z"/>
<path d="M556 444.3l-6.4 1.3l6.4 -1.7l6.4 -1.2z"/>
<path d="M549.6 445.9l-6.3 1.3l6.3 -1.6l6.4 -1.3z"/>
<path d="M543.2 447.6l-6.3 1.2l6.4 -1.6l6.3 -1.3z"/>
<path d="M536.9 449.2l-6.4 1.2l6.4 -1.6l6.3 -1.2z"/>
<path d="M530.5 454.1l-6.4 1l6.4 -4.7l6.4 -1.2z"/>
<path d="M524.1 455.7l-6.3 1.1l6.3 -1.7l6.4 -1z"/>
<path d="M517.7 457.3l-6.3 1.1l6.4 -1.6l6.3 -1.1z"/>
<path d="M511.3 458.9l-6.3 1.1l6.4 -1.6l6.3 -1.1z"/>
<path d="M505 460.6l-6.4 1l6.4 -1.6l6.3 -1.1z"/>
<path d="M498.6 485.1l-6.4 1.4l6.4 -24.9l6.4 -1z"/>
<path d="M492.2 486.7l-6.3 1.4l6.3 -1.6l6.4 -1.4z"/>
<path d="M485.8 488.3l-6.3 1.4l6.4 -1.6l6.3 -1.4z"/>
<path d="M479.5 490l-6.4 1.3l6.4 -1.6l6.3 -1.4z"/>
<path d="M473.1 491.6l-6.4 1.4l6.4 -1.7l6.4 -1.3z"/>
<path d="M466.7 493.2l-6.3 1.4l6.3 -1.6l6.4 -1.4z"/>
<path d="M460.3 531l-6.3 -.6l6.4 -35.8l6.3 -1.4z"/>
<path d="M454 532.6l-6.4 -.6l6.4 -1.6l6.3 .6z"/>
<path d="M447.6 534.2l-6.4 -.6l6.4 -1.6l6.4 .6z"/>
<path d="M441.2 535.9l-6.3 -.6l6.3 -1.7l6.4 .6z"/>
<path d="M434.8 537.5l-6.3 -.6l6.4 -1.6l6.3 .6z"/>
<path d="M428.4 566l-6.3 2.2l6.4 -31.3l6.3 .6z"/>
<path d="M422.1 567.6l-6.4 2.2l6.4 -1.6l6.3 -2.2z"/>
<path d="M415.7 569.3l-6.4 2.1l6.4 -1.6l6.4 -2.2z"/>
<path d="M409.3 570.9l-6.3 2.1l6.3 -1.6l6.4 -2.1z"/>
<path d="M402.9 572.5l-6.3 2.2l6.4 -1.7l6.3 -2.1z"/>
<path d="M396.6 574.1l-6.4 2.2l6.4 -1.6l6.3 -2.2z"/>
<path d="M390.2 554.5l-6.4 9l6.4 12.8l6.4 -2.2z"/>
<path d="M383.8 556.2l-6.3 8.9l6.3 -1.6l6.4 -9z"/>
<path d="M377.4 557.8l-6.3 8.9l6.4 -1.6l6.3 -8.9z"/>
<path d="M689.9 430.2l-6.4 -8.5l6.4 -1.6l6.4 8.5z"/>
<path d="M683.5 431.9l-6.3 -8.6l6.3 -1.6l6.4 8.5z"/>
<path d="M677.1 408.7l-6.3 -2.7l6.4 17.3l6.3 8.6z"/>
<path d="M670.8 410.3l-6.4 -2.6l6.4 -1.7l6.3 2.7z"/>
<path d="M664.4 411.9l-6.4 -2.6l6.4 -1.6l6.4 2.6z"/>
<path d="M658 413.6l-6.4 -2.7l6.4 -1.6l6.4 2.6z"/>
<path d="M651.6 415.2l-6.3 -2.7l6.3 -1.6l6.4 2.7z"/>
<path d="M645.2 416.8l-6.3 -2.6l6.4 -1.7l6.3 2.7z"/>
<path d="M638.9 422.3l-6.4 -1l6.4 -7.1l6.3 2.6z"/>
<path d="M632.5 424l-6.4 -1.1l6.4 -1.6l6.4 1z"/>
<path d="M626.1 425.6l-6.3 -1l6.3 -1.7l6.4 1.1z"/>
<path d="M619.7 427.2l-6.3 -1l6.4 -1.6l6.3 1z"/>
<path d="M613.4 428.8l-6.4 -1l6.4 -1.6l6.3 1z"/>
<path d="M607 433.4l-6.4 -.8l6.4 -4.8l6.4 1z"/>
<path d="M600.6 435l-6.3 -.8l6.3 -1.6l6.4 .8z"/>
<path d="M594.2 436.7l-6.3 -.8l6.4 -1.7l6.3 .8z"/>
<path d="M587.8 438.3l-6.3 -.8l6.4 -1.6l6.3 .8z"/>
<path d="M581.5 439.9l-6.4 -.8l6.4 -1.6l6.3 .8z"/>
<path d="M575.1 441.5l-6.4 -.8l6.4 -1.6l6.4 .8z"/>
<path d="M568.7 441.7l-6.3 1l6.3 -2l6.4 .8z"/>
<path d="M562.3 443.3l-6.3 1l6.4 -1.6l6.3 -1z"/>
<path d="M556 444.9l-6.4 1l6.4 -1.6l6.3 -1z"/>
<path d="M549.6 446.5l-6.4 1.1l6.4 -1.7l6.4 -1z"/>
<path d="M543.2 448.2l-6.3 1l6.3 -1.6l6.4 -1.1z"/>
<path d="M536.8 453.3l-6.3 .8l6.4 -4.9l6.3 -1z"/>
<path d="M530.5 455l-6.4 .7l6.4 -1.6l6.3 -.8z"/>
<path d="M524.1 456.6l-6.4 .7l6.4 -1.6l6.4 -.7z"/>
<path d="M517.7 458.2l-6.4 .7l6.4 -1.6l6.4 -.7z"/>
<path d="M511.3 459.8l-6.3 .8l6.3 -1.7l6.4 -.7z"/>
<path d="M504.9 483.5l-6.3 1.6l6.4 -24.5l6.3 -.8z"/>
<path d="M498.6 485.1l-6.4 1.6l6.4 -1.6l6.3 -1.6z"/>
<path d="M492.2 486.7l-6.4 1.6l6.4 -1.6l6.4 -1.6z"/>
<path d="M485.8 488.4l-6.3 1.6l6.3 -1.7l6.4 -1.6z"/>
<path d="M479.4 490l-6.3 1.6l6.4 -1.6l6.3 -1.6z"/>
<path d="M473.1 491.6l-6.4 1.6l6.4 -1.6l6.3 -1.6z"/>
<path d="M466.7 529.1l-6.4 1.9l6.4 -37.8l6.4 -1.6z"/>
<path d="M460.3 530.8l-6.3 1.8l6.3 -1.6l6.4 -1.9z"/>
<path d="M453.9 532.4l-6.3 1.8l6.4 -1.6l6.3 -1.8z"/>
<path d="M447.6 534l-6.4 1.9l6.4 -1.7l6.3 -1.8z"/>
<path d="M441.2 535.6l-6.4 1.9l6.4 -1.6l6.4 -1.9z"/>
<path d="M434.8 564.1l-6.4 1.9l6.4 -28.5l6.4 -1.9z"/>
<path d="M428.4 565.7l-6.3 1.9l6.3 -1.6l6.4 -1.9z"/>
<path d="M422 567.3l-6.3 2l6.4 -1.7l6.3 -1.9z"/>
<path d="M415.7 569l-6.4 1.9l6.4 -1.6l6.3 -2z"/>
<path d="M409.3 570.6l-6.4 1.9l6.4 -1.6l6.4 -1.9z"/>
<path d="M402.9 572.2l-6.3 1.9l6.3 -1.6l6.4 -1.9z"/>
<path d="M396.5 546l-6.3 8.5l6.4 19.6l6.3 -1.9z"/>
<path d="M390.2 547.7l-6.4 8.5l6.4 -1.7l6.3 -8.5z"/>
<path d="M383.8 549.3l-6.4 8.5l6.4 -1.6l6.4 -8.5z"/>
<path d="M696.2 438.2l-6.3 -8l6.4 -1.6l6.3 8z"/>
<path d="M689.9 439.8l-6.4 -7.9l6.4 -1.7l6.3 8z"/>
<path d="M683.5 411.7l-6.4 -3l6.4 23.2l6.4 7.9z"/>
<path d="M677.1 413.3l-6.3 -3l6.3 -1.6l6.4 3z"/>
<path d="M670.7 414.9l-6.3 -3l6.4 -1.6l6.3 3z"/>
<path d="M664.3 416.5l-6.3 -2.9l6.4 -1.7l6.3 3z"/>
<path d="M658 418.2l-6.4 -3l6.4 -1.6l6.3 2.9z"/>
<path d="M651.6 419.8l-6.4 -3l6.4 -1.6l6.4 3z"/>
<path d="M645.2 422.3l-6.3 0l6.3 -5.5l6.4 3z"/>
<path d="M638.8 423.9l-6.3 .1l6.4 -1.7l6.3 0z"/>
<path d="M632.5 425.6l-6.4 0l6.4 -1.6l6.3 -.1z"/>
<path d="M626.1 427.2l-6.4 0l6.4 -1.6l6.4 0z"/>
<path d="M619.7 428.8l-6.3 0l6.3 -1.6l6.4 0z"/>
<path d="M613.3 434l-6.3 -.6l6.4 -4.6l6.3 0z"/>
<path d="M607 435.6l-6.4 -.6l6.4 -1.6l6.3 .6z"/>
<path d="M600.6 437.3l-6.4 -.6l6.4 -1.7l6.4 .6z"/>
<path d="M594.2 438.9l-6.4 -.6l6.4 -1.6l6.4 .6z"/>
<path d="M587.8 440.5l-6.3 -.6l6.3 -1.6l6.4 .6z"/>
<path d="M581.4 442.1l-6.3 -.6l6.4 -1.6l6.3 .6z"/>
<path d="M575.1 440.6l-6.4 1.1l6.4 -.2l6.3 .6z"/>
<path d="M568.7 442.2l-6.4 1.1l6.4 -1.6l6.4 -1.1z"/>
<path d="M562.3 443.9l-6.3 1l6.3 -1.6l6.4 -1.1z"/>
<path d="M555.9 445.5l-6.3 1l6.4 -1.6l6.3 -1z"/>
<path d="M549.6 447.1l-6.4 1.1l6.4 -1.7l6.3 -1z"/>
<path d="M543.2 452.2l-6.4 1.1l6.4 -5.1l6.4 -1.1z"/>
<path d="M536.8 453.8l-6.3 1.2l6.3 -1.7l6.4 -1.1z"/>
<path d="M530.4 455.4l-6.3 1.2l6.4 -1.6l6.3 -1.2z"/>
<path d="M524 457l-6.3 1.2l6.4 -1.6l6.3 -1.2z"/>
<path d="M517.7 458.7l-6.4 1.1l6.4 -1.6l6.3 -1.2z"/>
<path d="M511.3 485.3l-6.4 -1.8l6.4 -23.7l6.4 -1.1z"/>
<path d="M504.9 486.9l-6.3 -1.8l6.3 -1.6l6.4 1.8z"/>
<path d="M498.5 488.5l-6.3 -1.8l6.4 -1.6l6.3 1.8z"/>
<path d="M492.2 490.2l-6.4 -1.8l6.4 -1.7l6.3 1.8z"/>
<path d="M485.8 491.8l-6.4 -1.8l6.4 -1.6l6.4 1.8z"/>
<path d="M479.4 493.4l-6.3 -1.8l6.3 -1.6l6.4 1.8z"/>
<path d="M473 526.8l-6.3 2.3l6.4 -37.5l6.3 1.8z"/>
<path d="M466.7 528.4l-6.4 2.4l6.4 -1.7l6.3 -2.3z"/>
<path d="M460.3 530l-6.4 2.4l6.4 -1.6l6.4 -2.4z"/>
<path d="M453.9 531.6l-6.3 2.4l6.3 -1.6l6.4 -2.4z"/>
<path d="M447.5 533.3l-6.3 2.3l6.4 -1.6l6.3 -2.4z"/>
<path d="M441.1 562.3l-6.3 1.8l6.4 -28.5l6.3 -2.3z"/>
<path d="M434.8 563.9l-6.4 1.8l6.4 -1.6l6.3 -1.8z"/>
<path d="M428.4 565.5l-6.4 1.8l6.4 -1.6l6.4 -1.8z"/>
<path d="M422 567.1l-6.3 1.9l6.3 -1.7l6.4 -1.8z"/>
<path d="M415.6 568.8l-6.3 1.8l6.4 -1.6l6.3 -1.9z"/>
<path d="M409.3 570.4l-6.4 1.8l6.4 -1.6l6.3 -1.8z"/>
<path d="M402.9 538.3l-6.4 7.7l6.4 26.2l6.4 -1.8z"/>
<path d="M396.5 539.9l-6.3 7.8l6.3 -1.7l6.4 -7.7z"/>
<path d="M390.1 541.5l-6.3 7.8l6.4 -1.6l6.3 -7.8z"/>
<path d="M702.6 444.8l-6.4 -6.6l6.4 -1.6l6.4 6.6z"/>
<path d="M696.2 446.4l-6.3 -6.6l6.3 -1.6l6.4 6.6z"/>
<path d="M689.8 416.4l-6.3 -4.7l6.4 28.1l6.3 6.6z"/>
<path d="M683.4 418l-6.3 -4.7l6.4 -1.6l6.3 4.7z"/>
<path d="M677.1 419.7l-6.4 -4.8l6.4 -1.6l6.3 4.7z"/>
<path d="M670.7 421.3l-6.4 -4.8l6.4 -1.6l6.4 4.8z"/>
<path d="M664.3 422.9l-6.3 -4.7l6.3 -1.7l6.4 4.8z"/>
<path d="M657.9 424.5l-6.3 -4.7l6.4 -1.6l6.3 4.7z"/>
<path d="M651.6 422.2l-6.4 .1l6.4 -2.5l6.3 4.7z"/>
<path d="M645.2 423.8l-6.4 .1l6.4 -1.6l6.4 -.1z"/>
<path d="M638.8 425.4l-6.3 .2l6.3 -1.7l6.4 -.1z"/>
<path d="M632.4 427.1l-6.3 .1l6.4 -1.6l6.3 -.2z"/>
<path d="M626.1 428.7l-6.4 .1l6.4 -1.6l6.3 -.1z"/>
<path d="M619.7 434.6l-6.4 -.6l6.4 -5.2l6.4 -.1z"/>
<path d="M613.3 436.2l-6.3 -.6l6.3 -1.6l6.4 .6z"/>
<path d="M606.9 437.8l-6.3 -.5l6.4 -1.7l6.3 .6z"/>
<path d="M600.5 439.4l-6.3 -.5l6.4 -1.6l6.3 .5z"/>
<path d="M594.2 441.1l-6.4 -.6l6.4 -1.6l6.3 .5z"/>
<path d="M587.8 442.7l-6.4 -.6l6.4 -1.6l6.4 .6z"/>
<path d="M581.4 439.7l-6.3 .9l6.3 1.5l6.4 .6z"/>
<path d="M575 441.3l-6.3 .9l6.4 -1.6l6.3 -.9z"/>
<path d="M568.7 442.9l-6.4 1l6.4 -1.7l6.3 -.9z"/>
<path d="M562.3 444.6l-6.4 .9l6.4 -1.6l6.4 -1z"/>
<path d="M555.9 446.2l-6.3 .9l6.3 -1.6l6.4 -.9z"/>
<path d="M549.5 451.2l-6.3 1l6.4 -5.1l6.3 -.9z"/>
<path d="M543.2 452.8l-6.4 1l6.4 -1.6l6.3 -1z"/>
<path d="M536.8 454.5l-6.4 .9l6.4 -1.6l6.4 -1z"/>
<path d="M530.4 456.1l-6.4 .9l6.4 -1.6l6.4 -.9z"/>
<path d="M524 457.7l-6.3 1l6.3 -1.7l6.4 -.9z"/>
<path d="M517.6 488.2l-6.3 -2.9l6.4 -26.6l6.3 -1z"/>
<path d="M511.3 489.8l-6.4 -2.9l6.4 -1.6l6.3 2.9z"/>
<path d="M504.9 491.4l-6.4 -2.9l6.4 -1.6l6.4 2.9z"/>
<path d="M498.5 493.1l-6.3 -2.9l6.3 -1.7l6.4 2.9z"/>
<path d="M492.1 494.7l-6.3 -2.9l6.4 -1.6l6.3 2.9z"/>
<path d="M485.8 496.3l-6.4 -2.9l6.4 -1.6l6.3 2.9z"/>
<path d="M479.4 525l-6.4 1.8l6.4 -33.4l6.4 2.9z"/>
<path d="M473 526.6l-6.3 1.8l6.3 -1.6l6.4 -1.8z"/>
<path d="M466.6 528.3l-6.3 1.7l6.4 -1.6l6.3 -1.8z"/>
<path d="M460.2 529.9l-6.3 1.7l6.4 -1.6l6.3 -1.7z"/>
<path d="M453.9 531.5l-6.4 1.8l6.4 -1.7l6.3 -1.7z"/>
<path d="M447.5 565.2l-6.4 -2.9l6.4 -29l6.4 -1.8z"/>
<path d="M441.1 566.9l-6.3 -3l6.3 -1.6l6.4 2.9z"/>
<path d="M434.7 568.5l-6.3 -3l6.4 -1.6l6.3 3z"/>
<path d="M428.4 570.1l-6.4 -3l6.4 -1.6l6.3 3z"/>
<path d="M422 571.7l-6.4 -2.9l6.4 -1.7l6.4 3z"/>
<path d="M415.6 573.4l-6.3 -3l6.3 -1.6l6.4 2.9z"/>
<path d="M409.2 530.9l-6.3 7.4l6.4 32.1l6.3 3z"/>
<path d="M402.9 532.5l-6.4 7.4l6.4 -1.6l6.3 -7.4z"/>
<path d="M396.5 534.1l-6.4 7.4l6.4 -1.6l6.4 -7.4z"/>
<path d="M708.9 450.2l-6.3 -5.4l6.4 -1.6l6.3 5.4z"/>
<path d="M702.6 451.8l-6.4 -5.4l6.4 -1.6l6.3 5.4z"/>
<path d="M696.2 422.8l-6.4 -6.4l6.4 30l6.4 5.4z"/>
<path d="M689.8 424.5l-6.4 -6.5l6.4 -1.6l6.4 6.4z"/>
<path d="M683.4 426.1l-6.3 -6.4l6.3 -1.7l6.4 6.5z"/>
<path d="M677 427.7l-6.3 -6.4l6.4 -1.6l6.3 6.4z"/>
<path d="M670.7 429.3l-6.4 -6.4l6.4 -1.6l6.3 6.4z"/>
<path d="M664.3 431l-6.4 -6.5l6.4 -1.6l6.4 6.4z"/>
<path d="M657.9 422.4l-6.3 -.2l6.3 2.3l6.4 6.5z"/>
<path d="M651.5 424l-6.3 -.2l6.4 -1.6l6.3 .2z"/>
<path d="M645.2 425.6l-6.4 -.2l6.4 -1.6l6.3 .2z"/>
<path d="M638.8 427.3l-6.4 -.2l6.4 -1.7l6.4 .2z"/>
<path d="M632.4 428.9l-6.3 -.2l6.3 -1.6l6.4 .2z"/>
<path d="M626 435l-6.3 -.4l6.4 -5.9l6.3 .2z"/>
<path d="M619.7 436.7l-6.4 -.5l6.4 -1.6l6.3 .4z"/>
<path d="M613.3 438.3l-6.4 -.5l6.4 -1.6l6.4 .5z"/>
<path d="M606.9 439.9l-6.4 -.5l6.4 -1.6l6.4 .5z"/>
<path d="M600.5 441.5l-6.3 -.4l6.3 -1.7l6.4 .5z"/>
<path d="M594.1 443.2l-6.3 -.5l6.4 -1.6l6.3 .4z"/>
<path d="M587.8 440l-6.4 -.3l6.4 3l6.3 .5z"/>
<path d="M581.4 441.6l-6.4 -.3l6.4 -1.6l6.4 .3z"/>
<path d="M575 443.3l-6.3 -.4l6.3 -1.6l6.4 .3z"/>
<path d="M568.6 444.9l-6.3 -.3l6.4 -1.7l6.3 .4z"/>
<path d="M562.3 446.5l-6.4 -.3l6.4 -1.6l6.3 .3z"/>
<path d="M555.9 451.5l-6.4 -.3l6.4 -5l6.4 .3z"/>
<path d="M549.5 453.2l-6.3 -.4l6.3 -1.6l6.4 .3z"/>
<path d="M543.1 454.8l-6.3 -.3l6.4 -1.7l6.3 .4z"/>
<path d="M536.7 456.4l-6.3 -.3l6.4 -1.6l6.3 .3z"/>
<path d="M530.4 458l-6.4 -.3l6.4 -1.6l6.3 .3z"/>
<path d="M524 491.9l-6.4 -3.7l6.4 -30.5l6.4 .3z"/>
<path d="M517.6 493.6l-6.3 -3.8l6.3 -1.6l6.4 3.7z"/>
<path d="M511.2 495.2l-6.3 -3.8l6.4 -1.6l6.3 3.8z"/>
<path d="M504.9 496.8l-6.4 -3.7l6.4 -1.7l6.3 3.8z"/>
<path d="M498.5 498.4l-6.4 -3.7l6.4 -1.6l6.4 3.7z"/>
<path d="M492.1 500.1l-6.3 -3.8l6.3 -1.6l6.4 3.7z"/>
<path d="M485.7 523l-6.3 2l6.4 -28.7l6.3 3.8z"/>
<path d="M479.4 524.7l-6.4 1.9l6.4 -1.6l6.3 -2z"/>
<path d="M473 526.3l-6.4 2l6.4 -1.7l6.4 -1.9z"/>
<path d="M466.6 527.9l-6.4 2l6.4 -1.6l6.4 -2z"/>
<path d="M460.2 529.5l-6.3 2l6.3 -1.6l6.4 -2z"/>
<path d="M453.8 570.1l-6.3 -4.9l6.4 -33.7l6.3 -2z"/>
<path d="M447.5 571.7l-6.4 -4.8l6.4 -1.7l6.3 4.9z"/>
<path d="M441.1 573.4l-6.4 -4.9l6.4 -1.6l6.4 4.8z"/>
<path d="M434.7 575l-6.3 -4.9l6.3 -1.6l6.4 4.9z"/>
<path d="M428.3 576.6l-6.3 -4.9l6.4 -1.6l6.3 4.9z"/>
<path d="M422 578.2l-6.4 -4.8l6.4 -1.7l6.3 4.9z"/>
<path d="M415.6 523.5l-6.4 7.4l6.4 42.5l6.4 4.8z"/>
<path d="M409.2 525.1l-6.3 7.4l6.3 -1.6l6.4 -7.4z"/>
<path d="M402.8 526.8l-6.3 7.3l6.4 -1.6l6.3 -7.4z"/>
<path d="M715.3 454.3l-6.4 -4.1l6.4 -1.6l6.4 4z"/>
<path d="M708.9 455.9l-6.3 -4.1l6.3 -1.6l6.4 4.1z"/>
<path d="M702.5 430.2l-6.3 -7.4l6.4 29l6.3 4.1z"/>
<path d="M696.1 431.9l-6.3 -7.4l6.4 -1.7l6.3 7.4z"/>
<path d="M689.8 433.5l-6.4 -7.4l6.4 -1.6l6.3 7.4z"/>
<path d="M683.4 435.1l-6.4 -7.4l6.4 -1.6l6.4 7.4z"/>
<path d="M677 436.7l-6.3 -7.4l6.3 -1.6l6.4 7.4z"/>
<path d="M670.6 438.4l-6.3 -7.4l6.4 -1.7l6.3 7.4z"/>
<path d="M664.3 422.4l-6.4 0l6.4 8.6l6.3 7.4z"/>
<path d="M657.9 424.1l-6.4 -.1l6.4 -1.6l6.4 0z"/>
<path d="M651.5 425.7l-6.3 -.1l6.3 -1.6l6.4 .1z"/>
<path d="M645.1 427.3l-6.3 0l6.4 -1.7l6.3 .1z"/>
<path d="M638.8 428.9l-6.4 0l6.4 -1.6l6.3 0z"/>
<path d="M632.4 436.5l-6.4 -1.5l6.4 -6.1l6.4 0z"/>
<path d="M626 438.2l-6.3 -1.5l6.3 -1.7l6.4 1.5z"/>
<path d="M619.6 439.8l-6.3 -1.5l6.4 -1.6l6.3 1.5z"/>
<path d="M613.2 441.4l-6.3 -1.5l6.4 -1.6l6.3 1.5z"/>
<path d="M606.9 443l-6.4 -1.5l6.4 -1.6l6.3 1.5z"/>
<path d="M600.5 444.7l-6.4 -1.5l6.4 -1.7l6.4 1.5z"/>
<path d="M594.1 448.2l-6.3 -8.2l6.3 3.2l6.4 1.5z"/>
<path d="M587.7 449.8l-6.3 -8.2l6.4 -1.6l6.3 8.2z"/>
<path d="M581.4 451.5l-6.4 -8.2l6.4 -1.7l6.3 8.2z"/>
<path d="M575 453.1l-6.4 -8.2l6.4 -1.6l6.4 8.2z"/>
<path d="M568.6 454.7l-6.3 -8.2l6.3 -1.6l6.4 8.2z"/>
<path d="M562.2 465.7l-6.3 -14.2l6.4 -5l6.3 8.2z"/>
<path d="M555.9 467.3l-6.4 -14.1l6.4 -1.7l6.3 14.2z"/>
<path d="M549.5 468.9l-6.4 -14.1l6.4 -1.6l6.4 14.1z"/>
<path d="M543.1 470.5l-6.4 -14.1l6.4 -1.6l6.4 14.1z"/>
<path d="M536.7 472.1l-6.3 -14.1l6.3 -1.6l6.4 14.1z"/>
<path d="M530.3 499.6l-6.3 -7.7l6.4 -33.9l6.3 14.1z"/>
<path d="M524 501.2l-6.4 -7.6l6.4 -1.7l6.3 7.7z"/>
<path d="M517.6 502.8l-6.4 -7.6l6.4 -1.6l6.4 7.6z"/>
<path d="M511.2 504.5l-6.3 -7.7l6.3 -1.6l6.4 7.6z"/>
<path d="M504.8 506.1l-6.3 -7.7l6.4 -1.6l6.3 7.7z"/>
<path d="M498.5 507.7l-6.4 -7.6l6.4 -1.7l6.3 7.7z"/>
<path d="M492.1 522.7l-6.4 .3l6.4 -22.9l6.4 7.6z"/>
<path d="M485.7 524.3l-6.3 .4l6.3 -1.7l6.4 -.3z"/>
<path d="M479.3 526l-6.3 .3l6.4 -1.6l6.3 -.4z"/>
<path d="M472.9 527.6l-6.3 .3l6.4 -1.6l6.3 -.3z"/>
<path d="M466.6 529.2l-6.4 .3l6.4 -1.6l6.3 -.3z"/>
<path d="M460.2 579.9l-6.4 -9.8l6.4 -40.6l6.4 -.3z"/>
<path d="M453.8 581.5l-6.3 -9.8l6.3 -1.6l6.4 9.8z"/>
<path d="M447.4 583.1l-6.3 -9.7l6.4 -1.7l6.3 9.8z"/>
<path d="M441.1 584.7l-6.4 -9.7l6.4 -1.6l6.3 9.7z"/>
<path d="M434.7 586.3l-6.4 -9.7l6.4 -1.6l6.4 9.7z"/>
<path d="M428.3 588l-6.3 -9.8l6.3 -1.6l6.4 9.7z"/>
<path d="M421.9 515.7l-6.3 7.8l6.4 54.7l6.3 9.8z"/>
<path d="M415.6 517.3l-6.4 7.8l6.4 -1.6l6.3 -7.8z"/>
<path d="M409.2 518.9l-6.4 7.9l6.4 -1.7l6.4 -7.8z"/>
<path d="M721.6 457.3l-6.3 -3l6.4 -1.7l6.3 3.1z"/>
<path d="M715.3 459l-6.4 -3.1l6.4 -1.6l6.3 3z"/>
<path d="M708.9 437l-6.4 -6.8l6.4 25.7l6.4 3.1z"/>
<path d="M702.5 438.6l-6.4 -6.7l6.4 -1.7l6.4 6.8z"/>
<path d="M696.1 440.2l-6.3 -6.7l6.3 -1.6l6.4 6.7z"/>
<path d="M689.7 441.9l-6.3 -6.8l6.4 -1.6l6.3 6.7z"/>
<path d="M683.4 443.5l-6.4 -6.8l6.4 -1.6l6.3 6.8z"/>
<path d="M677 445.1l-6.4 -6.7l6.4 -1.7l6.4 6.8z"/>
<path d="M670.6 422l-6.3 .4l6.3 16l6.4 6.7z"/>
<path d="M664.2 423.6l-6.3 .5l6.4 -1.7l6.3 -.4z"/>
<path d="M657.9 425.3l-6.4 .4l6.4 -1.6l6.3 -.5z"/>
<path d="M651.5 426.9l-6.4 .4l6.4 -1.6l6.4 -.4z"/>
<path d="M645.1 428.5l-6.3 .4l6.3 -1.6l6.4 -.4z"/>
<path d="M638.7 439.7l-6.3 -3.2l6.4 -7.6l6.3 -.4z"/>
<path d="M632.3 441.3l-6.3 -3.1l6.4 -1.7l6.3 3.2z"/>
<path d="M626 442.9l-6.4 -3.1l6.4 -1.6l6.3 3.1z"/>
<path d="M619.6 444.5l-6.4 -3.1l6.4 -1.6l6.4 3.1z"/>
<path d="M613.2 446.2l-6.3 -3.2l6.3 -1.6l6.4 3.1z"/>
<path d="M606.8 447.8l-6.3 -3.1l6.4 -1.7l6.3 3.2z"/>
<path d="M600.5 466.8l-6.4 -18.6l6.4 -3.5l6.3 3.1z"/>
<path d="M594.1 468.5l-6.4 -18.7l6.4 -1.6l6.4 18.6z"/>
<path d="M587.7 470.1l-6.3 -18.6l6.3 -1.7l6.4 18.7z"/>
<path d="M581.3 471.7l-6.3 -18.6l6.4 -1.6l6.3 18.6z"/>
<path d="M575 473.3l-6.4 -18.6l6.4 -1.6l6.3 18.6z"/>
<path d="M568.6 485.4l-6.4 -19.7l6.4 -11l6.4 18.6z"/>
<path d="M562.2 487l-6.3 -19.7l6.3 -1.6l6.4 19.7z"/>
<path d="M555.8 488.7l-6.3 -19.8l6.4 -1.6l6.3 19.7z"/>
<path d="M549.4 490.3l-6.3 -19.8l6.4 -1.6l6.3 19.8z"/>
<path d="M543.1 491.9l-6.4 -19.8l6.4 -1.6l6.3 19.8z"/>
<path d="M536.7 512.3l-6.4 -12.7l6.4 -27.5l6.4 19.8z"/>
<path d="M530.3 513.9l-6.3 -12.7l6.3 -1.6l6.4 12.7z"/>
<path d="M523.9 515.6l-6.3 -12.8l6.4 -1.6l6.3 12.7z"/>
<path d="M517.6 517.2l-6.4 -12.7l6.4 -1.7l6.3 12.8z"/>
<path d="M511.2 518.8l-6.4 -12.7l6.4 -1.6l6.4 12.7z"/>
<path d="M504.8 520.4l-6.3 -12.7l6.3 -1.6l6.4 12.7z"/>
<path d="M498.4 564.8l-6.3 -42.1l6.4 -15l6.3 12.7z"/>
<path d="M492.1 566.4l-6.4 -42.1l6.4 -1.6l6.3 42.1z"/>
<path d="M485.7 568l-6.4 -42l6.4 -1.7l6.4 42.1z"/>
<path d="M479.3 569.6l-6.4 -42l6.4 -1.6l6.4 42z"/>
<path d="M472.9 571.3l-6.3 -42.1l6.3 -1.6l6.4 42z"/>
<path d="M466.5 584.5l-6.3 -4.6l6.4 -50.7l6.3 42.1z"/>
<path d="M460.2 586.1l-6.4 -4.6l6.4 -1.6l6.3 4.6z"/>
<path d="M453.8 587.7l-6.4 -4.6l6.4 -1.6l6.4 4.6z"/>
<path d="M447.4 589.3l-6.3 -4.6l6.3 -1.6l6.4 4.6z"/>
<path d="M441 590.9l-6.3 -4.6l6.4 -1.6l6.3 4.6z"/>
<path d="M434.7 592.6l-6.4 -4.6l6.4 -1.7l6.3 4.6z"/>
<path d="M428.3 509.6l-6.4 6.1l6.4 72.3l6.4 4.6z"/>
<path d="M421.9 511.2l-6.3 6.1l6.3 -1.6l6.4 -6.1z"/>
<path d="M415.5 512.8l-6.3 6.1l6.4 -1.6l6.3 -6.1z"/>
</g>
<g id="extras"><g fill="#00f"><circle cx="430.2" cy="57.5" r="4"/><path d="M274.2 242.7A4 4 0 1 1 281.8 242.7z"/><path d="M274.2 242.7A4 4 0 0 0 281.8 242.7z" fill="#8a1fb0"/><path d="M139.2 404.2A4 4 0 1 1 146.8 404.2z"/><path d="M139.2 404.2A4 4 0 0 0 146.8 404.2z" fill="#8a1fb0"/><circle cx="104.0" cy="524.0" r="4"/><circle cx="148.0" cy="535.5" r="4"/><circle cx="165.7" cy="554.0" r="4"/><circle cx="181.5" cy="545.5" r="4"/><circle cx="211.4" cy="546.5" r="4"/><circle cx="249.5" cy="555.4" r="4"/><circle cx="269.5" cy="581.8" r="4"/><circle cx="284.8" cy="584.3" r="4"/><circle cx="281.8" cy="597.7" r="4"/><circle cx="303.7" cy="576.8" r="4"/><circle cx="344.2" cy="594.1" r="4"/><path d="M361.3 544.9A4 4 0 1 1 368.9 544.9z"/><path d="M361.3 544.9A4 4 0 0 0 368.9 544.9z" fill="#8a1fb0"/><path d="M211.2 471.9A4 4 0 1 1 218.8 471.9z"/><path d="M211.2 471.9A4 4 0 0 0 218.8 471.9z" fill="#8a1fb0"/><path d="M299.1 432.2A4 4 0 1 1 306.7 432.2z"/><path d="M299.1 432.2A4 4 0 0 0 306.7 432.2z" fill="#8a1fb0"/><circle cx="415.6" cy="513.2" r="4"/><path d="M486.7 489.5A4 4 0 1 1 494.3 489.5z"/><path d="M486.7 489.5A4 4 0 0 0 494.3 489.5z" fill="#8a1fb0"/><circle cx="448.5" cy="589.5" r="4"/><circle cx="403.6" cy="571.0" r="4"/><circle cx="588.4" cy="469.0" r="4"/><path d="M593.4 413.4A4 4 0 1 1 601.0 413.4z"/><path d="M593.4 413.4A4 4 0 0 0 601.0 413.4z" fill="#8a1fb0"/><path d="M653.5 427.4A4 4 0 1 1 661.1 427.4z"/><path d="M653.5 427.4A4 4 0 0 0 661.1 427.4z" fill="#8a1fb0"/><circle cx="726.5" cy="458.0" r="4"/><path d="M627.4 335.4A4 4 0 1 1 635.0 335.4z"/><path d="M627.4 335.4A4 4 0 0 0 635.0 335.4z" fill="#8a1fb0"/><path d="M455.8 398.4A4 4 0 1 1 463.4 398.4z"/><path d="M455.8 398.4A4 4 0 0 0 463.4 398.4z" fill="#8a1fb0"/></g><g fill="#7a1fa0"><circle cx="315.9" cy="497.5" r="3.6"/><circle cx="418.9" cy="533.6" r="3.6"/><circle cx="475.0" cy="556.4" r="3.6"/></g><circle cx="322.7" cy="593.3" r="5.3" fill="#000"/><path d="M272.9 605.7h8M276.9 601.7v8M274.1 602.9l5.6 5.6M279.7 602.9l-5.6 5.6" stroke="#f00" stroke-width="1" fill="none"/></g>
<g class="tk"><text x="87.9" y="517.2" text-anchor="end">20</text><text x="87.9" y="461.0" text-anchor="end">25</text><text x="87.9" y="404.8" text-anchor="end">30</text><text x="87.9" y="348.6" text-anchor="end">35</text><text x="87.9" y="292.4" text-anchor="end">40</text><text x="87.9" y="236.2" text-anchor="end">45</text><text x="87.9" y="180.0" text-anchor="end">50</text><text x="76.0" y="577.8" text-anchor="middle">500</text><text x="139.3" y="595.3" text-anchor="middle">400</text><text x="201.2" y="610.5" text-anchor="middle">300</text><text x="264.0" y="627.6" text-anchor="middle">200</text><text x="326.3" y="643.3" text-anchor="middle">100</text><text x="469.3" y="650.2" text-anchor="middle">2</text><text x="538.0" y="632.2" text-anchor="middle">4</text><text x="607.0" y="614.3" text-anchor="middle">6</text><text x="676.0" y="596.4" text-anchor="middle">8</text><text x="748.7" y="578.4" text-anchor="middle">10</text></g>
<g class="lb">
<text x="415.5" y="46.4" text-anchor="middle" font-weight="bold" fill="#000" style="fill:#000">Objective function model</text>
<text x="254.8" y="662.2" text-anchor="middle">numTrees</text>
<text x="582.3" y="662" text-anchor="middle">maxNumSplits</text>
<text transform="translate(65.3 347.2) rotate(-90)" text-anchor="middle">Estimated objective function value</text>
</g>
<g class="lg">
<rect x="533.5" y="68.5" width="180" height="69" fill="#fff" stroke="#262626" stroke-width="1"/>
<circle cx="557.1" cy="78.5" r="4" fill="#00f"/>
<rect x="537.5" y="88.5" width="40" height="12" fill="#ff8080" stroke="#000" stroke-width="1"/>
<circle cx="557.1" cy="111.2" r="5.3" fill="#000"/>
<path d="M553.1 127.7h8M557.1 123.7v8M554.3 124.9l5.6 5.6M559.9 124.9l-5.6 5.6" stroke="#f00" stroke-width="1" fill="none"/>
<text x="580.7" y="82.6">Observed points</text>
<text x="580.7" y="100">Model mean</text>
<text x="580.7" y="116.3">Next point</text>
<text x="580.7" y="133.6">Model minimum feasible</text>
</g>
</svg>
</body></html>
